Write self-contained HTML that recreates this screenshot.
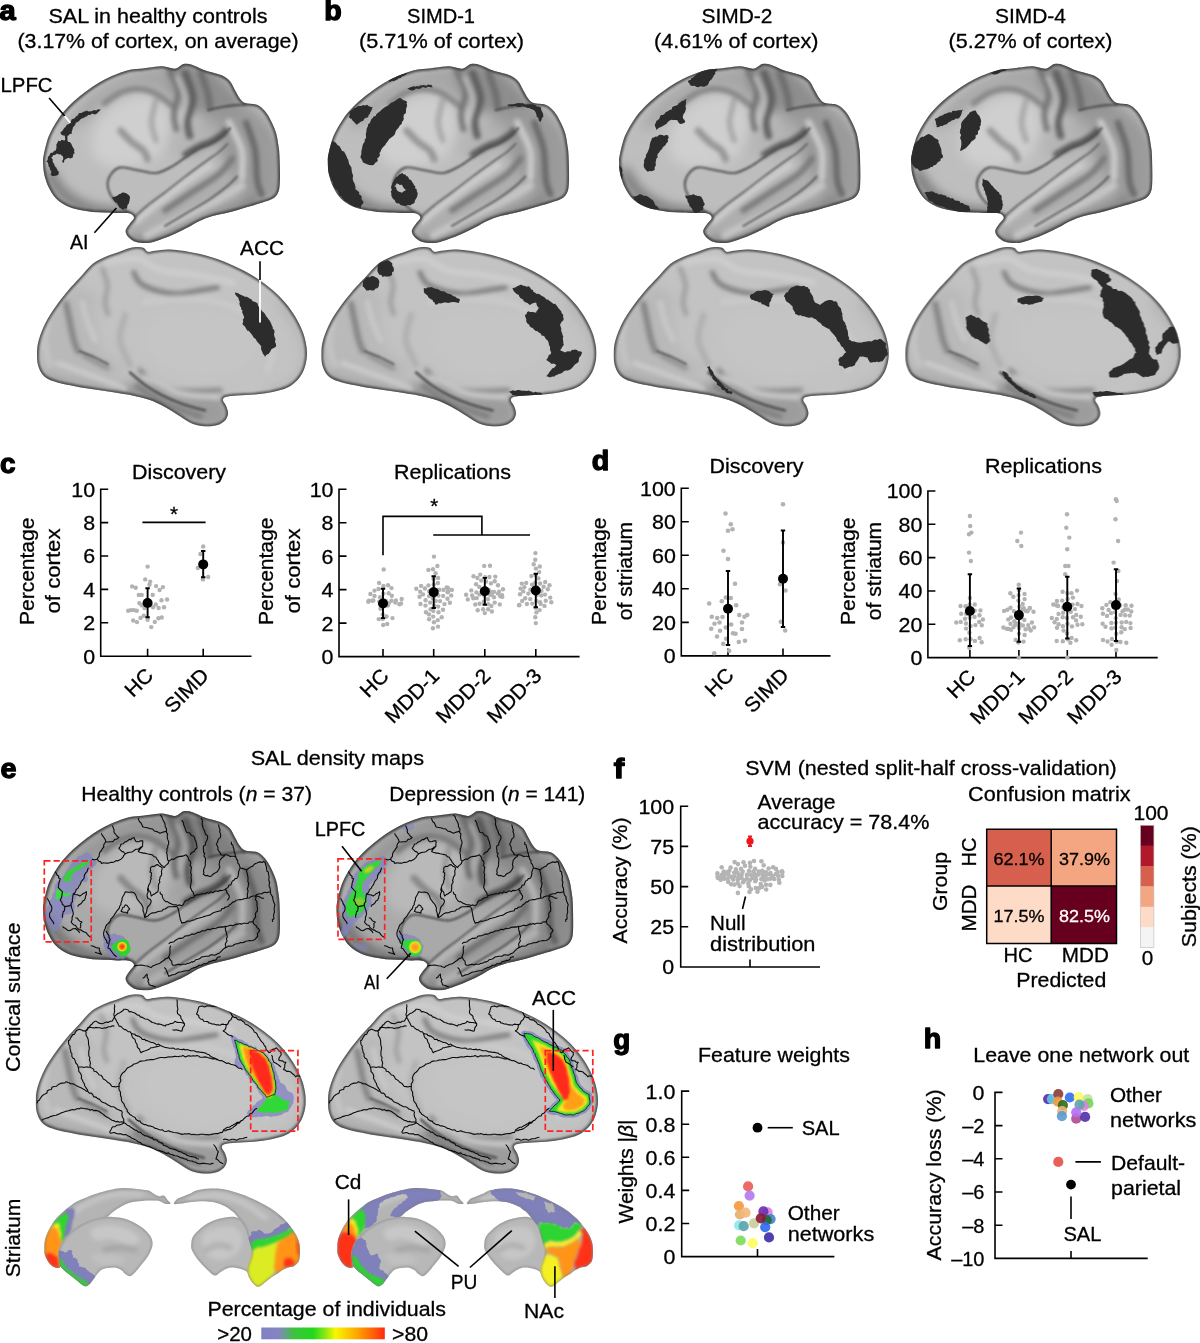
<!DOCTYPE html>
<html><head><meta charset="utf-8"><title>Figure</title>
<style>html,body{margin:0;padding:0;background:#fff}svg{display:block}text{font-family:"Liberation Sans",sans-serif;stroke:#000;stroke-width:0.3px}</style>
</head><body>
<svg width="1200" height="1343" viewBox="0 0 1200 1343">
<rect width="1200" height="1343" fill="#fff"/>
<text x="-0.50" y="20.00" font-size="27.5" textLength="16.20" lengthAdjust="spacingAndGlyphs" font-weight="bold" style="stroke-width:1.3px;stroke-linejoin:round" >a</text>
<text x="324.20" y="20.00" font-size="27.5" textLength="17.50" lengthAdjust="spacingAndGlyphs" font-weight="bold" style="stroke-width:1.3px;stroke-linejoin:round" >b</text>
<text x="48.50" y="23.00" font-size="20.6" textLength="219.00" lengthAdjust="spacingAndGlyphs" >SAL in healthy controls</text>
<text x="17.50" y="48.20" font-size="20.6" textLength="281.00" lengthAdjust="spacingAndGlyphs" >(3.17% of cortex, on average)</text>
<text x="407.00" y="23.00" font-size="20.6" textLength="68.00" lengthAdjust="spacingAndGlyphs" >SIMD-1</text>
<text x="359.00" y="48.20" font-size="20.6" textLength="165.00" lengthAdjust="spacingAndGlyphs" >(5.71% of cortex)</text>
<text x="701.50" y="23.00" font-size="20.6" textLength="71.00" lengthAdjust="spacingAndGlyphs" >SIMD-2</text>
<text x="653.95" y="48.20" font-size="20.6" textLength="164.50" lengthAdjust="spacingAndGlyphs" >(4.61% of cortex)</text>
<text x="995.00" y="23.00" font-size="20.6" textLength="71.00" lengthAdjust="spacingAndGlyphs" >SIMD-4</text>
<text x="948.50" y="48.20" font-size="20.6" textLength="164.00" lengthAdjust="spacingAndGlyphs" >(5.27% of cortex)</text>
<text x="0.50" y="91.50" font-size="20.6" textLength="52.00" lengthAdjust="spacingAndGlyphs" >LPFC</text>
<text x="70.00" y="249.00" font-size="20.6" textLength="18.50" lengthAdjust="spacingAndGlyphs" >AI</text>
<text x="240.00" y="255.00" font-size="20.6" textLength="44.00" lengthAdjust="spacingAndGlyphs" >ACC</text>
<text x="0.00" y="472.50" font-size="27.5" textLength="15.50" lengthAdjust="spacingAndGlyphs" font-weight="bold" style="stroke-width:1.3px;stroke-linejoin:round" >c</text>
<text x="132.00" y="479.00" font-size="20.6" textLength="94.00" lengthAdjust="spacingAndGlyphs" >Discovery</text>
<text x="83.29" y="663.60" font-size="20.6" textLength="11.91" lengthAdjust="spacingAndGlyphs" >0</text>
<text x="83.29" y="630.20" font-size="20.6" textLength="11.91" lengthAdjust="spacingAndGlyphs" >2</text>
<text x="83.29" y="596.80" font-size="20.6" textLength="11.91" lengthAdjust="spacingAndGlyphs" >4</text>
<text x="83.29" y="563.40" font-size="20.6" textLength="11.91" lengthAdjust="spacingAndGlyphs" >6</text>
<text x="83.29" y="530.00" font-size="20.6" textLength="11.91" lengthAdjust="spacingAndGlyphs" >8</text>
<text x="71.37" y="496.60" font-size="20.6" textLength="23.83" lengthAdjust="spacingAndGlyphs" >10</text>
<path d="M100.70 488.40V656.20H251.50M100.70 656.20h7.5M100.70 622.80h7.5M100.70 589.40h7.5M100.70 556.00h7.5M100.70 522.60h7.5M100.70 489.20h7.5M147.60 656.20v-7.5M203.20 656.20v-7.5" stroke="#000" stroke-width="1.6" fill="none" stroke-linecap="butt"/>
<text x="123.95" y="676.70" font-size="20.6" textLength="30.65" lengthAdjust="spacingAndGlyphs" transform="rotate(-45 154.60 676.70)" >HC</text>
<text x="157.15" y="676.70" font-size="20.6" textLength="53.05" lengthAdjust="spacingAndGlyphs" transform="rotate(-45 210.20 676.70)" >SIMD</text>
<text x="-19.75" y="571.30" font-size="20.6" textLength="107.50" lengthAdjust="spacingAndGlyphs" transform="rotate(-90 34.00 571.30)" >Percentage</text>
<text x="17.00" y="571.00" font-size="20.6" textLength="85.00" lengthAdjust="spacingAndGlyphs" transform="rotate(-90 59.50 571.00)" >of cortex</text>
<g fill="#b2b2b2"><circle cx="147.6" cy="566.6" r="2.2"/><circle cx="145.2" cy="579.4" r="2.2"/><circle cx="150.2" cy="581.6" r="2.2"/><circle cx="149.5" cy="584.7" r="2.2"/><circle cx="132.1" cy="586.4" r="2.2"/><circle cx="135.7" cy="587.8" r="2.2"/><circle cx="156.1" cy="586.1" r="2.2"/><circle cx="162.9" cy="587.1" r="2.2"/><circle cx="159.6" cy="590.0" r="2.2"/><circle cx="138.8" cy="594.9" r="2.2"/><circle cx="141.7" cy="594.9" r="2.2"/><circle cx="152.7" cy="594.9" r="2.2"/><circle cx="167.1" cy="599.5" r="2.2"/><circle cx="161.5" cy="600.2" r="2.2"/><circle cx="139.3" cy="603.1" r="2.2"/><circle cx="155.8" cy="604.5" r="2.2"/><circle cx="141.7" cy="605.2" r="2.2"/><circle cx="144.5" cy="608.0" r="2.2"/><circle cx="153.0" cy="607.3" r="2.2"/><circle cx="158.6" cy="608.0" r="2.2"/><circle cx="164.0" cy="607.3" r="2.2"/><circle cx="128.2" cy="610.8" r="2.2"/><circle cx="131.1" cy="610.1" r="2.2"/><circle cx="133.9" cy="610.1" r="2.2"/><circle cx="136.7" cy="610.8" r="2.2"/><circle cx="143.8" cy="615.8" r="2.2"/><circle cx="140.5" cy="617.9" r="2.2"/><circle cx="147.6" cy="619.7" r="2.2"/><circle cx="133.2" cy="620.5" r="2.2"/><circle cx="137.0" cy="622.1" r="2.2"/><circle cx="158.4" cy="618.3" r="2.2"/><circle cx="161.8" cy="617.5" r="2.2"/><circle cx="154.8" cy="621.9" r="2.2"/><circle cx="151.3" cy="627.1" r="2.2"/><circle cx="203.2" cy="546.5" r="2.2"/><circle cx="200.4" cy="554.0" r="2.2"/><circle cx="197.8" cy="568.0" r="2.2"/><circle cx="208.2" cy="577.0" r="2.2"/><circle cx="202.9" cy="579.4" r="2.2"/></g>
<path d="M147.60 588.20V617.20M145.40 588.20h4.4M145.40 617.20h4.4" stroke="#000" stroke-width="1.9" fill="none"/>
<circle cx="147.60" cy="603.00" r="5" fill="#000"/>
<path d="M203.20 551.00V577.30M201.00 551.00h4.4M201.00 577.30h4.4" stroke="#000" stroke-width="1.9" fill="none"/>
<circle cx="203.20" cy="564.40" r="5" fill="#000"/>
<path d="M142.4 522.4H205.6" stroke="#000" stroke-width="1.6" fill="none" stroke-linecap="butt"/>
<text x="169.99" y="521.00" font-size="20.6" textLength="8.02" lengthAdjust="spacingAndGlyphs" >*</text>
<text x="394.00" y="479.00" font-size="20.6" textLength="117.00" lengthAdjust="spacingAndGlyphs" >Replications</text>
<text x="321.59" y="664.00" font-size="20.6" textLength="11.91" lengthAdjust="spacingAndGlyphs" >0</text>
<text x="321.59" y="630.52" font-size="20.6" textLength="11.91" lengthAdjust="spacingAndGlyphs" >2</text>
<text x="321.59" y="597.04" font-size="20.6" textLength="11.91" lengthAdjust="spacingAndGlyphs" >4</text>
<text x="321.59" y="563.56" font-size="20.6" textLength="11.91" lengthAdjust="spacingAndGlyphs" >6</text>
<text x="321.59" y="530.08" font-size="20.6" textLength="11.91" lengthAdjust="spacingAndGlyphs" >8</text>
<text x="309.67" y="496.60" font-size="20.6" textLength="23.83" lengthAdjust="spacingAndGlyphs" >10</text>
<path d="M339.00 488.40V656.60H579.60M339.00 656.60h7.5M339.00 623.12h7.5M339.00 589.64h7.5M339.00 556.16h7.5M339.00 522.68h7.5M339.00 489.20h7.5M383.00 656.60v-7.5M433.70 656.60v-7.5M484.80 656.60v-7.5M535.80 656.60v-7.5" stroke="#000" stroke-width="1.6" fill="none" stroke-linecap="butt"/>
<text x="359.35" y="677.10" font-size="20.6" textLength="30.65" lengthAdjust="spacingAndGlyphs" transform="rotate(-45 390.00 677.10)" >HC</text>
<text x="373.52" y="677.10" font-size="20.6" textLength="67.18" lengthAdjust="spacingAndGlyphs" transform="rotate(-45 440.70 677.10)" >MDD-1</text>
<text x="424.62" y="677.10" font-size="20.6" textLength="67.18" lengthAdjust="spacingAndGlyphs" transform="rotate(-45 491.80 677.10)" >MDD-2</text>
<text x="475.62" y="677.10" font-size="20.6" textLength="67.18" lengthAdjust="spacingAndGlyphs" transform="rotate(-45 542.80 677.10)" >MDD-3</text>
<text x="219.25" y="571.30" font-size="20.6" textLength="107.50" lengthAdjust="spacingAndGlyphs" transform="rotate(-90 273.00 571.30)" >Percentage</text>
<text x="257.00" y="571.00" font-size="20.6" textLength="85.00" lengthAdjust="spacingAndGlyphs" transform="rotate(-90 299.50 571.00)" >of cortex</text>
<g fill="#b2b2b2"><circle cx="382.4" cy="604.5" r="2.2"/><circle cx="385.9" cy="600.7" r="2.2"/><circle cx="383.4" cy="586.0" r="2.2"/><circle cx="379.3" cy="601.6" r="2.2"/><circle cx="383.4" cy="593.6" r="2.2"/><circle cx="387.9" cy="605.6" r="2.2"/><circle cx="391.5" cy="600.7" r="2.2"/><circle cx="388.1" cy="585.2" r="2.2"/><circle cx="373.3" cy="600.4" r="2.2"/><circle cx="395.9" cy="600.5" r="2.2"/><circle cx="368.3" cy="601.7" r="2.2"/><circle cx="401.7" cy="599.0" r="2.2"/><circle cx="388.7" cy="593.3" r="2.2"/><circle cx="384.8" cy="602.4" r="2.2"/><circle cx="382.7" cy="614.4" r="2.2"/><circle cx="399.4" cy="604.3" r="2.2"/><circle cx="380.5" cy="608.7" r="2.2"/><circle cx="378.5" cy="589.0" r="2.2"/><circle cx="386.5" cy="616.5" r="2.2"/><circle cx="382.8" cy="618.9" r="2.2"/><circle cx="383.2" cy="625.0" r="2.2"/><circle cx="388.9" cy="603.1" r="2.2"/><circle cx="391.5" cy="588.1" r="2.2"/><circle cx="378.7" cy="619.1" r="2.2"/><circle cx="380.1" cy="597.2" r="2.2"/><circle cx="372.3" cy="600.7" r="2.2"/><circle cx="392.5" cy="618.1" r="2.2"/><circle cx="374.5" cy="595.9" r="2.2"/><circle cx="401.0" cy="603.5" r="2.2"/><circle cx="395.4" cy="602.6" r="2.2"/><circle cx="387.2" cy="624.0" r="2.2"/><circle cx="391.8" cy="595.8" r="2.2"/><circle cx="370.4" cy="594.0" r="2.2"/><circle cx="379.1" cy="582.9" r="2.2"/><circle cx="368.9" cy="600.6" r="2.2"/><circle cx="374.5" cy="590.6" r="2.2"/><circle cx="383.7" cy="569.5" r="2.2"/></g>
<path d="M383.00 588.80V618.10M380.80 588.80h4.4M380.80 618.10h4.4" stroke="#000" stroke-width="1.9" fill="none"/>
<circle cx="383.00" cy="603.53" r="5" fill="#000"/>
<g fill="#b2b2b2"><circle cx="433.8" cy="584.5" r="2.2"/><circle cx="433.2" cy="589.1" r="2.2"/><circle cx="434.4" cy="605.7" r="2.2"/><circle cx="439.4" cy="589.8" r="2.2"/><circle cx="433.6" cy="578.9" r="2.2"/><circle cx="434.0" cy="596.8" r="2.2"/><circle cx="438.2" cy="606.6" r="2.2"/><circle cx="433.3" cy="611.1" r="2.2"/><circle cx="438.4" cy="595.5" r="2.2"/><circle cx="429.0" cy="596.1" r="2.2"/><circle cx="429.2" cy="591.3" r="2.2"/><circle cx="430.5" cy="609.2" r="2.2"/><circle cx="433.0" cy="569.2" r="2.2"/><circle cx="443.2" cy="595.9" r="2.2"/><circle cx="423.0" cy="594.4" r="2.2"/><circle cx="430.1" cy="602.6" r="2.2"/><circle cx="438.5" cy="612.3" r="2.2"/><circle cx="435.7" cy="600.9" r="2.2"/><circle cx="428.4" cy="585.4" r="2.2"/><circle cx="424.9" cy="588.5" r="2.2"/><circle cx="443.5" cy="589.9" r="2.2"/><circle cx="433.2" cy="616.6" r="2.2"/><circle cx="447.6" cy="592.3" r="2.2"/><circle cx="437.4" cy="566.0" r="2.2"/><circle cx="440.1" cy="601.1" r="2.2"/><circle cx="420.2" cy="591.8" r="2.2"/><circle cx="434.0" cy="622.2" r="2.2"/><circle cx="448.0" cy="587.9" r="2.2"/><circle cx="416.3" cy="588.7" r="2.2"/><circle cx="419.5" cy="596.7" r="2.2"/><circle cx="425.5" cy="605.6" r="2.2"/><circle cx="425.6" cy="600.3" r="2.2"/><circle cx="444.5" cy="604.1" r="2.2"/><circle cx="443.0" cy="609.8" r="2.2"/><circle cx="432.9" cy="628.3" r="2.2"/><circle cx="435.6" cy="573.2" r="2.2"/><circle cx="437.8" cy="620.1" r="2.2"/><circle cx="447.5" cy="598.7" r="2.2"/><circle cx="446.7" cy="587.5" r="2.2"/><circle cx="434.0" cy="556.6" r="2.2"/><circle cx="437.9" cy="583.0" r="2.2"/><circle cx="451.8" cy="589.9" r="2.2"/><circle cx="438.1" cy="577.9" r="2.2"/><circle cx="429.0" cy="614.4" r="2.2"/><circle cx="451.2" cy="595.4" r="2.2"/><circle cx="438.0" cy="626.6" r="2.2"/><circle cx="429.1" cy="619.3" r="2.2"/><circle cx="426.0" cy="612.2" r="2.2"/><circle cx="421.1" cy="585.9" r="2.2"/><circle cx="420.5" cy="604.0" r="2.2"/><circle cx="449.9" cy="602.7" r="2.2"/><circle cx="441.7" cy="617.3" r="2.2"/><circle cx="448.1" cy="591.5" r="2.2"/><circle cx="432.9" cy="598.4" r="2.2"/><circle cx="428.4" cy="569.9" r="2.2"/></g>
<path d="M433.70 576.25V608.05M431.50 576.25h4.4M431.50 608.05h4.4" stroke="#000" stroke-width="1.9" fill="none"/>
<circle cx="433.70" cy="592.15" r="5" fill="#000"/>
<g fill="#b2b2b2"><circle cx="484.2" cy="565.9" r="2.2"/><circle cx="485.0" cy="588.1" r="2.2"/><circle cx="484.3" cy="595.6" r="2.2"/><circle cx="490.1" cy="594.8" r="2.2"/><circle cx="485.0" cy="577.3" r="2.2"/><circle cx="479.6" cy="594.4" r="2.2"/><circle cx="494.0" cy="597.2" r="2.2"/><circle cx="487.9" cy="599.2" r="2.2"/><circle cx="486.1" cy="581.5" r="2.2"/><circle cx="488.8" cy="590.0" r="2.2"/><circle cx="494.0" cy="591.9" r="2.2"/><circle cx="483.8" cy="601.8" r="2.2"/><circle cx="476.4" cy="592.4" r="2.2"/><circle cx="488.2" cy="604.1" r="2.2"/><circle cx="479.6" cy="603.8" r="2.2"/><circle cx="491.4" cy="606.0" r="2.2"/><circle cx="481.2" cy="580.6" r="2.2"/><circle cx="475.3" cy="604.5" r="2.2"/><circle cx="472.1" cy="595.5" r="2.2"/><circle cx="499.0" cy="591.7" r="2.2"/><circle cx="494.7" cy="602.6" r="2.2"/><circle cx="499.8" cy="604.4" r="2.2"/><circle cx="489.4" cy="577.0" r="2.2"/><circle cx="484.8" cy="613.1" r="2.2"/><circle cx="480.2" cy="574.6" r="2.2"/><circle cx="502.0" cy="595.1" r="2.2"/><circle cx="490.0" cy="565.8" r="2.2"/><circle cx="488.1" cy="609.2" r="2.2"/><circle cx="477.4" cy="578.0" r="2.2"/><circle cx="466.1" cy="594.8" r="2.2"/><circle cx="491.1" cy="591.9" r="2.2"/><circle cx="483.1" cy="609.2" r="2.2"/><circle cx="500.3" cy="596.2" r="2.2"/><circle cx="498.0" cy="593.6" r="2.2"/><circle cx="477.7" cy="610.3" r="2.2"/><circle cx="502.3" cy="596.7" r="2.2"/><circle cx="491.6" cy="594.5" r="2.2"/><circle cx="471.3" cy="590.4" r="2.2"/><circle cx="479.3" cy="586.9" r="2.2"/><circle cx="490.9" cy="583.4" r="2.2"/><circle cx="503.0" cy="589.2" r="2.2"/><circle cx="494.7" cy="581.3" r="2.2"/><circle cx="491.9" cy="611.5" r="2.2"/><circle cx="476.7" cy="598.1" r="2.2"/><circle cx="476.1" cy="584.3" r="2.2"/><circle cx="473.3" cy="598.3" r="2.2"/><circle cx="495.3" cy="576.6" r="2.2"/><circle cx="498.0" cy="585.2" r="2.2"/><circle cx="467.8" cy="599.4" r="2.2"/><circle cx="473.5" cy="576.2" r="2.2"/></g>
<path d="M484.80 577.92V604.71M482.60 577.92h4.4M482.60 604.71h4.4" stroke="#000" stroke-width="1.9" fill="none"/>
<circle cx="484.80" cy="591.31" r="5" fill="#000"/>
<g fill="#b2b2b2"><circle cx="536.6" cy="595.1" r="2.2"/><circle cx="535.7" cy="575.0" r="2.2"/><circle cx="541.2" cy="595.4" r="2.2"/><circle cx="536.2" cy="589.3" r="2.2"/><circle cx="535.3" cy="582.7" r="2.2"/><circle cx="540.1" cy="583.5" r="2.2"/><circle cx="532.0" cy="584.6" r="2.2"/><circle cx="526.2" cy="582.9" r="2.2"/><circle cx="543.6" cy="586.8" r="2.2"/><circle cx="541.4" cy="590.9" r="2.2"/><circle cx="536.4" cy="600.9" r="2.2"/><circle cx="545.2" cy="582.0" r="2.2"/><circle cx="540.1" cy="602.3" r="2.2"/><circle cx="530.4" cy="589.8" r="2.2"/><circle cx="528.3" cy="593.6" r="2.2"/><circle cx="545.0" cy="594.6" r="2.2"/><circle cx="538.4" cy="578.4" r="2.2"/><circle cx="530.2" cy="599.1" r="2.2"/><circle cx="525.2" cy="598.2" r="2.2"/><circle cx="521.8" cy="583.6" r="2.2"/><circle cx="523.3" cy="591.4" r="2.2"/><circle cx="545.7" cy="600.8" r="2.2"/><circle cx="550.2" cy="597.6" r="2.2"/><circle cx="522.2" cy="600.9" r="2.2"/><circle cx="535.7" cy="607.8" r="2.2"/><circle cx="532.3" cy="603.6" r="2.2"/><circle cx="526.9" cy="604.0" r="2.2"/><circle cx="551.3" cy="602.3" r="2.2"/><circle cx="519.4" cy="604.9" r="2.2"/><circle cx="539.6" cy="610.1" r="2.2"/><circle cx="535.9" cy="568.6" r="2.2"/><circle cx="544.5" cy="605.9" r="2.2"/><circle cx="520.0" cy="594.2" r="2.2"/><circle cx="547.8" cy="589.3" r="2.2"/><circle cx="524.4" cy="587.1" r="2.2"/><circle cx="519.1" cy="605.3" r="2.2"/><circle cx="535.3" cy="617.2" r="2.2"/><circle cx="520.6" cy="588.6" r="2.2"/><circle cx="531.4" cy="576.0" r="2.2"/><circle cx="536.4" cy="612.4" r="2.2"/><circle cx="535.8" cy="623.1" r="2.2"/><circle cx="540.7" cy="603.9" r="2.2"/><circle cx="549.5" cy="585.3" r="2.2"/><circle cx="539.8" cy="566.5" r="2.2"/><circle cx="539.2" cy="572.1" r="2.2"/><circle cx="533.7" cy="564.3" r="2.2"/><circle cx="535.4" cy="553.1" r="2.2"/><circle cx="535.2" cy="559.7" r="2.2"/></g>
<path d="M535.80 573.74V607.22M533.60 573.74h4.4M533.60 607.22h4.4" stroke="#000" stroke-width="1.9" fill="none"/>
<circle cx="535.80" cy="590.48" r="5" fill="#000"/>
<path d="M383 555.2V516.4H481.9V535M433.2 535H530" stroke="#000" stroke-width="1.6" fill="none" stroke-linecap="butt"/>
<text x="430.29" y="513.00" font-size="20.6" textLength="8.02" lengthAdjust="spacingAndGlyphs" >*</text>
<text x="591.70" y="470.00" font-size="27.5" textLength="17.50" lengthAdjust="spacingAndGlyphs" font-weight="bold" style="stroke-width:1.3px;stroke-linejoin:round" >d</text>
<text x="709.50" y="472.50" font-size="20.6" textLength="94.00" lengthAdjust="spacingAndGlyphs" >Discovery</text>
<text x="663.89" y="663.30" font-size="20.6" textLength="11.91" lengthAdjust="spacingAndGlyphs" >0</text>
<text x="651.97" y="629.76" font-size="20.6" textLength="23.83" lengthAdjust="spacingAndGlyphs" >20</text>
<text x="651.97" y="596.22" font-size="20.6" textLength="23.83" lengthAdjust="spacingAndGlyphs" >40</text>
<text x="651.97" y="562.68" font-size="20.6" textLength="23.83" lengthAdjust="spacingAndGlyphs" >60</text>
<text x="651.97" y="529.14" font-size="20.6" textLength="23.83" lengthAdjust="spacingAndGlyphs" >80</text>
<text x="640.06" y="495.60" font-size="20.6" textLength="35.74" lengthAdjust="spacingAndGlyphs" >100</text>
<path d="M681.30 487.40V655.90H830.50M681.30 655.90h7.5M681.30 622.36h7.5M681.30 588.82h7.5M681.30 555.28h7.5M681.30 521.74h7.5M681.30 488.20h7.5M728.00 655.90v-7.5M783.00 655.90v-7.5" stroke="#000" stroke-width="1.6" fill="none" stroke-linecap="butt"/>
<text x="704.35" y="676.40" font-size="20.6" textLength="30.65" lengthAdjust="spacingAndGlyphs" transform="rotate(-45 735.00 676.40)" >HC</text>
<text x="736.96" y="676.40" font-size="20.6" textLength="53.05" lengthAdjust="spacingAndGlyphs" transform="rotate(-45 790.00 676.40)" >SIMD</text>
<text x="552.25" y="571.30" font-size="20.6" textLength="107.50" lengthAdjust="spacingAndGlyphs" transform="rotate(-90 606.00 571.30)" >Percentage</text>
<text x="582.85" y="571.00" font-size="20.6" textLength="98.30" lengthAdjust="spacingAndGlyphs" transform="rotate(-90 632.00 571.00)" >of striatum</text>
<g fill="#b2b2b2"><circle cx="725.5" cy="513.5" r="2.3"/><circle cx="730.8" cy="524.2" r="2.3"/><circle cx="732.5" cy="529.2" r="2.3"/><circle cx="728.0" cy="530.8" r="2.3"/><circle cx="723.5" cy="550.8" r="2.3"/><circle cx="728.0" cy="559.0" r="2.3"/><circle cx="735.0" cy="583.8" r="2.3"/><circle cx="725.8" cy="597.5" r="2.3"/><circle cx="730.8" cy="598.0" r="2.3"/><circle cx="721.8" cy="601.2" r="2.3"/><circle cx="709.2" cy="603.5" r="2.3"/><circle cx="736.2" cy="605.2" r="2.3"/><circle cx="711.8" cy="616.8" r="2.3"/><circle cx="717.2" cy="618.0" r="2.3"/><circle cx="722.5" cy="617.0" r="2.3"/><circle cx="739.2" cy="615.0" r="2.3"/><circle cx="744.5" cy="616.8" r="2.3"/><circle cx="747.2" cy="615.0" r="2.3"/><circle cx="714.5" cy="623.8" r="2.3"/><circle cx="719.5" cy="622.5" r="2.3"/><circle cx="731.2" cy="624.5" r="2.3"/><circle cx="742.0" cy="622.5" r="2.3"/><circle cx="711.2" cy="628.8" r="2.3"/><circle cx="725.8" cy="627.5" r="2.3"/><circle cx="742.0" cy="629.0" r="2.3"/><circle cx="720.0" cy="630.8" r="2.3"/><circle cx="733.0" cy="633.2" r="2.3"/><circle cx="735.5" cy="633.8" r="2.3"/><circle cx="726.2" cy="638.8" r="2.3"/><circle cx="717.0" cy="636.5" r="2.3"/><circle cx="723.2" cy="643.8" r="2.3"/><circle cx="738.8" cy="642.0" r="2.3"/><circle cx="745.0" cy="640.8" r="2.3"/><circle cx="729.2" cy="650.8" r="2.3"/><circle cx="714.2" cy="653.2" r="2.3"/><circle cx="783.0" cy="504.2" r="2.3"/><circle cx="783.0" cy="542.5" r="2.3"/><circle cx="780.0" cy="584.2" r="2.3"/><circle cx="785.5" cy="590.5" r="2.3"/><circle cx="780.8" cy="621.8" r="2.3"/><circle cx="785.2" cy="630.5" r="2.3"/></g>
<path d="M728.00 571.00V645.00M725.80 571.00h4.4M725.80 645.00h4.4" stroke="#000" stroke-width="1.9" fill="none"/>
<circle cx="728.00" cy="608.75" r="5" fill="#000"/>
<path d="M783.00 530.50V627.00M780.80 530.50h4.4M780.80 627.00h4.4" stroke="#000" stroke-width="1.9" fill="none"/>
<circle cx="783.00" cy="578.75" r="5" fill="#000"/>
<text x="985.00" y="472.50" font-size="20.6" textLength="117.00" lengthAdjust="spacingAndGlyphs" >Replications</text>
<text x="910.49" y="665.00" font-size="20.6" textLength="11.91" lengthAdjust="spacingAndGlyphs" >0</text>
<text x="898.57" y="631.68" font-size="20.6" textLength="23.83" lengthAdjust="spacingAndGlyphs" >20</text>
<text x="898.57" y="598.36" font-size="20.6" textLength="23.83" lengthAdjust="spacingAndGlyphs" >40</text>
<text x="898.57" y="565.04" font-size="20.6" textLength="23.83" lengthAdjust="spacingAndGlyphs" >60</text>
<text x="898.57" y="531.72" font-size="20.6" textLength="23.83" lengthAdjust="spacingAndGlyphs" >80</text>
<text x="886.66" y="498.40" font-size="20.6" textLength="35.74" lengthAdjust="spacingAndGlyphs" >100</text>
<path d="M927.90 490.20V657.60H1157.70M927.90 657.60h7.5M927.90 624.28h7.5M927.90 590.96h7.5M927.90 557.64h7.5M927.90 524.32h7.5M927.90 491.00h7.5M969.90 657.60v-7.5M1018.90 657.60v-7.5M1067.30 657.60v-7.5M1116.00 657.60v-7.5" stroke="#000" stroke-width="1.6" fill="none" stroke-linecap="butt"/>
<text x="946.25" y="678.10" font-size="20.6" textLength="30.65" lengthAdjust="spacingAndGlyphs" transform="rotate(-45 976.90 678.10)" >HC</text>
<text x="958.72" y="678.10" font-size="20.6" textLength="67.18" lengthAdjust="spacingAndGlyphs" transform="rotate(-45 1025.90 678.10)" >MDD-1</text>
<text x="1007.12" y="678.10" font-size="20.6" textLength="67.18" lengthAdjust="spacingAndGlyphs" transform="rotate(-45 1074.30 678.10)" >MDD-2</text>
<text x="1055.82" y="678.10" font-size="20.6" textLength="67.18" lengthAdjust="spacingAndGlyphs" transform="rotate(-45 1123.00 678.10)" >MDD-3</text>
<text x="801.65" y="571.30" font-size="20.6" textLength="107.50" lengthAdjust="spacingAndGlyphs" transform="rotate(-90 855.40 571.30)" >Percentage</text>
<text x="831.85" y="571.00" font-size="20.6" textLength="98.30" lengthAdjust="spacingAndGlyphs" transform="rotate(-90 881.00 571.00)" >of striatum</text>
<g fill="#b2b2b2"><circle cx="970.6" cy="626.1" r="2.2"/><circle cx="969.7" cy="617.8" r="2.2"/><circle cx="975.4" cy="625.1" r="2.2"/><circle cx="974.5" cy="616.9" r="2.2"/><circle cx="969.9" cy="598.0" r="2.2"/><circle cx="969.5" cy="610.4" r="2.2"/><circle cx="965.0" cy="618.8" r="2.2"/><circle cx="966.2" cy="613.8" r="2.2"/><circle cx="974.8" cy="610.6" r="2.2"/><circle cx="969.6" cy="604.5" r="2.2"/><circle cx="961.2" cy="613.8" r="2.2"/><circle cx="980.4" cy="610.4" r="2.2"/><circle cx="970.6" cy="639.3" r="2.2"/><circle cx="969.3" cy="647.8" r="2.2"/><circle cx="966.1" cy="628.6" r="2.2"/><circle cx="974.9" cy="640.9" r="2.2"/><circle cx="974.8" cy="604.5" r="2.2"/><circle cx="966.0" cy="623.5" r="2.2"/><circle cx="979.2" cy="621.9" r="2.2"/><circle cx="979.5" cy="615.3" r="2.2"/><circle cx="960.7" cy="621.9" r="2.2"/><circle cx="982.9" cy="619.5" r="2.2"/><circle cx="965.7" cy="639.2" r="2.2"/><circle cx="979.6" cy="638.0" r="2.2"/><circle cx="956.3" cy="622.5" r="2.2"/><circle cx="959.8" cy="640.3" r="2.2"/><circle cx="965.6" cy="606.2" r="2.2"/><circle cx="981.7" cy="642.2" r="2.2"/><circle cx="960.5" cy="606.0" r="2.2"/><circle cx="969.4" cy="632.7" r="2.2"/><circle cx="981.8" cy="625.3" r="2.2"/><circle cx="969.9" cy="516.0" r="2.2"/><circle cx="970.2" cy="526.0" r="2.2"/><circle cx="971.4" cy="532.6" r="2.2"/><circle cx="969.0" cy="534.3" r="2.2"/><circle cx="969.0" cy="552.6" r="2.2"/><circle cx="970.9" cy="561.0" r="2.2"/></g>
<path d="M969.90 574.30V645.94M967.70 574.30h4.4M967.70 645.94h4.4" stroke="#000" stroke-width="1.9" fill="none"/>
<circle cx="969.90" cy="610.95" r="5" fill="#000"/>
<g fill="#b2b2b2"><circle cx="1019.4" cy="606.5" r="2.2"/><circle cx="1018.4" cy="623.4" r="2.2"/><circle cx="1019.6" cy="618.5" r="2.2"/><circle cx="1022.9" cy="625.5" r="2.2"/><circle cx="1018.7" cy="595.1" r="2.2"/><circle cx="1019.1" cy="590.1" r="2.2"/><circle cx="1018.4" cy="600.6" r="2.2"/><circle cx="1014.4" cy="621.3" r="2.2"/><circle cx="1022.8" cy="609.0" r="2.2"/><circle cx="1018.5" cy="612.4" r="2.2"/><circle cx="1019.2" cy="628.1" r="2.2"/><circle cx="1013.8" cy="611.1" r="2.2"/><circle cx="1022.7" cy="603.9" r="2.2"/><circle cx="1013.5" cy="627.1" r="2.2"/><circle cx="1010.5" cy="607.8" r="2.2"/><circle cx="1028.2" cy="625.1" r="2.2"/><circle cx="1027.5" cy="611.2" r="2.2"/><circle cx="1008.7" cy="628.9" r="2.2"/><circle cx="1007.4" cy="609.8" r="2.2"/><circle cx="1025.6" cy="629.2" r="2.2"/><circle cx="1024.3" cy="620.0" r="2.2"/><circle cx="1010.5" cy="623.7" r="2.2"/><circle cx="1019.0" cy="633.6" r="2.2"/><circle cx="1029.8" cy="607.9" r="2.2"/><circle cx="1033.5" cy="611.8" r="2.2"/><circle cx="1025.4" cy="610.7" r="2.2"/><circle cx="1023.8" cy="608.2" r="2.2"/><circle cx="1018.3" cy="642.6" r="2.2"/><circle cx="1030.8" cy="630.6" r="2.2"/><circle cx="1003.4" cy="627.5" r="2.2"/><circle cx="1023.5" cy="641.6" r="2.2"/><circle cx="1024.6" cy="635.0" r="2.2"/><circle cx="1015.6" cy="639.9" r="2.2"/><circle cx="1034.1" cy="627.4" r="2.2"/><circle cx="1011.1" cy="617.5" r="2.2"/><circle cx="1006.7" cy="628.8" r="2.2"/><circle cx="1011.1" cy="629.8" r="2.2"/><circle cx="1015.1" cy="625.1" r="2.2"/><circle cx="1019.6" cy="610.6" r="2.2"/><circle cx="1029.2" cy="628.4" r="2.2"/><circle cx="1031.9" cy="622.5" r="2.2"/><circle cx="1018.9" cy="626.8" r="2.2"/><circle cx="1024.5" cy="593.9" r="2.2"/><circle cx="1013.3" cy="596.7" r="2.2"/><circle cx="1004.1" cy="610.9" r="2.2"/><circle cx="1008.3" cy="619.4" r="2.2"/><circle cx="1010.3" cy="593.2" r="2.2"/><circle cx="1029.7" cy="608.5" r="2.2"/><circle cx="1016.1" cy="623.9" r="2.2"/><circle cx="1024.6" cy="599.1" r="2.2"/><circle cx="1019.9" cy="624.2" r="2.2"/><circle cx="1018.8" cy="584.8" r="2.2"/><circle cx="1021.0" cy="532.6" r="2.2"/><circle cx="1017.3" cy="541.0" r="2.2"/><circle cx="1021.3" cy="546.0" r="2.2"/><circle cx="1018.9" cy="657.6" r="2.2"/></g>
<path d="M1018.90 588.46V641.77M1016.70 588.46h4.4M1016.70 641.77h4.4" stroke="#000" stroke-width="1.9" fill="none"/>
<circle cx="1018.90" cy="615.12" r="5" fill="#000"/>
<g fill="#b2b2b2"><circle cx="1067.3" cy="604.0" r="2.2"/><circle cx="1072.6" cy="604.6" r="2.2"/><circle cx="1067.5" cy="623.8" r="2.2"/><circle cx="1067.6" cy="599.1" r="2.2"/><circle cx="1072.9" cy="597.6" r="2.2"/><circle cx="1067.7" cy="609.5" r="2.2"/><circle cx="1070.8" cy="611.7" r="2.2"/><circle cx="1066.9" cy="618.0" r="2.2"/><circle cx="1063.2" cy="607.4" r="2.2"/><circle cx="1058.1" cy="606.0" r="2.2"/><circle cx="1073.0" cy="617.2" r="2.2"/><circle cx="1062.7" cy="617.2" r="2.2"/><circle cx="1076.2" cy="614.9" r="2.2"/><circle cx="1076.1" cy="620.4" r="2.2"/><circle cx="1074.9" cy="609.1" r="2.2"/><circle cx="1077.5" cy="604.0" r="2.2"/><circle cx="1072.0" cy="626.4" r="2.2"/><circle cx="1056.8" cy="618.9" r="2.2"/><circle cx="1062.2" cy="600.6" r="2.2"/><circle cx="1063.1" cy="612.7" r="2.2"/><circle cx="1058.5" cy="613.9" r="2.2"/><circle cx="1062.9" cy="626.2" r="2.2"/><circle cx="1058.6" cy="624.3" r="2.2"/><circle cx="1054.6" cy="622.2" r="2.2"/><circle cx="1067.0" cy="633.4" r="2.2"/><circle cx="1077.5" cy="624.7" r="2.2"/><circle cx="1057.0" cy="627.7" r="2.2"/><circle cx="1067.4" cy="593.2" r="2.2"/><circle cx="1068.0" cy="639.4" r="2.2"/><circle cx="1080.8" cy="616.7" r="2.2"/><circle cx="1071.6" cy="637.9" r="2.2"/><circle cx="1056.9" cy="601.0" r="2.2"/><circle cx="1063.6" cy="630.6" r="2.2"/><circle cx="1082.3" cy="624.3" r="2.2"/><circle cx="1071.5" cy="593.1" r="2.2"/><circle cx="1062.8" cy="641.2" r="2.2"/><circle cx="1081.5" cy="606.0" r="2.2"/><circle cx="1076.2" cy="640.3" r="2.2"/><circle cx="1053.3" cy="604.5" r="2.2"/><circle cx="1056.4" cy="605.2" r="2.2"/><circle cx="1070.4" cy="642.7" r="2.2"/><circle cx="1056.7" cy="641.0" r="2.2"/><circle cx="1062.6" cy="591.8" r="2.2"/><circle cx="1077.0" cy="590.6" r="2.2"/><circle cx="1051.8" cy="618.0" r="2.2"/><circle cx="1067.0" cy="514.3" r="2.2"/><circle cx="1066.3" cy="527.7" r="2.2"/><circle cx="1069.3" cy="537.6" r="2.2"/><circle cx="1067.2" cy="549.3" r="2.2"/><circle cx="1065.2" cy="566.0" r="2.2"/><circle cx="1068.5" cy="566.0" r="2.2"/><circle cx="1065.2" cy="574.3" r="2.2"/><circle cx="1067.3" cy="657.6" r="2.2"/></g>
<path d="M1067.30 576.80V638.44M1065.10 576.80h4.4M1065.10 638.44h4.4" stroke="#000" stroke-width="1.9" fill="none"/>
<circle cx="1067.30" cy="606.79" r="5" fill="#000"/>
<g fill="#b2b2b2"><circle cx="1115.2" cy="612.2" r="2.2"/><circle cx="1120.6" cy="614.9" r="2.2"/><circle cx="1116.4" cy="602.7" r="2.2"/><circle cx="1115.2" cy="627.7" r="2.2"/><circle cx="1111.1" cy="613.1" r="2.2"/><circle cx="1122.6" cy="611.2" r="2.2"/><circle cx="1121.6" cy="627.2" r="2.2"/><circle cx="1108.6" cy="609.9" r="2.2"/><circle cx="1115.7" cy="618.1" r="2.2"/><circle cx="1125.2" cy="615.3" r="2.2"/><circle cx="1107.0" cy="615.9" r="2.2"/><circle cx="1129.7" cy="615.6" r="2.2"/><circle cx="1102.9" cy="613.7" r="2.2"/><circle cx="1127.8" cy="609.5" r="2.2"/><circle cx="1115.9" cy="622.7" r="2.2"/><circle cx="1121.7" cy="622.5" r="2.2"/><circle cx="1111.4" cy="628.4" r="2.2"/><circle cx="1131.3" cy="611.5" r="2.2"/><circle cx="1124.8" cy="629.1" r="2.2"/><circle cx="1116.7" cy="641.7" r="2.2"/><circle cx="1111.4" cy="623.0" r="2.2"/><circle cx="1126.2" cy="621.9" r="2.2"/><circle cx="1120.2" cy="605.5" r="2.2"/><circle cx="1116.3" cy="633.7" r="2.2"/><circle cx="1120.5" cy="642.0" r="2.2"/><circle cx="1111.9" cy="639.0" r="2.2"/><circle cx="1111.6" cy="644.7" r="2.2"/><circle cx="1105.5" cy="626.7" r="2.2"/><circle cx="1121.3" cy="632.2" r="2.2"/><circle cx="1110.3" cy="602.2" r="2.2"/><circle cx="1107.5" cy="641.5" r="2.2"/><circle cx="1126.3" cy="642.8" r="2.2"/><circle cx="1130.6" cy="628.0" r="2.2"/><circle cx="1118.7" cy="599.4" r="2.2"/><circle cx="1102.6" cy="623.8" r="2.2"/><circle cx="1113.5" cy="606.4" r="2.2"/><circle cx="1130.4" cy="623.1" r="2.2"/><circle cx="1125.7" cy="605.2" r="2.2"/><circle cx="1115.5" cy="593.9" r="2.2"/><circle cx="1103.0" cy="640.0" r="2.2"/><circle cx="1102.3" cy="608.2" r="2.2"/><circle cx="1124.9" cy="609.5" r="2.2"/><circle cx="1116.3" cy="650.0" r="2.2"/><circle cx="1131.5" cy="605.8" r="2.2"/><circle cx="1106.4" cy="604.9" r="2.2"/><circle cx="1115.9" cy="499.3" r="2.2"/><circle cx="1116.7" cy="501.0" r="2.2"/><circle cx="1115.5" cy="519.3" r="2.2"/><circle cx="1118.1" cy="541.0" r="2.2"/><circle cx="1113.6" cy="562.6" r="2.2"/><circle cx="1118.4" cy="571.0" r="2.2"/><circle cx="1117.0" cy="581.0" r="2.2"/></g>
<path d="M1116.00 569.30V640.94M1113.80 569.30h4.4M1113.80 640.94h4.4" stroke="#000" stroke-width="1.9" fill="none"/>
<circle cx="1116.00" cy="605.12" r="5" fill="#000"/>
<text x="613.70" y="777.50" font-size="27.5" textLength="10.50" lengthAdjust="spacingAndGlyphs" font-weight="bold" style="stroke-width:1.3px;stroke-linejoin:round" >f</text>
<text x="745.25" y="774.70" font-size="20.6" textLength="371.50" lengthAdjust="spacingAndGlyphs" >SVM (nested split-half cross-validation)</text>
<text x="662.29" y="974.40" font-size="20.6" textLength="11.91" lengthAdjust="spacingAndGlyphs" >0</text>
<text x="650.37" y="934.20" font-size="20.6" textLength="23.83" lengthAdjust="spacingAndGlyphs" >25</text>
<text x="650.37" y="894.00" font-size="20.6" textLength="23.83" lengthAdjust="spacingAndGlyphs" >50</text>
<text x="650.37" y="853.80" font-size="20.6" textLength="23.83" lengthAdjust="spacingAndGlyphs" >75</text>
<text x="638.46" y="813.60" font-size="20.6" textLength="35.74" lengthAdjust="spacingAndGlyphs" >100</text>
<path d="M680.70 805.40V967.00H820.00M680.70 967.00h7.5M680.70 926.80h7.5M680.70 886.60h7.5M680.70 846.40h7.5M680.70 806.20h7.5M750.00 967.00v-7.5" stroke="#000" stroke-width="1.6" fill="none" stroke-linecap="butt"/>
<text x="563.90" y="880.50" font-size="20.6" textLength="126.00" lengthAdjust="spacingAndGlyphs" transform="rotate(-90 626.90 880.50)" >Accuracy (%)</text>
<g fill="#b4b4b4"><circle cx="731.3" cy="884.3" r="2.3"/><circle cx="760.7" cy="884.1" r="2.3"/><circle cx="758.7" cy="871.5" r="2.3"/><circle cx="749.5" cy="892.0" r="2.3"/><circle cx="731.4" cy="877.1" r="2.3"/><circle cx="757.5" cy="891.7" r="2.3"/><circle cx="768.6" cy="868.5" r="2.3"/><circle cx="750.8" cy="874.7" r="2.3"/><circle cx="750.3" cy="866.8" r="2.3"/><circle cx="733.2" cy="879.6" r="2.3"/><circle cx="717.4" cy="873.4" r="2.3"/><circle cx="741.6" cy="878.1" r="2.3"/><circle cx="755.3" cy="881.3" r="2.3"/><circle cx="721.6" cy="875.1" r="2.3"/><circle cx="766.0" cy="884.8" r="2.3"/><circle cx="720.4" cy="878.6" r="2.3"/><circle cx="781.9" cy="871.3" r="2.3"/><circle cx="765.7" cy="875.8" r="2.3"/><circle cx="774.2" cy="879.0" r="2.3"/><circle cx="754.0" cy="861.0" r="2.3"/><circle cx="738.7" cy="875.7" r="2.3"/><circle cx="749.8" cy="880.2" r="2.3"/><circle cx="724.6" cy="875.0" r="2.3"/><circle cx="778.8" cy="879.8" r="2.3"/><circle cx="727.7" cy="878.8" r="2.3"/><circle cx="770.6" cy="878.6" r="2.3"/><circle cx="734.6" cy="862.1" r="2.3"/><circle cx="778.2" cy="876.0" r="2.3"/><circle cx="746.9" cy="874.9" r="2.3"/><circle cx="753.3" cy="871.5" r="2.3"/><circle cx="743.5" cy="862.2" r="2.3"/><circle cx="755.3" cy="877.7" r="2.3"/><circle cx="764.5" cy="880.5" r="2.3"/><circle cx="748.8" cy="886.2" r="2.3"/><circle cx="746.9" cy="878.7" r="2.3"/><circle cx="742.7" cy="871.5" r="2.3"/><circle cx="779.4" cy="882.7" r="2.3"/><circle cx="737.9" cy="892.9" r="2.3"/><circle cx="723.8" cy="871.6" r="2.3"/><circle cx="737.7" cy="879.8" r="2.3"/><circle cx="724.4" cy="878.8" r="2.3"/><circle cx="770.5" cy="873.0" r="2.3"/><circle cx="741.7" cy="874.6" r="2.3"/><circle cx="762.1" cy="874.1" r="2.3"/><circle cx="761.3" cy="879.1" r="2.3"/><circle cx="773.1" cy="867.2" r="2.3"/><circle cx="745.0" cy="865.7" r="2.3"/><circle cx="782.3" cy="875.9" r="2.3"/><circle cx="767.6" cy="879.3" r="2.3"/><circle cx="748.9" cy="871.1" r="2.3"/><circle cx="734.2" cy="872.8" r="2.3"/><circle cx="737.8" cy="883.3" r="2.3"/><circle cx="756.0" cy="879.3" r="2.3"/><circle cx="755.1" cy="868.9" r="2.3"/><circle cx="717.6" cy="876.8" r="2.3"/><circle cx="738.2" cy="878.4" r="2.3"/><circle cx="758.0" cy="874.7" r="2.3"/><circle cx="763.1" cy="876.4" r="2.3"/><circle cx="734.2" cy="876.2" r="2.3"/><circle cx="766.2" cy="889.5" r="2.3"/><circle cx="737.9" cy="864.1" r="2.3"/><circle cx="728.5" cy="874.8" r="2.3"/><circle cx="743.0" cy="882.2" r="2.3"/><circle cx="735.9" cy="869.4" r="2.3"/><circle cx="776.0" cy="874.0" r="2.3"/><circle cx="772.7" cy="876.0" r="2.3"/><circle cx="775.9" cy="868.9" r="2.3"/><circle cx="766.0" cy="872.3" r="2.3"/><circle cx="763.7" cy="865.2" r="2.3"/><circle cx="761.4" cy="861.2" r="2.3"/><circle cx="748.3" cy="883.2" r="2.3"/><circle cx="720.7" cy="879.8" r="2.3"/><circle cx="729.3" cy="870.8" r="2.3"/><circle cx="759.2" cy="888.0" r="2.3"/><circle cx="752.2" cy="878.0" r="2.3"/><circle cx="721.7" cy="867.2" r="2.3"/><circle cx="741.0" cy="868.9" r="2.3"/><circle cx="777.7" cy="872.1" r="2.3"/><circle cx="750.9" cy="889.3" r="2.3"/><circle cx="782.3" cy="872.3" r="2.3"/><circle cx="762.3" cy="870.8" r="2.3"/><circle cx="737.5" cy="872.7" r="2.3"/><circle cx="755.8" cy="888.0" r="2.3"/><circle cx="739.6" cy="886.1" r="2.3"/><circle cx="734.4" cy="884.6" r="2.3"/><circle cx="749.9" cy="862.9" r="2.3"/><circle cx="728.2" cy="881.9" r="2.3"/><circle cx="723.0" cy="877.8" r="2.3"/><circle cx="718.0" cy="877.9" r="2.3"/><circle cx="727.3" cy="872.2" r="2.3"/><circle cx="765.4" cy="872.7" r="2.3"/><circle cx="769.1" cy="874.3" r="2.3"/><circle cx="770.3" cy="884.9" r="2.3"/><circle cx="740.0" cy="875.0" r="2.3"/><circle cx="754.8" cy="874.3" r="2.3"/><circle cx="730.6" cy="867.6" r="2.3"/><circle cx="764.1" cy="876.9" r="2.3"/><circle cx="744.4" cy="880.4" r="2.3"/><circle cx="723.4" cy="873.3" r="2.3"/><circle cx="762.0" cy="886.9" r="2.3"/></g>
<path d="M750 836.5V846M748 836.5h4M748 846h4" stroke="#f2141c" stroke-width="2" fill="none"/><circle cx="750" cy="841.2" r="3.6" fill="#f2141c"/>
<text x="757.50" y="808.70" font-size="20.6" textLength="78.00" lengthAdjust="spacingAndGlyphs" >Average</text>
<text x="757.50" y="829.20" font-size="20.6" textLength="172.00" lengthAdjust="spacingAndGlyphs" >accuracy = 78.4%</text>
<path d="M745.5 896.5L742.5 909" stroke="#000" stroke-width="1.6"/>
<text x="710.00" y="930.00" font-size="20.6" textLength="35.50" lengthAdjust="spacingAndGlyphs" >Null</text>
<text x="710.00" y="951.00" font-size="20.6" textLength="105.50" lengthAdjust="spacingAndGlyphs" >distribution</text>
<text x="968.05" y="800.80" font-size="20.6" textLength="162.50" lengthAdjust="spacingAndGlyphs" >Confusion matrix</text>
<rect x="986.7" y="829.3" width="64.5" height="56.80000000000007" fill="#d6604d"/>
<rect x="1051.2" y="829.3" width="65.29999999999995" height="56.80000000000007" fill="#f4a582"/>
<rect x="986.7" y="886.1" width="64.5" height="57.39999999999998" fill="#fddbc7"/>
<rect x="1051.2" y="886.1" width="65.29999999999995" height="57.39999999999998" fill="#67001f"/>
<path d="M986.7 829.3H1116.5V943.5H986.7ZM1051.2 829.3V943.5M986.7 886.1H1116.5" stroke="#000" stroke-width="1.5" fill="none"/>
<text x="993.50" y="864.50" font-size="17.3" textLength="51.00" lengthAdjust="spacingAndGlyphs" >62.1%</text>
<text x="1059.00" y="864.50" font-size="17.3" textLength="51.00" lengthAdjust="spacingAndGlyphs" >37.9%</text>
<text x="993.50" y="921.50" font-size="17.3" textLength="51.00" lengthAdjust="spacingAndGlyphs" >17.5%</text>
<text x="1059.00" y="921.50" font-size="17.3" textLength="51.00" lengthAdjust="spacingAndGlyphs" style="fill:#fff;stroke:#fff" >82.5%</text>
<text x="1003.40" y="961.90" font-size="20.6" textLength="29.00" lengthAdjust="spacingAndGlyphs" >HC</text>
<text x="1061.80" y="961.90" font-size="20.6" textLength="47.00" lengthAdjust="spacingAndGlyphs" >MDD</text>
<text x="1016.30" y="986.50" font-size="20.6" textLength="90.00" lengthAdjust="spacingAndGlyphs" >Predicted</text>
<text x="917.50" y="881.50" font-size="20.6" textLength="59.00" lengthAdjust="spacingAndGlyphs" transform="rotate(-90 947.00 881.50)" >Group</text>
<text x="961.50" y="852.00" font-size="20.6" textLength="29.00" lengthAdjust="spacingAndGlyphs" transform="rotate(-90 976.00 852.00)" >HC</text>
<text x="952.50" y="908.00" font-size="20.6" textLength="47.00" lengthAdjust="spacingAndGlyphs" transform="rotate(-90 976.00 908.00)" >MDD</text>
<rect x="1140.5" y="825.30" width="13.4" height="20.67" fill="#67001f"/>
<rect x="1140.5" y="845.67" width="13.4" height="20.67" fill="#b2182b"/>
<rect x="1140.5" y="866.03" width="13.4" height="20.67" fill="#d6604d"/>
<rect x="1140.5" y="886.40" width="13.4" height="20.67" fill="#f4a582"/>
<rect x="1140.5" y="906.77" width="13.4" height="20.67" fill="#fddbc7"/>
<rect x="1140.5" y="927.13" width="13.4" height="20.67" fill="#f4f4f4"/>
<rect x="1140.5" y="825.3" width="13.4" height="122.2" fill="none" stroke="#bbb" stroke-width="0.6"/>
<text x="1133.50" y="819.50" font-size="20.6" textLength="35.00" lengthAdjust="spacingAndGlyphs" >100</text>
<text x="1141.75" y="965.00" font-size="20.6" textLength="11.50" lengthAdjust="spacingAndGlyphs" >0</text>
<text x="1135.50" y="886.70" font-size="20.6" textLength="121.00" lengthAdjust="spacingAndGlyphs" transform="rotate(-90 1196.00 886.70)" >Subjects (%)</text>
<text x="613.20" y="1048.50" font-size="27.5" textLength="17.00" lengthAdjust="spacingAndGlyphs" font-weight="bold" style="stroke-width:1.3px;stroke-linejoin:round" >g</text>
<text x="698.00" y="1062.00" font-size="20.6" textLength="152.00" lengthAdjust="spacingAndGlyphs" >Feature weights</text>
<text x="663.49" y="1264.00" font-size="20.6" textLength="11.91" lengthAdjust="spacingAndGlyphs" >0</text>
<text x="645.62" y="1230.90" font-size="20.6" textLength="29.78" lengthAdjust="spacingAndGlyphs" >0.2</text>
<text x="645.62" y="1197.80" font-size="20.6" textLength="29.78" lengthAdjust="spacingAndGlyphs" >0.4</text>
<text x="645.62" y="1164.70" font-size="20.6" textLength="29.78" lengthAdjust="spacingAndGlyphs" >0.6</text>
<text x="645.62" y="1131.60" font-size="20.6" textLength="29.78" lengthAdjust="spacingAndGlyphs" >0.8</text>
<text x="645.62" y="1098.50" font-size="20.6" textLength="29.78" lengthAdjust="spacingAndGlyphs" >1.0</text>
<path d="M681.70 1090.30V1256.60H834.40M681.70 1256.60h7.5M681.70 1223.50h7.5M681.70 1190.40h7.5M681.70 1157.30h7.5M681.70 1124.20h7.5M681.70 1091.10h7.5M757.50 1256.60v-7.5" stroke="#000" stroke-width="1.6" fill="none" stroke-linecap="butt"/>

<text transform="rotate(-90 632.7 1171.7)" x="580.9" y="1171.7" font-size="20.6" textLength="104" lengthAdjust="spacingAndGlyphs">Weights |<tspan font-style="italic">β</tspan>|</text>
<circle cx="748.1" cy="1186.4" r="5.1" fill="#e8605a" fill-opacity="0.92"/>
<circle cx="749.6" cy="1195.6" r="5.1" fill="#b57bf0" fill-opacity="0.92"/>
<circle cx="738.9" cy="1206.0" r="5.1" fill="#f5993d" fill-opacity="0.92"/>
<circle cx="739.9" cy="1214.5" r="5.1" fill="#e5b06e" fill-opacity="0.92"/>
<circle cx="745.5" cy="1212.7" r="5.1" fill="#f3b97c" fill-opacity="0.92"/>
<circle cx="739.1" cy="1225.4" r="5.1" fill="#8ee9ea" fill-opacity="0.92"/>
<circle cx="743.7" cy="1226.2" r="5.1" fill="#5da5b0" fill-opacity="0.92"/>
<circle cx="754.0" cy="1223.4" r="5.1" fill="#c9cfa0" fill-opacity="0.92"/>
<circle cx="767.7" cy="1212.4" r="5.1" fill="#e080e8" fill-opacity="0.92"/>
<circle cx="763.4" cy="1211.4" r="5.1" fill="#7030b0" fill-opacity="0.92"/>
<circle cx="770.6" cy="1219.1" r="5.1" fill="#4a86c4" fill-opacity="0.92"/>
<circle cx="766.7" cy="1220.1" r="5.1" fill="#1e6b3a" fill-opacity="0.92"/>
<circle cx="760.8" cy="1218.3" r="5.1" fill="#8b1a3a" fill-opacity="0.92"/>
<circle cx="765.2" cy="1227.2" r="5.1" fill="#2f6df0" fill-opacity="0.92"/>
<circle cx="769.0" cy="1237.4" r="5.1" fill="#4030a8" fill-opacity="0.92"/>
<circle cx="740.7" cy="1240.5" r="5.1" fill="#7edb5a" fill-opacity="0.92"/>
<circle cx="752.7" cy="1243.1" r="5.1" fill="#fcfc60" fill-opacity="0.92"/>
<circle cx="757.5" cy="1127.7" r="4.9" fill="#000"/>
<path d="M767.7 1127.7H792.8" stroke="#000" stroke-width="1.6" fill="none" stroke-linecap="butt"/>
<text x="801.70" y="1134.80" font-size="20.6" textLength="38.00" lengthAdjust="spacingAndGlyphs" >SAL</text>
<text x="787.70" y="1220.00" font-size="20.6" textLength="52.00" lengthAdjust="spacingAndGlyphs" >Other</text>
<text x="787.70" y="1240.50" font-size="20.6" textLength="86.50" lengthAdjust="spacingAndGlyphs" >networks</text>
<text x="923.70" y="1048.00" font-size="27.5" textLength="17.50" lengthAdjust="spacingAndGlyphs" font-weight="bold" style="stroke-width:1.3px;stroke-linejoin:round" >h</text>
<text x="973.30" y="1062.00" font-size="20.6" textLength="216.00" lengthAdjust="spacingAndGlyphs" >Leave one network out</text>
<text x="972.59" y="1099.80" font-size="20.6" textLength="11.91" lengthAdjust="spacingAndGlyphs" >0</text>
<text x="962.28" y="1133.00" font-size="20.6" textLength="22.22" lengthAdjust="spacingAndGlyphs" >–2</text>
<text x="962.28" y="1166.20" font-size="20.6" textLength="22.22" lengthAdjust="spacingAndGlyphs" >–4</text>
<text x="962.28" y="1199.40" font-size="20.6" textLength="22.22" lengthAdjust="spacingAndGlyphs" >–6</text>
<text x="962.28" y="1232.60" font-size="20.6" textLength="22.22" lengthAdjust="spacingAndGlyphs" >–8</text>
<text x="951.16" y="1265.80" font-size="20.6" textLength="33.34" lengthAdjust="spacingAndGlyphs" >–10</text>
<path d="M995 1091.6000000000001V1258.4H1147.7M1071 1258.4v-7.5M995 1092.40h7.5M995 1125.60h7.5M995 1158.80h7.5M995 1192.00h7.5M995 1225.20h7.5M995 1258.40h7.5" stroke="#000" stroke-width="1.6" fill="none" stroke-linecap="butt"/>
<text x="855.50" y="1175.00" font-size="20.6" textLength="171.00" lengthAdjust="spacingAndGlyphs" transform="rotate(-90 941.00 1175.00)" >Accuracy loss (%)</text>
<circle cx="1048.1" cy="1099.1" r="5.1" fill="#5030a8" fill-opacity="0.9"/>
<circle cx="1051.9" cy="1099.1" r="5.1" fill="#60c8e0" fill-opacity="0.9"/>
<circle cx="1058.3" cy="1094.0" r="5.1" fill="#8b3a3a" fill-opacity="0.9"/>
<circle cx="1057.8" cy="1101.6" r="5.1" fill="#f0983d" fill-opacity="0.9"/>
<circle cx="1069.8" cy="1097.5" r="5.1" fill="#2f6df0" fill-opacity="0.9"/>
<circle cx="1078.7" cy="1097.0" r="5.1" fill="#fcfc60" fill-opacity="0.9"/>
<circle cx="1087.7" cy="1099.1" r="5.1" fill="#c9dfa0" fill-opacity="0.9"/>
<circle cx="1088.4" cy="1103.4" r="5.1" fill="#70d850" fill-opacity="0.9"/>
<circle cx="1083.8" cy="1106.0" r="5.1" fill="#e080e0" fill-opacity="0.9"/>
<circle cx="1079.5" cy="1104.7" r="5.1" fill="#5aa5a8" fill-opacity="0.9"/>
<circle cx="1062.9" cy="1105.2" r="5.1" fill="#2e6b1a" fill-opacity="0.9"/>
<circle cx="1062.1" cy="1111.1" r="5.1" fill="#edb27a" fill-opacity="0.9"/>
<circle cx="1061.9" cy="1116.2" r="5.1" fill="#5a9ad0" fill-opacity="0.9"/>
<circle cx="1076.2" cy="1118.7" r="5.1" fill="#b04890" fill-opacity="0.9"/>
<circle cx="1076.2" cy="1112.3" r="5.1" fill="#b070f0" fill-opacity="0.9"/>
<circle cx="1085.1" cy="1116.9" r="5.1" fill="#5030a8" fill-opacity="0.9"/>
<circle cx="1058.3" cy="1161.9" r="5.1" fill="#e8605a"/>
<path d="M1075.4 1161.9H1100.9M1071 1196.6V1219" stroke="#000" stroke-width="1.6" fill="none" stroke-linecap="butt"/>
<circle cx="1071" cy="1184.6" r="4.9" fill="#000"/>
<text x="1111.10" y="1169.80" font-size="20.6" textLength="74.00" lengthAdjust="spacingAndGlyphs" >Default-</text>
<text x="1111.10" y="1195.30" font-size="20.6" textLength="70.00" lengthAdjust="spacingAndGlyphs" >parietal</text>
<text x="1063.40" y="1241.30" font-size="20.6" textLength="38.00" lengthAdjust="spacingAndGlyphs" >SAL</text>
<text x="1109.90" y="1102.00" font-size="20.6" textLength="52.00" lengthAdjust="spacingAndGlyphs" >Other</text>
<text x="1109.90" y="1126.90" font-size="20.6" textLength="86.50" lengthAdjust="spacingAndGlyphs" >networks</text>
<defs><filter id="b1" x="-20%" y="-20%" width="140%" height="140%"><feGaussianBlur stdDeviation="1"/></filter><filter id="b15" x="-20%" y="-20%" width="140%" height="140%"><feGaussianBlur stdDeviation="1.6"/></filter><filter id="b3" x="-20%" y="-20%" width="140%" height="140%"><feGaussianBlur stdDeviation="2.2"/></filter><filter id="b6" x="-20%" y="-20%" width="140%" height="140%"><feGaussianBlur stdDeviation="6"/></filter><filter id="b10" x="-20%" y="-20%" width="140%" height="140%"><feGaussianBlur stdDeviation="10"/></filter><clipPath id="latC"><path d="M183.7 64.0C180.8 64.6 178.5 68.3 174.9 68.7C171.4 69.0 166.6 66.5 162.4 66.3C158.2 66.1 153.2 67.1 149.9 67.5C146.5 67.8 145.7 68.0 142.4 68.4C139.1 68.8 134.3 68.8 130.1 69.7C126.0 70.6 121.8 72.1 117.6 73.7C113.4 75.3 109.2 77.2 105.1 79.3C100.9 81.5 96.7 84.0 92.5 86.8C88.4 89.6 84.2 92.7 80.0 96.1C75.8 99.6 71.2 103.6 67.5 107.6C63.7 111.6 60.7 115.1 57.6 119.9C54.5 124.6 51.1 130.3 48.8 136.1C46.5 142.0 44.7 150.7 43.7 155.1C42.8 159.5 43.0 159.2 43.1 162.5C43.2 165.9 43.4 170.9 44.4 175.1C45.4 179.2 46.8 183.6 48.8 187.6C50.8 191.6 53.2 195.7 56.3 198.8C59.4 201.9 63.5 204.4 67.5 206.3C71.4 208.1 75.8 209.1 80.0 210.0C84.2 210.9 88.4 211.4 92.5 211.9C96.7 212.3 100.9 212.3 105.1 212.5C109.2 212.7 113.9 213.0 117.6 213.1C121.3 213.2 125.0 212.8 127.5 213.1C130.0 213.4 131.5 214.1 132.5 215.1C133.6 216.0 134.4 217.2 133.8 218.8C133.1 220.4 130.2 222.8 128.8 224.9C127.4 227.0 125.6 229.2 125.6 231.3C125.6 233.4 127.0 235.7 128.8 237.5C130.6 239.2 132.8 241.1 136.3 242.0C139.8 242.9 145.5 243.2 149.9 242.7C154.2 242.1 158.2 240.3 162.4 238.8C166.6 237.3 170.8 235.6 174.9 233.7C179.1 231.9 183.3 229.8 187.5 227.6C191.6 225.4 195.8 222.6 200.0 220.7C204.2 218.8 208.4 217.4 212.5 216.1C216.7 214.9 220.9 214.2 225.1 213.2C229.2 212.2 233.4 211.2 237.6 210.0C241.8 208.8 245.9 207.5 250.0 206.3C254.1 205.0 258.6 203.8 262.4 202.5C266.2 201.3 270.0 200.3 272.5 198.8C275.0 197.3 276.3 195.6 277.5 193.7C278.6 191.8 279.0 190.6 279.4 187.5C279.8 184.4 280.0 180.5 280.0 175.1C280.0 169.7 279.6 159.6 279.4 155.1C279.2 150.5 279.2 151.2 278.7 147.6C278.1 144.0 277.5 138.1 276.3 133.7C275.0 129.3 273.1 124.9 271.2 121.2C269.3 117.5 267.4 114.0 265.1 111.3C262.8 108.6 260.8 106.3 257.5 104.9C254.2 103.6 248.0 104.1 245.1 103.1C242.2 102.0 241.7 101.0 240.0 98.8C238.3 96.6 236.6 92.9 234.9 90.0C233.3 87.1 232.1 83.6 230.0 81.2C227.9 78.8 225.3 77.0 222.4 75.6C219.5 74.2 215.9 73.5 212.5 72.5C209.2 71.5 205.7 70.7 202.4 69.4C199.1 68.1 195.6 65.8 192.5 64.9C189.4 64.0 186.7 63.4 183.7 64.0Z"/></clipPath><clipPath id="medC"><path d="M130.0 248.0C133.3 247.1 135.2 247.0 137.5 247.0C139.8 247.0 142.0 247.2 143.8 248.0C145.5 248.8 145.9 251.3 147.8 251.8C149.6 252.2 151.7 251.1 155.0 250.8C158.3 250.4 163.3 249.5 167.5 249.5C171.7 249.5 174.6 249.8 180.0 250.5C185.4 251.2 193.3 252.4 200.0 254.0C206.7 255.6 213.3 257.5 220.0 260.0C226.7 262.5 233.8 265.6 240.0 268.8C246.2 271.9 252.1 275.2 257.5 278.8C262.9 282.3 267.9 286.0 272.5 290.0C277.1 294.0 281.2 298.1 285.0 302.5C288.8 306.9 292.1 311.5 295.0 316.2C297.9 321.0 300.6 326.5 302.5 331.2C304.4 336.0 305.5 340.6 306.2 345.0C307.0 349.4 307.2 353.3 306.8 357.5C306.3 361.7 305.3 366.2 303.8 370.0C302.2 373.8 300.2 377.1 297.5 380.0C294.8 382.9 291.7 385.5 287.5 387.5C283.3 389.5 277.9 390.8 272.5 392.0C267.1 393.2 260.8 393.9 255.0 394.5C249.2 395.1 242.4 395.1 237.5 395.5C232.6 395.9 227.9 396.2 225.5 397.0C223.1 397.8 222.9 399.0 223.0 400.5C223.1 402.0 225.4 404.0 226.2 406.2C227.1 408.5 228.2 411.4 228.0 413.8C227.8 416.1 226.8 418.6 225.0 420.5C223.2 422.4 220.8 424.0 217.5 425.0C214.2 426.0 209.2 426.5 205.0 426.2C200.8 426.0 196.7 425.4 192.5 423.8C188.3 422.1 184.6 419.0 180.0 416.2C175.4 413.5 170.0 409.7 165.0 407.0C160.0 404.3 155.4 401.9 150.0 400.0C144.6 398.1 138.3 396.8 132.5 395.5C126.7 394.2 121.2 393.5 115.0 392.5C108.8 391.5 101.7 390.5 95.0 389.5C88.3 388.5 81.2 387.4 75.0 386.2C68.8 385.1 62.5 384.0 57.5 382.5C52.5 381.0 48.1 379.5 45.0 377.0C41.9 374.5 40.1 371.2 38.8 367.5C37.4 363.8 37.0 359.6 37.0 355.0C37.0 350.4 37.2 345.5 38.8 340.0C40.2 334.5 43.3 327.4 46.0 322.0C48.7 316.6 51.4 312.6 55.0 307.5C58.6 302.4 63.3 296.2 67.5 291.2C71.7 286.2 75.8 282.0 80.0 277.5C84.2 273.0 88.3 267.4 92.5 264.0C96.7 260.6 100.8 258.9 105.0 257.0C109.2 255.1 113.3 254.0 117.5 252.5C121.7 251.0 126.7 248.9 130.0 248.0Z"/></clipPath><g id="lat"><path d="M183.7 64.0C180.8 64.6 178.5 68.3 174.9 68.7C171.4 69.0 166.6 66.5 162.4 66.3C158.2 66.1 153.2 67.1 149.9 67.5C146.5 67.8 145.7 68.0 142.4 68.4C139.1 68.8 134.3 68.8 130.1 69.7C126.0 70.6 121.8 72.1 117.6 73.7C113.4 75.3 109.2 77.2 105.1 79.3C100.9 81.5 96.7 84.0 92.5 86.8C88.4 89.6 84.2 92.7 80.0 96.1C75.8 99.6 71.2 103.6 67.5 107.6C63.7 111.6 60.7 115.1 57.6 119.9C54.5 124.6 51.1 130.3 48.8 136.1C46.5 142.0 44.7 150.7 43.7 155.1C42.8 159.5 43.0 159.2 43.1 162.5C43.2 165.9 43.4 170.9 44.4 175.1C45.4 179.2 46.8 183.6 48.8 187.6C50.8 191.6 53.2 195.7 56.3 198.8C59.4 201.9 63.5 204.4 67.5 206.3C71.4 208.1 75.8 209.1 80.0 210.0C84.2 210.9 88.4 211.4 92.5 211.9C96.7 212.3 100.9 212.3 105.1 212.5C109.2 212.7 113.9 213.0 117.6 213.1C121.3 213.2 125.0 212.8 127.5 213.1C130.0 213.4 131.5 214.1 132.5 215.1C133.6 216.0 134.4 217.2 133.8 218.8C133.1 220.4 130.2 222.8 128.8 224.9C127.4 227.0 125.6 229.2 125.6 231.3C125.6 233.4 127.0 235.7 128.8 237.5C130.6 239.2 132.8 241.1 136.3 242.0C139.8 242.9 145.5 243.2 149.9 242.7C154.2 242.1 158.2 240.3 162.4 238.8C166.6 237.3 170.8 235.6 174.9 233.7C179.1 231.9 183.3 229.8 187.5 227.6C191.6 225.4 195.8 222.6 200.0 220.7C204.2 218.8 208.4 217.4 212.5 216.1C216.7 214.9 220.9 214.2 225.1 213.2C229.2 212.2 233.4 211.2 237.6 210.0C241.8 208.8 245.9 207.5 250.0 206.3C254.1 205.0 258.6 203.8 262.4 202.5C266.2 201.3 270.0 200.3 272.5 198.8C275.0 197.3 276.3 195.6 277.5 193.7C278.6 191.8 279.0 190.6 279.4 187.5C279.8 184.4 280.0 180.5 280.0 175.1C280.0 169.7 279.6 159.6 279.4 155.1C279.2 150.5 279.2 151.2 278.7 147.6C278.1 144.0 277.5 138.1 276.3 133.7C275.0 129.3 273.1 124.9 271.2 121.2C269.3 117.5 267.4 114.0 265.1 111.3C262.8 108.6 260.8 106.3 257.5 104.9C254.2 103.6 248.0 104.1 245.1 103.1C242.2 102.0 241.7 101.0 240.0 98.8C238.3 96.6 236.6 92.9 234.9 90.0C233.3 87.1 232.1 83.6 230.0 81.2C227.9 78.8 225.3 77.0 222.4 75.6C219.5 74.2 215.9 73.5 212.5 72.5C209.2 71.5 205.7 70.7 202.4 69.4C199.1 68.1 195.6 65.8 192.5 64.9C189.4 64.0 186.7 63.4 183.7 64.0Z" fill="#bebebe"/><g clip-path="url(#latC)"><g filter="url(#b6)"><path d="M63.8 129.3C63.8 125.9 77.6 108.3 86.3 100.0C94.9 91.8 105.4 85.0 115.5 79.8C125.6 74.5 136.9 70.9 147.0 68.5C157.1 66.1 169.5 63.6 176.3 65.1C183.0 66.6 187.9 71.7 187.5 77.5C187.1 83.3 179.3 97.8 174.0 100.0C168.8 102.3 162.0 93.3 156.0 91.0C150.0 88.8 144.0 86.5 138.0 86.5C132.0 86.5 125.6 88.4 120.0 91.0C114.4 93.6 109.9 97.4 104.3 102.3C98.6 107.1 93.0 115.8 86.3 120.3C79.5 124.8 63.8 132.6 63.8 129.3Z" fill="#a4a4a4" opacity="0.9"/><path d="M97.5 122.5C102.8 113.5 114.8 104.1 124.5 100.0C134.3 95.9 148.5 94.8 156.0 97.8C163.5 100.8 168.0 110.1 169.5 118.0C171.0 125.9 168.8 137.5 165.0 145.0C161.3 152.5 155.3 159.3 147.0 163.0C138.8 166.8 124.5 169.0 115.5 167.5C106.5 166.0 96.0 161.5 93.0 154.0C90.0 146.5 92.3 131.5 97.5 122.5Z" fill="#d0d0d0" opacity="0.9"/><path d="M48.0 172.0C50.6 175.8 56.3 188.1 63.8 194.5C71.3 200.9 82.5 207.1 93.0 210.3C103.5 213.4 121.1 213.1 126.8 213.6" stroke="#686868" stroke-width="9" fill="none" stroke-linecap="round" stroke-linejoin="round" opacity="1"/><path d="M210.0 109.0C217.1 104.7 233.3 100.0 243.8 103.4C254.3 106.8 266.6 119.3 273.0 129.3C279.4 139.2 280.9 152.5 282.0 163.0C283.1 173.5 283.5 185.5 279.8 192.3C276.0 199.0 266.3 202.4 259.5 203.5C252.8 204.6 244.5 204.3 239.3 199.0C234.0 193.8 232.1 181.0 228.0 172.0C223.9 163.0 219.0 152.1 214.5 145.0C210.0 137.9 201.8 135.3 201.0 129.3C200.3 123.3 202.9 113.3 210.0 109.0Z" fill="#9a9a9a" opacity="1"/><path d="M176.3 61.8C182.3 59.9 196.5 62.1 205.5 66.3C214.5 70.4 224.3 79.9 230.3 86.5C236.3 93.1 244.9 101.7 241.5 105.6C238.1 109.6 218.3 108.8 210.0 110.1C201.8 111.4 197.3 115.2 192.0 113.5C186.8 111.8 182.3 106.0 178.5 100.0C174.8 94.0 169.9 83.9 169.5 77.5C169.1 71.1 170.3 63.6 176.3 61.8Z" fill="#8a8a8a" opacity="0.95"/><path d="M138.0 217.0C145.5 211.0 157.5 202.0 169.5 194.5C181.5 187.0 199.5 175.8 210.0 172.0C220.5 168.3 226.5 167.5 232.5 172.0C238.5 176.5 249.8 191.5 246.0 199.0C242.3 206.5 223.5 211.0 210.0 217.0C196.5 223.0 177.8 230.5 165.0 235.0C152.3 239.5 140.3 244.8 133.5 244.0C126.8 243.3 123.8 235.0 124.5 230.5C125.3 226.0 130.5 223.0 138.0 217.0Z" fill="#acacac" opacity="0.85"/><path d="M129.0 242.9C135.0 242.2 151.5 242.9 165.0 239.1C178.5 235.2 195.0 226.2 210.0 219.9C225.0 213.7 247.5 204.7 255.0 201.7" stroke="#686868" stroke-width="8" fill="none" stroke-linecap="round" stroke-linejoin="round" opacity="1"/><path d="M174.0 129.3C179.3 124.0 193.1 120.3 201.0 120.3C208.9 120.3 218.6 123.6 221.3 129.3C223.9 134.9 221.6 148.8 216.8 154.0C211.9 159.3 199.9 161.1 192.0 160.8C184.1 160.4 172.5 157.0 169.5 151.8C166.5 146.5 168.8 134.5 174.0 129.3Z" fill="#b4b4b4" opacity="0.8"/></g><g filter="url(#b3)"><path d="M115.5 172.0C119.3 168.6 124.5 167.5 131.3 167.5C138.0 167.5 148.9 172.4 156.0 172.0C163.1 171.6 168.0 168.3 174.0 165.3C180.0 162.3 190.1 153.3 192.0 154.0C193.9 154.8 189.8 164.5 185.3 169.8C180.8 175.0 172.1 180.3 165.0 185.5C157.9 190.8 148.1 197.1 142.5 201.3C136.9 205.4 135.4 209.9 131.3 210.3C127.1 210.6 121.5 207.3 117.8 203.5C114.0 199.8 109.1 193.0 108.8 187.8C108.4 182.5 111.8 175.4 115.5 172.0Z" fill="#bdbdbd" opacity="1"/><path d="M104.3 103.4C106.9 101.6 114.4 95.2 120.0 92.8C125.6 90.4 132.0 88.6 138.0 88.8C144.0 88.9 150.0 90.6 156.0 93.7C162.0 96.8 171.0 105.0 174.0 107.2" stroke="#828282" stroke-width="6" fill="none" stroke-linecap="round" stroke-linejoin="round" opacity="0.9"/><path d="M120.7 130.8C122.6 132.7 128.1 138.8 131.9 142.1C135.7 145.4 140.8 147.8 143.4 150.6C146.0 153.5 146.8 157.8 147.5 159.2" stroke="#8a8a8a" stroke-width="7" fill="none" stroke-linecap="round" stroke-linejoin="round" opacity="0.8"/><path d="M156.0 100.0C155.3 103.8 151.5 115.8 151.5 122.5C151.5 129.3 155.3 137.5 156.0 140.5" stroke="#a2a2a2" stroke-width="6" fill="none" stroke-linecap="round" stroke-linejoin="round" opacity="0.8"/><path d="M185.3 73.0C186.6 77.1 192.8 89.9 193.1 97.8C193.5 105.6 188.1 113.9 187.5 120.3C186.9 126.6 189.4 133.4 189.8 136.0" stroke="#5e5e5e" stroke-width="7" fill="none" stroke-linecap="round" stroke-linejoin="round" opacity="0.95"/><path d="M169.5 70.8C171.0 74.1 177.8 83.9 178.5 91.0C179.3 98.1 174.4 107.1 174.0 113.5C173.6 119.9 175.9 126.6 176.3 129.3" stroke="#747474" stroke-width="6" fill="none" stroke-linecap="round" stroke-linejoin="round" opacity="0.9"/><path d="M177.4 77.5C178.7 81.3 184.7 92.5 185.3 100.0C185.8 107.5 181.5 118.8 180.8 122.5" stroke="#c2c2c2" stroke-width="4" fill="none" stroke-linecap="round" stroke-linejoin="round" opacity="0.9"/><path d="M201.0 73.0C202.1 76.4 206.3 87.6 207.8 93.3C209.3 98.9 209.6 104.5 210.0 106.8" stroke="#6c6c6c" stroke-width="7" fill="none" stroke-linecap="round" stroke-linejoin="round" opacity="0.9"/><path d="M185.3 154.7C187.6 153.3 195.0 148.5 199.2 146.4C203.4 144.2 206.9 143.8 210.7 141.9C214.5 139.9 218.7 137.2 221.9 134.7C225.1 132.1 228.5 127.9 229.8 126.6" stroke="#545454" stroke-width="6" fill="none" stroke-linecap="round" stroke-linejoin="round" opacity="1"/><path d="M229.1 122.5C230.6 125.5 235.9 135.3 238.1 140.5C240.3 145.8 241.8 147.8 242.4 154.0C243.0 160.2 242.0 173.7 242.0 177.6" stroke="#c8c8c8" stroke-width="7" fill="none" stroke-linecap="round" stroke-linejoin="round" opacity="1"/><path d="M246.0 122.5C247.5 127.0 253.1 139.8 255.0 149.5C256.9 159.3 256.1 173.5 257.3 181.0C258.4 188.5 261.0 192.3 261.8 194.5" stroke="#666" stroke-width="6" fill="none" stroke-linecap="round" stroke-linejoin="round" opacity="0.95"/><path d="M135.8 221.5C139.9 218.1 151.9 208.0 160.5 201.3C169.1 194.5 179.3 187.0 187.5 181.0C195.8 175.0 206.3 167.9 210.0 165.3" stroke="#cccccc" stroke-width="6" fill="none" stroke-linecap="round" stroke-linejoin="round" opacity="1"/><path d="M147.0 235.0C153.0 232.0 171.0 223.0 183.0 217.0C195.0 211.0 209.3 204.3 219.0 199.0C228.8 193.8 237.8 187.8 241.5 185.5" stroke="#c4c4c4" stroke-width="8" fill="none" stroke-linecap="round" stroke-linejoin="round" opacity="1"/><path d="M165.0 210.3C169.5 207.3 183.0 198.3 192.0 192.3C201.0 186.3 212.3 179.9 219.0 174.3C225.8 168.6 230.3 161.1 232.5 158.5" stroke="#767676" stroke-width="6" fill="none" stroke-linecap="round" stroke-linejoin="round" opacity="0.9"/><path d="M268.5 145.0C269.4 148.8 273.8 160.0 274.1 167.5C274.5 175.0 271.3 186.3 270.8 190.0" stroke="#9c9c9c" stroke-width="7" fill="none" stroke-linecap="round" stroke-linejoin="round" opacity="0.9"/></g><g filter="url(#b1)"><path d="M127.9 212.5C125.4 210.3 116.6 203.5 113.3 199.0C109.9 194.5 108.0 189.6 107.6 185.5C107.3 181.4 108.9 177.3 111.0 174.3C113.1 171.3 115.9 168.3 120.0 167.5C124.1 166.8 129.8 168.8 135.8 169.8C141.8 170.7 149.6 173.9 156.0 173.1C162.4 172.4 168.7 168.2 174.0 165.3C179.3 162.3 183.8 158.2 188.0 155.4C192.2 152.5 195.4 150.1 199.2 148.2C203.0 146.2 206.9 145.6 210.7 143.7C214.5 141.7 218.7 139.0 221.9 136.5C225.2 133.9 228.9 129.5 230.3 128.1" stroke="#484848" stroke-width="1.8" fill="none" stroke-linecap="round" stroke-linejoin="round" opacity="1"/><path d="M134.6 217.0C136.7 215.1 141.9 209.9 147.0 205.8C152.1 201.6 158.6 197.1 165.0 192.3C171.4 187.4 178.6 181.6 185.3 176.5C191.9 171.4 199.4 166.0 205.1 161.9C210.7 157.8 215.3 155.0 219.0 152.0C222.8 148.9 226.1 145.0 227.6 143.7" stroke="#505050" stroke-width="1.5" fill="none" stroke-linecap="round" stroke-linejoin="round" opacity="1"/><path d="M165.0 226.0C168.8 223.8 180.0 217.0 187.5 212.5C195.0 208.0 203.3 203.5 210.0 199.0C216.8 194.5 223.5 189.3 228.0 185.5C232.5 181.8 235.5 178.0 237.0 176.5" stroke="#5a5a5a" stroke-width="2" fill="none" stroke-linecap="round" stroke-linejoin="round" opacity="1"/><path d="M207.8 110.1C210.0 109.6 216.4 108.1 221.3 107.2C226.1 106.3 233.1 105.3 237.0 105.0C240.9 104.6 243.6 105.0 244.9 105.0" stroke="#444" stroke-width="1.8" fill="none" stroke-linecap="round" stroke-linejoin="round" opacity="1"/></g><path d="M183.7 64.0C180.8 64.6 178.5 68.3 174.9 68.7C171.4 69.0 166.6 66.5 162.4 66.3C158.2 66.1 153.2 67.1 149.9 67.5C146.5 67.8 145.7 68.0 142.4 68.4C139.1 68.8 134.3 68.8 130.1 69.7C126.0 70.6 121.8 72.1 117.6 73.7C113.4 75.3 109.2 77.2 105.1 79.3C100.9 81.5 96.7 84.0 92.5 86.8C88.4 89.6 84.2 92.7 80.0 96.1C75.8 99.6 71.2 103.6 67.5 107.6C63.7 111.6 60.7 115.1 57.6 119.9C54.5 124.6 51.1 130.3 48.8 136.1C46.5 142.0 44.7 150.7 43.7 155.1C42.8 159.5 43.0 159.2 43.1 162.5C43.2 165.9 43.4 170.9 44.4 175.1C45.4 179.2 46.8 183.6 48.8 187.6C50.8 191.6 53.2 195.7 56.3 198.8C59.4 201.9 63.5 204.4 67.5 206.3C71.4 208.1 75.8 209.1 80.0 210.0C84.2 210.9 88.4 211.4 92.5 211.9C96.7 212.3 100.9 212.3 105.1 212.5C109.2 212.7 113.9 213.0 117.6 213.1C121.3 213.2 125.0 212.8 127.5 213.1C130.0 213.4 131.5 214.1 132.5 215.1C133.6 216.0 134.4 217.2 133.8 218.8C133.1 220.4 130.2 222.8 128.8 224.9C127.4 227.0 125.6 229.2 125.6 231.3C125.6 233.4 127.0 235.7 128.8 237.5C130.6 239.2 132.8 241.1 136.3 242.0C139.8 242.9 145.5 243.2 149.9 242.7C154.2 242.1 158.2 240.3 162.4 238.8C166.6 237.3 170.8 235.6 174.9 233.7C179.1 231.9 183.3 229.8 187.5 227.6C191.6 225.4 195.8 222.6 200.0 220.7C204.2 218.8 208.4 217.4 212.5 216.1C216.7 214.9 220.9 214.2 225.1 213.2C229.2 212.2 233.4 211.2 237.6 210.0C241.8 208.8 245.9 207.5 250.0 206.3C254.1 205.0 258.6 203.8 262.4 202.5C266.2 201.3 270.0 200.3 272.5 198.8C275.0 197.3 276.3 195.6 277.5 193.7C278.6 191.8 279.0 190.6 279.4 187.5C279.8 184.4 280.0 180.5 280.0 175.1C280.0 169.7 279.6 159.6 279.4 155.1C279.2 150.5 279.2 151.2 278.7 147.6C278.1 144.0 277.5 138.1 276.3 133.7C275.0 129.3 273.1 124.9 271.2 121.2C269.3 117.5 267.4 114.0 265.1 111.3C262.8 108.6 260.8 106.3 257.5 104.9C254.2 103.6 248.0 104.1 245.1 103.1C242.2 102.0 241.7 101.0 240.0 98.8C238.3 96.6 236.6 92.9 234.9 90.0C233.3 87.1 232.1 83.6 230.0 81.2C227.9 78.8 225.3 77.0 222.4 75.6C219.5 74.2 215.9 73.5 212.5 72.5C209.2 71.5 205.7 70.7 202.4 69.4C199.1 68.1 195.6 65.8 192.5 64.9C189.4 64.0 186.7 63.4 183.7 64.0Z" fill="none" stroke="#3c3c3c" stroke-width="4" filter="url(#b1)" opacity="0.9"/></g></g><g id="med"><path d="M130.0 248.0C133.3 247.1 135.2 247.0 137.5 247.0C139.8 247.0 142.0 247.2 143.8 248.0C145.5 248.8 145.9 251.3 147.8 251.8C149.6 252.2 151.7 251.1 155.0 250.8C158.3 250.4 163.3 249.5 167.5 249.5C171.7 249.5 174.6 249.8 180.0 250.5C185.4 251.2 193.3 252.4 200.0 254.0C206.7 255.6 213.3 257.5 220.0 260.0C226.7 262.5 233.8 265.6 240.0 268.8C246.2 271.9 252.1 275.2 257.5 278.8C262.9 282.3 267.9 286.0 272.5 290.0C277.1 294.0 281.2 298.1 285.0 302.5C288.8 306.9 292.1 311.5 295.0 316.2C297.9 321.0 300.6 326.5 302.5 331.2C304.4 336.0 305.5 340.6 306.2 345.0C307.0 349.4 307.2 353.3 306.8 357.5C306.3 361.7 305.3 366.2 303.8 370.0C302.2 373.8 300.2 377.1 297.5 380.0C294.8 382.9 291.7 385.5 287.5 387.5C283.3 389.5 277.9 390.8 272.5 392.0C267.1 393.2 260.8 393.9 255.0 394.5C249.2 395.1 242.4 395.1 237.5 395.5C232.6 395.9 227.9 396.2 225.5 397.0C223.1 397.8 222.9 399.0 223.0 400.5C223.1 402.0 225.4 404.0 226.2 406.2C227.1 408.5 228.2 411.4 228.0 413.8C227.8 416.1 226.8 418.6 225.0 420.5C223.2 422.4 220.8 424.0 217.5 425.0C214.2 426.0 209.2 426.5 205.0 426.2C200.8 426.0 196.7 425.4 192.5 423.8C188.3 422.1 184.6 419.0 180.0 416.2C175.4 413.5 170.0 409.7 165.0 407.0C160.0 404.3 155.4 401.9 150.0 400.0C144.6 398.1 138.3 396.8 132.5 395.5C126.7 394.2 121.2 393.5 115.0 392.5C108.8 391.5 101.7 390.5 95.0 389.5C88.3 388.5 81.2 387.4 75.0 386.2C68.8 385.1 62.5 384.0 57.5 382.5C52.5 381.0 48.1 379.5 45.0 377.0C41.9 374.5 40.1 371.2 38.8 367.5C37.4 363.8 37.0 359.6 37.0 355.0C37.0 350.4 37.2 345.5 38.8 340.0C40.2 334.5 43.3 327.4 46.0 322.0C48.7 316.6 51.4 312.6 55.0 307.5C58.6 302.4 63.3 296.2 67.5 291.2C71.7 286.2 75.8 282.0 80.0 277.5C84.2 273.0 88.3 267.4 92.5 264.0C96.7 260.6 100.8 258.9 105.0 257.0C109.2 255.1 113.3 254.0 117.5 252.5C121.7 251.0 126.7 248.9 130.0 248.0Z" fill="#c3c3c3"/><g clip-path="url(#medC)"><g filter="url(#b6)"><path d="M35.0 345.0C38.3 335.0 46.2 319.6 52.5 310.0C58.8 300.4 65.4 290.0 72.5 287.5C79.6 285.0 91.2 289.2 95.0 295.0C98.8 300.8 93.8 313.3 95.0 322.5C96.2 331.7 97.5 342.1 102.5 350.0C107.5 357.9 126.2 363.3 125.0 370.0C123.8 376.7 108.3 387.9 95.0 390.0C81.7 392.1 55.4 385.8 45.0 382.5C34.6 379.2 34.2 376.2 32.5 370.0C30.8 363.8 31.7 355.0 35.0 345.0Z" fill="#b6b6b6" opacity="0.8"/><path d="M115.0 392.5C114.2 388.8 130.8 380.0 140.0 380.0C149.2 380.0 156.7 389.8 170.0 392.5C183.3 395.2 210.0 392.5 220.0 396.2C230.0 400.0 230.8 409.4 230.0 415.0C229.2 420.6 223.3 429.2 215.0 430.0C206.7 430.8 191.7 424.6 180.0 420.0C168.3 415.4 155.8 407.1 145.0 402.5C134.2 397.9 115.8 396.2 115.0 392.5Z" fill="#989898" opacity="0.9"/><path d="M42.5 378.8C47.9 380.3 62.1 385.5 75.0 388.2C87.9 391.0 105.8 392.3 120.0 395.5C134.2 398.7 153.3 405.5 160.0 407.5" stroke="#808080" stroke-width="7" fill="none" stroke-linecap="round" stroke-linejoin="round" opacity="0.9"/><path d="M150.0 320.0C157.5 313.8 175.8 310.8 190.0 310.0C204.2 309.2 223.3 310.0 235.0 315.0C246.7 320.0 257.5 331.7 260.0 340.0C262.5 348.3 258.3 358.8 250.0 365.0C241.7 371.2 223.3 376.7 210.0 377.5C196.7 378.3 180.8 375.0 170.0 370.0C159.2 365.0 148.3 355.8 145.0 347.5C141.7 339.2 142.5 326.2 150.0 320.0Z" fill="#c6c6c6" opacity="0.7"/><path d="M280.0 302.5C283.3 306.7 295.4 318.8 300.0 327.5C304.6 336.2 307.9 345.8 307.5 355.0C307.1 364.2 303.8 376.0 297.5 382.5C291.2 389.0 274.6 391.9 270.0 393.8" stroke="#9a9a9a" stroke-width="5" fill="none" stroke-linecap="round" stroke-linejoin="round" opacity="0.7"/></g><g filter="url(#b3)"><path d="M107.5 262.5C112.5 261.9 128.8 257.5 137.5 258.8C146.2 260.0 150.4 267.3 160.0 270.0C169.6 272.7 182.9 272.9 195.0 275.0C207.1 277.1 226.2 281.2 232.5 282.5" stroke="#cdcdcd" stroke-width="7" fill="none" stroke-linecap="round" stroke-linejoin="round" opacity="0.9"/><path d="M133.8 272.5C134.8 274.2 136.5 280.1 140.0 283.0C143.5 285.9 149.2 288.2 155.0 290.0C160.8 291.8 168.3 293.5 175.0 293.8C181.7 294.0 187.9 292.3 195.0 291.2C202.1 290.2 213.8 288.1 217.5 287.5" stroke="#7c7c7c" stroke-width="5" fill="none" stroke-linecap="round" stroke-linejoin="round" opacity="0.95"/><path d="M102.5 268.8C103.3 271.5 107.1 279.4 107.5 285.0C107.9 290.6 104.9 297.7 105.0 302.5C105.1 307.3 107.5 311.9 108.0 313.8" stroke="#9a9a9a" stroke-width="5" fill="none" stroke-linecap="round" stroke-linejoin="round" opacity="0.8"/><path d="M66.2 303.8C66.9 306.9 68.8 316.5 70.0 322.5C71.2 328.5 72.4 335.2 73.8 340.0C75.1 344.8 77.3 349.4 78.0 351.2" stroke="#808080" stroke-width="6" fill="none" stroke-linecap="round" stroke-linejoin="round" opacity="0.9"/><path d="M82.5 302.5C83.3 305.8 85.4 316.2 87.5 322.5C89.6 328.8 93.8 337.1 95.0 340.0" stroke="#cacaca" stroke-width="6" fill="none" stroke-linecap="round" stroke-linejoin="round" opacity="0.8"/><path d="M140.0 370.0C143.3 372.9 151.7 383.9 160.0 387.5C168.3 391.1 180.0 391.1 190.0 391.5C200.0 391.9 215.0 390.2 220.0 390.0" stroke="#8a8a8a" stroke-width="5" fill="none" stroke-linecap="round" stroke-linejoin="round" opacity="0.9"/><path d="M125.0 315.0C124.2 319.2 119.2 331.7 120.0 340.0C120.8 348.3 128.3 360.8 130.0 365.0" stroke="#a8a8a8" stroke-width="6" fill="none" stroke-linecap="round" stroke-linejoin="round" opacity="0.7"/><path d="M145.0 302.5C150.8 301.9 167.5 298.8 180.0 298.8C192.5 298.8 207.5 299.0 220.0 302.5C232.5 306.0 246.2 312.9 255.0 320.0C263.8 327.1 270.4 336.7 272.5 345.0C274.6 353.3 268.3 365.8 267.5 370.0" stroke="#cacaca" stroke-width="7" fill="none" stroke-linecap="round" stroke-linejoin="round" opacity="0.8"/><path d="M57.5 363.0C63.8 365.3 83.8 372.5 95.0 376.8C106.2 381.0 120.0 386.5 125.0 388.5" stroke="#cdcdcd" stroke-width="5" fill="none" stroke-linecap="round" stroke-linejoin="round" opacity="0.9"/><path d="M83.8 355.5C87.7 357.6 103.5 365.9 107.5 368.0" stroke="#8a8a8a" stroke-width="5" fill="none" stroke-linecap="round" stroke-linejoin="round" opacity="0.8"/><path d="M145.0 377.0C150.8 379.7 167.9 389.7 180.0 393.0C192.1 396.3 211.2 396.3 217.5 397.0" stroke="#cbcbcb" stroke-width="5" fill="none" stroke-linecap="round" stroke-linejoin="round" opacity="0.9"/><path d="M137.5 386.2C142.1 389.2 154.6 398.8 165.0 403.8C175.4 408.8 194.2 414.2 200.0 416.2" stroke="#7c7c7c" stroke-width="6" fill="none" stroke-linecap="round" stroke-linejoin="round" opacity="0.85"/><path d="M47.5 322.5C47.1 326.2 44.6 337.9 45.0 345.0C45.4 352.1 49.2 361.7 50.0 365.0" stroke="#c8c8c8" stroke-width="6" fill="none" stroke-linecap="round" stroke-linejoin="round" opacity="0.7"/></g><g filter="url(#b1)"><path d="M79.5 351.2C82.1 352.3 90.2 355.3 95.0 357.5C99.8 359.7 105.8 363.1 108.0 364.2" stroke="#4e4e4e" stroke-width="1.8" fill="none" stroke-linecap="round" stroke-linejoin="round" opacity="0.95"/><path d="M130.0 372.5C132.5 374.6 139.6 381.2 145.0 385.0C150.4 388.8 156.2 392.3 162.5 395.5C168.8 398.7 175.4 401.5 182.5 404.0C189.6 406.5 201.2 409.4 205.0 410.5" stroke="#4e4e4e" stroke-width="2.6" fill="none" stroke-linecap="round" stroke-linejoin="round" opacity="0.95"/></g><path d="M130.0 248.0C133.3 247.1 135.2 247.0 137.5 247.0C139.8 247.0 142.0 247.2 143.8 248.0C145.5 248.8 145.9 251.3 147.8 251.8C149.6 252.2 151.7 251.1 155.0 250.8C158.3 250.4 163.3 249.5 167.5 249.5C171.7 249.5 174.6 249.8 180.0 250.5C185.4 251.2 193.3 252.4 200.0 254.0C206.7 255.6 213.3 257.5 220.0 260.0C226.7 262.5 233.8 265.6 240.0 268.8C246.2 271.9 252.1 275.2 257.5 278.8C262.9 282.3 267.9 286.0 272.5 290.0C277.1 294.0 281.2 298.1 285.0 302.5C288.8 306.9 292.1 311.5 295.0 316.2C297.9 321.0 300.6 326.5 302.5 331.2C304.4 336.0 305.5 340.6 306.2 345.0C307.0 349.4 307.2 353.3 306.8 357.5C306.3 361.7 305.3 366.2 303.8 370.0C302.2 373.8 300.2 377.1 297.5 380.0C294.8 382.9 291.7 385.5 287.5 387.5C283.3 389.5 277.9 390.8 272.5 392.0C267.1 393.2 260.8 393.9 255.0 394.5C249.2 395.1 242.4 395.1 237.5 395.5C232.6 395.9 227.9 396.2 225.5 397.0C223.1 397.8 222.9 399.0 223.0 400.5C223.1 402.0 225.4 404.0 226.2 406.2C227.1 408.5 228.2 411.4 228.0 413.8C227.8 416.1 226.8 418.6 225.0 420.5C223.2 422.4 220.8 424.0 217.5 425.0C214.2 426.0 209.2 426.5 205.0 426.2C200.8 426.0 196.7 425.4 192.5 423.8C188.3 422.1 184.6 419.0 180.0 416.2C175.4 413.5 170.0 409.7 165.0 407.0C160.0 404.3 155.4 401.9 150.0 400.0C144.6 398.1 138.3 396.8 132.5 395.5C126.7 394.2 121.2 393.5 115.0 392.5C108.8 391.5 101.7 390.5 95.0 389.5C88.3 388.5 81.2 387.4 75.0 386.2C68.8 385.1 62.5 384.0 57.5 382.5C52.5 381.0 48.1 379.5 45.0 377.0C41.9 374.5 40.1 371.2 38.8 367.5C37.4 363.8 37.0 359.6 37.0 355.0C37.0 350.4 37.2 345.5 38.8 340.0C40.2 334.5 43.3 327.4 46.0 322.0C48.7 316.6 51.4 312.6 55.0 307.5C58.6 302.4 63.3 296.2 67.5 291.2C71.7 286.2 75.8 282.0 80.0 277.5C84.2 273.0 88.3 267.4 92.5 264.0C96.7 260.6 100.8 258.9 105.0 257.0C109.2 255.1 113.3 254.0 117.5 252.5C121.7 251.0 126.7 248.9 130.0 248.0Z" fill="none" stroke="#404040" stroke-width="3.6" filter="url(#b1)" opacity="0.9"/></g></g></defs>
<g transform="translate(0.00 0) scale(1.0 1)"><use href="#lat"/><g clip-path="url(#latC)"><g transform="scale(1.00000 1) translate(-0.00 0)"><path d="M100.8 109.6L99.2 111.2L99.1 111.3L97.6 112.7L96.6 113.8L94.9 114.5L92.1 113.5L90.9 114.5L90.0 115.0L88.5 114.8L86.6 116.5L85.2 116.7L83.4 118.3L83.1 117.7L80.2 119.4L79.6 120.2L79.2 121.1L77.0 122.2L75.6 122.9L75.3 124.4L74.3 126.1L73.0 127.3L72.5 129.4L71.7 131.5L71.8 133.7L69.7 134.0L68.2 135.8L67.2 135.7L65.3 134.9L64.3 135.8L61.9 135.1L60.6 133.4L60.5 132.2L62.0 131.2L63.5 129.3L64.0 128.0L65.7 127.1L66.0 125.8L67.5 124.4L69.3 123.8L69.9 122.2L71.1 120.9L71.7 119.3L74.4 118.4L75.3 117.4L75.9 116.4L77.8 115.5L78.3 114.1L79.6 113.1L81.5 112.9L83.4 111.7L85.2 111.3L87.0 110.5L88.1 111.5L91.3 111.2L92.3 111.0L94.0 109.9L96.1 110.6L98.0 109.3Z" fill="#2c2c2c" fill-rule="evenodd"/><path d="M64.7 135.1L67.4 135.1L67.5 138.2L67.4 141.0L65.1 141.0L65.1 138.3Z" fill="#2c2c2c" fill-rule="evenodd"/><path d="M58.3 140.7L60.8 141.3L61.2 139.7L64.2 140.6L65.4 140.0L67.1 140.6L68.4 142.0L69.8 142.1L71.1 143.6L71.7 144.8L72.8 147.2L73.2 147.8L74.4 149.8L74.1 151.2L74.6 153.5L73.2 154.1L73.1 156.0L72.5 157.7L70.2 158.4L68.2 157.7L66.9 158.5L65.4 159.2L64.3 160.2L64.0 162.7L62.3 162.3L62.3 160.2L63.0 160.0L63.3 157.7L62.6 156.0L62.0 155.8L60.5 154.2L59.1 154.5L56.9 153.5L55.6 154.7L53.4 154.9L52.1 157.1L51.2 157.7L52.7 159.3L52.7 162.0L54.0 163.7L54.4 164.9L55.3 166.9L56.2 167.6L57.1 169.6L57.9 171.1L59.0 171.9L58.3 174.7L56.8 175.4L54.1 176.1L52.4 176.1L50.5 174.7L51.3 172.9L51.2 171.2L49.9 169.3L49.7 167.4L48.4 166.2L48.4 164.2L47.7 162.6L46.3 161.3L47.7 160.0L47.7 158.0L48.4 156.3L49.6 155.3L50.0 153.5L51.2 152.8L52.7 152.8L54.3 150.7L55.5 150.7L56.2 149.1L56.6 146.4L56.2 145.0L57.3 142.9L57.9 141.8Z" fill="#2c2c2c" fill-rule="evenodd"/><path d="M111.9 197.5L113.3 196.9L115.4 196.4L117.5 195.6L119.4 193.9L120.1 194.1L122.5 192.5L123.6 192.5L126.2 193.3L126.9 193.8L129.0 195.3L130.0 196.9L129.9 198.5L129.4 201.2L128.7 203.7L127.5 205.0L127.2 207.3L126.9 208.8L125.0 208.6L122.5 209.8L121.4 208.8L119.4 207.5L118.1 204.9L117.5 203.8L116.8 202.8L115.0 201.9L114.3 201.0L113.3 199.6Z" fill="#2c2c2c" fill-rule="evenodd"/></g></g></g>
<g transform="translate(0.00 0) scale(1.0 1)"><use href="#med"/><g clip-path="url(#medC)"><g transform="scale(1.00000 1) translate(-0.00 0)"><path d="M235.0 292.5L236.5 292.7L238.6 293.5L240.0 294.6L242.5 295.5L245.0 296.8L246.6 296.7L248.2 297.6L250.0 298.8L251.1 299.1L252.7 301.3L255.2 302.0L256.2 302.5L257.7 303.5L258.0 305.7L259.6 307.5L260.8 307.9L261.2 310.0L262.7 311.8L263.8 312.6L265.0 314.1L266.2 316.2L267.9 318.3L268.3 319.0L269.9 320.9L270.8 322.8L271.2 323.8L271.9 325.4L272.7 327.1L272.7 328.7L274.3 330.1L274.5 332.5L273.9 334.4L274.4 336.1L274.8 337.5L275.6 339.0L275.0 341.2L275.3 342.5L276.0 344.2L276.2 346.2L274.4 347.7L272.6 348.5L271.2 349.5L270.6 351.0L268.8 353.8L266.2 355.0L265.0 357.0L264.6 355.7L262.9 353.7L262.5 352.5L261.6 350.4L261.0 348.6L261.2 346.2L260.6 345.4L259.1 343.8L256.8 341.2L256.2 340.0L255.7 338.9L253.6 337.5L252.7 335.8L251.2 333.8L249.7 332.0L248.7 330.7L247.3 330.7L246.2 328.8L244.7 326.3L243.1 324.9L242.5 323.8L243.2 321.7L242.8 319.4L244.2 318.0L243.8 316.2L242.8 313.8L242.1 312.3L242.5 310.5L241.1 309.2L241.2 307.5L240.2 306.4L239.4 303.8L239.8 301.7L238.8 300.0L238.5 298.1L236.5 296.1L235.2 294.3Z" fill="#2c2c2c" fill-rule="evenodd"/></g></g></g>
<g transform="translate(283.79 0) scale(1.019 1)"><use href="#lat"/><g clip-path="url(#latC)"><g transform="scale(0.98135 1) translate(-283.79 0)"><path d="M332.7 140.7L333.9 141.8L336.0 142.7L336.7 144.0L337.5 145.0L339.3 146.0L340.6 148.0L340.9 148.8L342.1 151.1L344.1 151.5L345.6 154.5L346.0 155.3L347.0 157.2L347.0 158.0L348.3 159.8L348.6 161.8L349.1 163.9L350.5 166.1L351.3 167.3L351.6 169.3L351.8 171.1L351.9 172.3L353.0 175.2L353.0 176.5L352.7 178.0L352.8 179.4L353.2 180.9L354.4 183.2L355.0 184.9L355.6 187.4L355.3 188.7L355.7 189.6L358.1 191.3L359.3 192.5L359.0 194.2L360.7 195.3L361.8 197.0L361.4 199.1L363.4 201.7L363.3 203.3L361.9 204.7L361.0 206.2L360.7 208.7L359.1 207.5L356.8 207.3L354.2 207.0L352.7 206.0L350.6 205.1L349.0 203.7L347.6 202.3L347.2 202.0L344.6 201.0L343.3 199.3L341.8 197.7L341.6 196.5L339.3 195.5L338.3 192.9L338.0 191.5L336.2 189.6L335.3 188.7L334.0 187.1L333.4 185.5L332.8 183.6L333.0 182.0L331.6 180.9L330.3 178.1L330.6 177.5L329.2 175.3L328.4 173.0L328.8 172.2L327.6 170.3L328.2 167.9L327.2 165.2L326.2 164.6L326.5 162.0L326.4 160.6L326.6 159.1L327.4 156.5L327.0 155.5L327.0 153.0L328.0 152.2L328.1 150.0L329.1 148.1L330.3 146.4L329.7 145.0L331.1 143.1L331.4 142.0Z" fill="#2c2c2c" fill-rule="evenodd"/><path d="M350.0 111.3L351.6 110.5L353.4 108.7L354.1 107.9L356.1 107.5L358.0 106.0L360.2 105.9L361.8 105.7L363.1 105.1L365.0 105.5L367.3 104.7L368.4 106.0L370.3 106.7L372.7 107.3L371.8 108.9L371.8 109.9L370.0 113.0L370.0 114.0L368.7 114.7L368.1 117.3L365.4 117.9L364.1 119.1L363.3 120.7L361.8 121.2L360.3 122.0L357.8 124.1L356.7 124.7L355.2 123.2L354.1 122.0L352.7 120.7L351.2 118.6L350.3 118.7L348.7 116.7L349.8 115.1L349.3 112.9Z" fill="#2c2c2c" fill-rule="evenodd"/><path d="M400.7 98.0L402.0 99.3L404.3 100.5L405.2 100.6L407.3 102.0L406.5 103.5L407.2 105.2L406.6 107.2L406.0 109.4L406.0 111.3L405.8 113.3L403.9 114.6L403.5 117.2L403.8 118.9L403.2 120.6L402.0 122.0L401.7 124.0L399.7 125.6L399.1 127.0L398.3 128.0L397.0 129.5L396.0 130.6L395.3 132.7L394.7 134.4L393.8 135.6L392.0 137.0L390.2 138.3L389.5 138.8L388.0 140.7L387.3 142.0L385.9 143.5L385.3 145.0L383.4 146.7L382.5 147.8L381.3 149.6L380.7 151.3L379.4 153.3L380.0 154.7L379.0 157.3L377.3 157.9L377.8 160.7L376.7 162.0L375.5 162.6L373.9 164.7L372.7 165.2L371.2 165.2L368.2 164.8L366.5 164.1L364.7 163.3L362.8 162.3L362.2 160.1L360.7 158.0L360.5 156.3L361.3 154.4L361.3 152.7L361.5 150.2L362.0 148.7L362.2 147.2L362.8 144.7L363.4 143.5L364.8 141.6L364.6 139.7L366.0 138.0L366.0 135.6L365.7 135.2L366.1 132.4L366.5 131.0L366.5 129.1L367.3 127.3L367.9 126.2L368.2 123.9L369.7 123.2L370.6 120.9L371.3 119.3L372.9 117.7L373.3 116.7L375.9 115.7L376.3 114.3L378.0 112.7L380.1 111.2L381.2 110.2L382.3 109.0L383.8 108.0L385.1 107.0L387.3 106.0L388.3 105.3L390.7 103.1L392.5 102.3L393.7 101.8L395.3 100.7L396.9 99.5L398.8 98.3Z" fill="#2c2c2c" fill-rule="evenodd"/><path d="M387.3 79.3L388.3 78.9L390.6 78.5L391.6 76.7L393.8 76.5L394.7 75.8L396.3 75.2L398.0 74.0L399.3 73.5L402.3 73.6L403.2 74.1L405.7 73.0L407.3 73.5L405.7 74.8L403.5 76.0L401.8 76.6L400.7 78.0L398.3 78.2L397.8 79.2L396.1 79.9L393.7 81.2L392.1 80.8L390.0 82.0L388.8 80.9Z" fill="#2c2c2c" fill-rule="evenodd"/><path d="M407.3 88.7L409.9 87.4L411.4 87.1L413.7 86.3L415.4 86.8L416.7 86.0L419.0 86.6L419.9 85.4L422.5 85.2L423.6 84.9L426.4 85.7L428.1 84.6L430.1 84.9L431.3 84.7L432.7 87.3L430.5 87.3L429.0 86.7L427.4 87.1L425.7 88.0L424.0 87.2L422.0 87.3L420.8 88.6L418.4 89.1L415.9 88.4L414.4 90.1L413.4 90.3L411.3 90.5L409.0 89.6Z" fill="#2c2c2c" fill-rule="evenodd"/><path d="M507.3 104.7L509.0 104.4L511.0 104.2L512.9 104.3L514.6 104.1L516.1 103.4L518.5 103.0L520.7 103.3L522.9 103.2L524.9 104.4L526.0 104.5L528.7 104.3L529.5 104.2L532.3 104.2L534.0 104.7L535.3 105.0L537.0 106.4L538.8 106.6L540.7 107.3L541.4 109.9L541.4 110.4L543.0 113.4L543.2 114.8L543.3 116.7L542.0 117.9L541.3 120.2L540.7 122.0L538.7 120.5L538.3 117.7L536.7 116.7L536.5 115.0L536.0 113.3L535.1 111.6L534.0 110.0L532.4 109.4L529.7 108.3L528.3 108.1L526.7 107.7L525.4 107.0L523.3 106.5L521.2 106.6L520.3 107.0L518.1 107.0L515.6 105.9L513.6 106.0L511.6 106.7L511.1 106.0L508.7 106.5Z" fill="#2c2c2c" fill-rule="evenodd"/><path d="M402.0 172.7L403.4 174.2L405.4 174.5L406.4 176.2L407.6 176.3L408.7 178.0L409.1 179.2L411.3 180.3L412.0 181.7L413.6 184.0L414.1 185.4L415.3 186.0L415.1 188.3L416.7 189.2L416.9 191.7L417.7 193.0L417.5 195.3L416.8 197.5L416.3 198.2L414.8 200.8L414.7 202.5L414.0 203.3L411.5 204.5L410.5 205.3L407.3 205.1L406.0 206.0L403.5 205.8L402.0 205.6L400.2 204.8L399.1 203.5L396.7 203.3L395.7 202.4L394.6 199.9L393.1 199.0L391.9 197.1L391.3 195.3L391.4 193.5L390.8 191.8L392.0 189.5L391.1 188.5L391.3 186.0L392.3 184.1L392.2 183.2L393.5 181.2L394.2 179.8L395.3 178.0L397.0 176.6L397.4 176.6L399.9 174.1L400.8 174.0ZM396.7 183.3L398.8 184.3L399.7 185.0L402.0 184.7L402.9 186.7L404.1 188.6L406.0 190.0L403.5 191.6L402.0 192.7L400.6 192.2L398.4 191.4L396.7 190.0L396.1 187.4L394.0 186.0L395.4 185.4Z" fill="#2c2c2c" fill-rule="evenodd"/></g></g></g>
<g transform="translate(283.60 0) scale(1.019 1)"><use href="#med"/><g clip-path="url(#medC)"><g transform="scale(0.98135 1) translate(-283.60 0)"><path d="M380.0 262.5L381.4 262.2L384.0 261.2L385.2 261.1L387.5 260.0L389.6 261.3L390.8 262.1L392.5 263.8L392.1 265.4L393.3 266.9L393.9 269.0L393.8 271.2L392.1 272.2L392.0 274.9L390.0 276.2L388.7 276.6L385.6 276.4L384.4 276.2L382.5 277.0L381.7 275.3L379.0 274.5L378.0 272.5L377.3 271.1L377.6 268.4L377.5 266.2L378.5 264.4Z" fill="#2c2c2c" fill-rule="evenodd"/><path d="M366.2 277.5L368.8 276.6L369.3 277.6L371.4 276.0L373.8 276.2L375.6 277.3L377.7 278.3L378.8 280.0L379.4 281.8L378.9 284.8L378.8 286.2L377.4 288.3L375.7 288.4L373.8 290.5L372.4 290.6L369.7 290.0L368.6 290.6L366.2 290.5L365.7 289.5L364.4 287.8L362.5 286.2L363.0 283.9L363.0 281.2L364.3 280.1Z" fill="#2c2c2c" fill-rule="evenodd"/><path d="M423.8 288.0L426.1 288.6L427.8 287.2L429.1 287.6L430.8 287.0L432.5 287.5L433.7 288.0L435.4 288.7L436.8 288.8L439.5 289.9L440.9 291.0L442.5 291.2L444.0 291.3L446.3 292.8L447.7 293.6L449.9 293.9L451.2 294.6L452.5 295.5L454.1 296.5L455.2 296.5L457.0 298.2L458.6 298.6L460.0 299.5L459.6 300.8L458.8 303.0L456.5 302.6L455.7 302.3L452.9 302.1L451.1 302.3L450.0 302.5L448.2 303.1L446.0 302.6L444.1 302.6L442.5 303.0L441.0 303.4L438.4 303.2L437.3 304.4L435.0 304.5L434.7 302.6L433.4 302.1L432.5 300.0L431.0 299.2L428.7 297.7L427.5 295.5L425.6 294.0L424.3 293.1L423.8 291.2Z" fill="#2c2c2c" fill-rule="evenodd"/><path d="M512.5 288.0L514.6 287.8L515.5 287.3L517.3 286.2L518.9 285.6L521.2 284.5L522.5 285.4L525.1 286.1L526.4 286.8L529.0 286.3L530.0 287.5L531.3 289.4L532.9 289.9L533.5 291.9L535.0 292.5L536.3 293.8L539.3 293.9L540.4 295.0L542.5 296.2L544.1 297.1L546.1 298.9L546.7 299.8L547.9 299.6L550.0 301.2L551.8 302.6L553.6 303.9L555.2 303.7L556.2 305.0L557.9 307.2L558.1 308.1L559.5 309.2L561.2 311.2L561.8 313.4L563.2 314.4L563.1 317.6L563.8 318.8L563.2 320.4L561.5 322.1L560.6 323.7L560.0 325.0L560.6 326.5L561.3 328.2L561.2 330.5L561.3 331.2L562.2 333.2L562.5 335.0L563.3 336.6L562.8 338.3L563.2 340.7L563.4 343.4L563.8 345.0L561.8 347.4L561.6 348.8L560.0 350.0L561.7 350.9L563.2 351.5L565.0 352.5L566.2 351.7L568.0 351.3L570.6 351.4L571.9 349.8L573.0 350.1L575.0 349.5L577.0 350.0L578.7 351.4L579.9 351.2L582.0 352.0L581.7 353.6L581.0 355.5L579.3 357.5L578.8 359.8L578.8 361.2L578.0 362.5L576.8 363.3L574.9 364.5L573.1 366.7L571.8 368.2L571.2 368.8L569.7 369.8L567.4 370.8L566.9 370.3L564.3 371.1L563.2 371.7L562.1 373.0L560.0 373.8L558.6 374.0L556.9 374.9L555.2 375.5L554.1 376.8L552.2 376.6L550.0 377.5L547.7 376.4L546.2 376.2L546.9 375.4L548.4 373.7L549.6 371.7L551.2 370.0L552.1 368.5L554.1 367.7L555.7 365.9L556.2 365.0L553.8 363.5L551.7 364.1L550.0 362.5L548.2 361.2L546.2 360.0L547.0 358.9L548.5 356.5L548.6 355.0L550.7 354.3L551.2 352.5L550.3 350.4L550.0 349.3L550.1 346.9L549.0 345.1L548.8 343.8L548.5 342.3L547.5 340.2L546.1 339.2L545.0 337.5L544.1 336.0L541.5 335.5L541.0 333.8L538.8 332.5L537.0 330.9L535.7 331.1L534.0 329.4L532.8 328.1L531.2 327.5L529.4 326.0L529.5 324.9L527.2 323.2L526.2 321.2L526.3 319.3L525.2 316.6L525.0 315.0L526.6 314.0L527.1 312.0L528.8 311.2L530.0 312.1L533.1 311.9L534.5 312.5L536.2 312.5L536.6 310.9L537.8 309.7L538.8 307.5L537.4 306.4L536.5 304.3L536.2 302.5L534.8 302.7L532.1 303.4L530.0 305.0L528.5 304.0L527.6 303.1L525.9 302.5L523.8 301.2L523.0 299.5L520.6 298.3L519.4 296.8L518.8 295.0L516.6 293.9L515.8 293.2L513.8 291.2L512.7 289.1Z" fill="#2c2c2c" fill-rule="evenodd"/><path d="M508.8 391.2L510.3 391.6L512.8 390.3L514.6 390.7L515.1 390.9L517.5 390.0L518.9 389.9L521.0 390.5L522.3 390.8L525.1 390.7L526.9 391.1L528.7 390.6L530.0 391.2L531.6 391.6L533.0 392.7L535.6 391.7L537.3 392.6L538.5 392.5L540.7 392.7L542.5 393.8L541.2 396.2L539.5 396.6L536.9 397.4L534.9 396.6L534.2 397.0L531.8 397.8L530.0 398.0L527.9 397.8L526.0 397.6L523.3 397.9L521.7 396.5L520.0 397.0L518.0 397.0L516.4 395.9L514.3 395.1L512.5 395.0L511.4 393.5L509.3 391.9Z" fill="#2c2c2c" fill-rule="evenodd"/></g></g></g>
<g transform="translate(575.19 0) scale(1.019 1)"><use href="#lat"/><g clip-path="url(#latC)"><g transform="scale(0.98135 1) translate(-575.19 0)"><path d="M688.0 82.0L688.6 80.3L690.5 79.9L691.5 77.9L692.9 77.7L694.1 76.5L696.2 74.5L697.4 73.8L698.7 72.7L700.1 72.6L701.1 70.4L703.9 70.2L704.3 69.4L706.1 69.5L707.4 67.7L709.3 67.3L711.5 67.6L714.0 68.2L715.1 67.5L717.3 68.1L717.0 70.6L715.0 71.9L715.5 73.5L713.7 75.4L713.3 76.7L712.6 77.8L711.4 79.4L709.4 81.2L708.8 82.9L708.0 84.7L706.4 85.7L705.0 86.4L703.1 86.7L700.2 86.3L698.7 87.3L696.6 87.0L694.5 85.8L692.0 86.0L690.2 85.3L689.5 83.6Z" fill="#2c2c2c" fill-rule="evenodd"/><path d="M660.0 116.7L660.9 115.1L662.8 115.0L664.7 113.7L665.6 112.2L668.3 111.1L669.3 110.0L671.6 109.5L672.3 107.0L674.4 106.1L674.8 105.9L677.6 104.9L678.7 103.3L680.9 102.1L681.2 101.2L684.2 100.4L684.6 99.4L686.7 99.3L685.8 100.4L686.1 102.3L685.8 105.1L685.4 106.7L686.1 108.0L685.6 110.0L685.3 111.3L684.6 112.7L683.3 114.5L682.7 116.7L683.4 119.2L684.3 119.6L685.3 122.0L683.5 123.2L681.7 123.7L680.0 124.1L678.1 122.1L677.6 120.6L676.0 119.9L673.5 120.0L671.1 119.7L669.3 120.7L667.3 122.4L666.9 123.5L665.3 124.5L664.5 125.1L662.7 126.0L661.0 127.0L658.9 127.8L658.0 128.5L656.0 130.0L656.1 128.2L655.3 126.9L654.7 124.7L656.0 122.5L656.4 120.7L657.2 120.5L659.1 119.0Z" fill="#2c2c2c" fill-rule="evenodd"/><path d="M652.0 138.0L653.7 137.6L655.7 136.4L657.0 136.7L659.0 135.0L660.0 134.8L662.2 135.1L664.0 135.8L666.0 135.1L668.0 135.3L668.7 137.8L667.7 139.5L668.0 142.0L666.7 142.7L665.5 145.0L663.9 146.5L662.7 147.3L662.2 149.0L660.8 150.0L658.8 152.9L658.1 153.3L657.3 155.3L657.7 157.6L656.2 158.8L656.1 160.6L655.5 162.8L656.0 164.7L655.3 166.3L654.6 167.6L654.7 170.0L652.3 171.1L651.7 171.2L649.1 171.1L648.0 172.1L646.1 170.3L644.7 168.6L644.0 167.3L643.6 164.7L644.2 162.8L644.0 160.7L644.8 158.6L645.7 157.4L646.1 154.4L647.2 153.0L648.0 151.3L649.0 148.7L649.6 146.6L649.7 145.2L650.1 143.3L650.5 142.1L651.7 139.3Z" fill="#2c2c2c" fill-rule="evenodd"/><path d="M617.6 163.3L618.9 164.8L620.6 166.6L621.3 167.3L622.2 169.0L622.5 171.0L621.8 172.3L622.4 174.3L622.7 176.7L621.4 178.8L620.8 180.7L620.3 179.3L618.4 176.5L618.1 175.3L617.7 173.7L618.5 172.4L618.6 170.3L618.0 168.2L617.5 166.3L617.7 165.2Z" fill="#2c2c2c" fill-rule="evenodd"/><path d="M632.0 196.7L634.1 196.4L636.4 195.9L637.7 195.4L640.0 194.0L642.1 195.0L644.4 196.0L645.7 195.8L648.0 196.7L649.7 198.1L651.0 199.1L652.7 199.9L653.7 201.8L654.7 203.3L655.0 204.9L656.1 205.6L657.6 206.8L658.4 208.0L660.0 210.0L658.3 209.2L655.0 209.0L653.3 209.5L651.9 208.9L649.8 208.8L647.3 207.3L645.3 206.8L643.6 205.6L642.3 205.8L640.5 204.6L639.5 203.9L637.3 202.5L636.3 201.1L634.1 199.4L633.9 198.0Z" fill="#2c2c2c" fill-rule="evenodd"/><path d="M685.3 195.3L687.1 195.7L690.0 195.3L691.8 194.9L693.3 194.0L694.6 194.9L697.0 195.7L699.2 196.1L701.3 196.7L702.2 198.4L703.4 200.7L703.5 202.1L704.5 203.3L704.7 204.8L703.0 206.7L703.5 208.4L702.7 210.0L700.5 211.1L699.1 212.2L697.2 212.5L696.0 213.2L694.5 212.5L692.8 210.8L691.9 208.6L690.7 207.3L689.2 205.4L689.2 204.2L687.5 201.5L687.4 199.6L685.6 197.4Z" fill="#2c2c2c" fill-rule="evenodd"/></g></g></g>
<g transform="translate(576.00 0) scale(1.019 1)"><use href="#med"/><g clip-path="url(#medC)"><g transform="scale(0.98135 1) translate(-576.00 0)"><path d="M750.0 295.5L751.4 294.0L752.6 294.0L754.8 292.6L756.2 291.2L758.1 290.8L760.1 290.9L761.9 290.7L763.8 290.2L765.0 290.0L766.2 290.2L768.8 291.0L770.5 292.4L771.3 293.4L773.8 293.8L772.2 296.0L772.6 296.7L771.2 298.8L771.1 300.7L769.7 302.3L769.2 304.3L769.5 306.1L768.8 307.0L766.4 305.9L765.6 305.5L763.8 304.5L761.7 304.3L761.1 302.6L758.5 302.3L757.5 301.2L755.3 300.9L753.3 299.9L751.2 299.5L749.9 297.0Z" fill="#2c2c2c" fill-rule="evenodd"/><path d="M783.8 296.2L785.2 294.0L785.9 292.8L787.9 292.0L789.3 289.6L790.0 288.8L791.8 287.2L793.3 287.1L794.9 285.9L797.5 285.5L799.7 285.9L801.1 286.2L804.0 285.7L806.0 287.0L807.5 287.0L808.2 288.2L810.1 290.1L809.7 291.5L811.2 293.8L812.5 295.7L813.2 297.6L813.6 299.7L814.1 300.8L815.0 302.5L817.2 303.5L818.9 304.3L820.0 305.0L822.1 303.3L823.1 302.7L824.6 301.6L826.4 300.7L828.8 300.0L830.8 300.1L832.3 300.2L834.0 301.6L836.2 301.2L837.5 303.2L837.8 305.1L838.7 306.3L841.0 308.5L841.2 310.0L841.8 312.2L842.6 314.2L842.1 314.9L842.6 317.2L842.9 320.0L843.8 321.2L845.1 322.7L845.5 324.6L846.6 326.4L846.4 327.9L847.5 330.0L847.8 331.6L848.1 334.6L848.1 335.6L849.2 338.0L848.8 340.0L849.9 339.8L851.7 341.2L854.4 341.4L855.1 341.8L857.5 342.5L860.0 342.4L861.8 342.7L862.1 342.3L864.9 341.8L866.1 341.8L867.6 341.3L870.0 341.2L871.6 341.5L873.9 340.1L875.0 339.5L877.3 340.1L878.0 339.4L880.0 338.8L881.7 339.5L883.5 341.3L885.1 342.5L886.2 343.8L885.7 345.4L885.9 348.1L887.4 349.9L886.8 350.6L887.9 353.8L887.5 355.0L885.6 356.5L884.4 358.5L884.1 359.1L882.5 361.2L880.7 361.5L878.6 362.2L877.0 361.4L875.4 362.3L873.1 361.9L872.5 362.5L870.0 362.5L869.1 360.9L867.8 358.8L867.5 357.5L865.4 357.3L863.3 356.5L861.2 356.8L860.0 356.2L858.6 358.6L858.5 359.1L856.6 361.8L855.6 362.7L855.0 365.0L854.0 365.7L851.6 366.7L850.5 366.4L847.7 367.4L846.6 368.1L845.0 368.8L843.8 368.1L842.6 366.3L840.2 365.7L838.8 365.0L839.3 362.5L838.3 360.8L838.8 358.8L840.1 357.2L841.4 356.9L843.2 355.5L844.8 353.1L846.2 352.5L845.7 351.4L844.5 350.0L843.0 347.3L841.2 346.2L840.2 344.1L839.1 342.1L838.1 341.7L836.9 339.7L836.2 337.5L834.9 335.9L834.4 335.2L832.6 333.3L830.7 331.2L830.0 330.0L829.2 329.1L827.1 328.3L825.0 327.0L824.2 326.4L822.2 325.5L821.2 323.8L819.2 322.2L818.5 321.9L816.5 320.1L816.0 319.2L814.1 318.7L812.5 317.5L810.4 317.4L808.5 317.7L806.1 317.1L804.1 316.3L802.5 316.2L800.9 315.3L798.5 315.4L796.2 314.3L795.0 313.8L795.1 312.6L793.1 309.6L792.8 308.8L792.5 306.2L791.5 305.6L789.2 303.2L788.3 302.8L786.2 301.2L785.6 300.3L784.8 297.2Z" fill="#2c2c2c" fill-rule="evenodd"/><path d="M707.0 367.0L710.0 366.2L710.2 368.2L711.3 369.4L712.9 371.5L713.5 372.7L713.7 374.2L715.2 376.4L716.2 377.5L717.6 379.3L718.7 379.9L720.5 382.3L721.1 382.6L722.5 384.6L724.2 386.2L725.0 387.5L726.5 388.6L727.8 388.8L728.8 391.2L731.5 391.2L732.5 392.5L731.2 394.5L730.1 393.6L727.2 393.2L726.1 392.4L724.5 390.3L722.5 390.0L721.4 389.0L720.6 386.9L718.8 386.0L717.0 384.8L716.7 382.2L715.1 381.2L713.8 380.0L712.3 378.4L712.5 376.6L710.2 374.7L710.2 373.7L708.8 371.2L708.2 368.4Z" fill="#2c2c2c" fill-rule="evenodd"/></g></g></g>
<g transform="translate(867.19 0) scale(1.019 1)"><use href="#lat"/><g clip-path="url(#latC)"><g transform="scale(0.98135 1) translate(-867.19 0)"><path d="M934.7 119.3L935.8 118.4L937.3 118.0L938.9 116.7L941.5 115.6L943.1 115.2L944.0 114.0L945.8 113.7L947.7 112.7L950.1 112.3L951.8 112.4L952.2 111.0L954.7 110.8L956.3 111.0L957.6 110.3L959.6 110.3L962.1 109.9L963.2 109.2L961.9 111.5L961.5 113.4L960.8 115.4L960.0 116.7L959.2 118.0L957.4 118.7L955.5 118.6L954.5 119.8L951.5 120.6L950.7 121.5L948.9 121.9L948.2 122.7L946.5 124.3L943.8 124.9L942.7 126.0L940.5 125.9L939.0 127.1L936.5 127.3L936.8 125.8L936.0 124.1L935.8 121.5Z" fill="#2c2c2c" fill-rule="evenodd"/><path d="M962.7 120.7L964.5 118.7L965.2 118.0L966.7 116.5L967.7 114.8L969.0 113.9L969.3 112.7L970.5 112.0L972.9 111.0L974.2 110.5L976.0 110.8L976.3 112.0L977.5 113.9L979.3 115.8L980.4 118.2L980.8 119.3L981.2 121.9L980.6 123.3L980.9 125.0L979.6 126.8L980.0 128.7L979.3 129.7L977.9 131.2L978.0 133.7L977.2 134.7L975.5 135.5L975.7 137.9L974.7 139.3L973.3 140.2L971.4 141.5L970.1 143.5L969.0 144.7L967.9 146.1L966.7 147.3L965.4 148.6L962.8 149.8L962.2 150.4L960.0 150.8L960.2 149.7L961.0 146.9L961.1 146.0L961.4 144.4L961.3 142.0L961.2 140.5L960.3 138.8L960.2 137.2L961.2 135.0L959.7 132.7L960.2 131.2L960.0 130.0L960.9 128.3L961.1 126.5L961.1 124.3L961.5 122.6Z" fill="#2c2c2c" fill-rule="evenodd"/><path d="M913.3 144.7L914.8 143.9L915.9 142.3L918.0 140.7L919.0 139.7L920.0 138.0L922.4 136.5L923.2 137.1L926.0 135.2L927.8 134.3L929.3 134.0L930.7 135.0L932.1 135.6L934.1 137.4L935.5 138.5L937.3 139.3L938.7 140.4L938.3 142.3L939.6 144.5L939.9 146.1L941.1 148.6L941.3 150.0L941.6 152.5L941.6 153.8L943.0 155.6L942.7 158.0L940.8 158.6L940.3 161.1L938.0 162.0L937.2 163.1L936.0 164.7L934.0 165.3L932.3 166.9L930.7 167.1L929.8 168.1L928.0 168.7L926.0 169.4L924.7 169.5L921.6 170.4L920.0 171.3L919.0 170.2L917.2 168.6L915.4 168.4L914.3 167.0L913.3 166.0L912.2 164.1L911.5 163.4L911.4 161.2L910.2 160.1L909.9 158.0L910.4 155.8L910.3 155.3L910.9 152.9L911.0 151.9L911.7 149.8L912.8 148.1L912.7 146.0Z" fill="#2c2c2c" fill-rule="evenodd"/><path d="M924.0 192.7L926.6 191.8L928.1 192.0L930.7 191.5L932.0 191.3L933.6 192.0L935.3 193.1L937.7 193.4L938.2 194.4L940.6 194.3L942.3 194.8L944.0 195.3L946.3 195.7L946.8 197.4L948.6 197.0L950.6 198.6L952.1 197.9L953.6 198.9L954.9 200.6L957.3 200.7L959.4 200.9L960.4 202.9L962.8 202.9L964.3 204.4L965.5 204.7L966.9 205.2L969.3 206.0L969.4 207.5L970.1 209.4L970.7 211.3L969.5 211.4L966.4 212.3L966.0 212.5L963.2 212.0L962.2 211.8L960.0 212.7L957.6 212.1L956.2 211.5L954.3 211.6L953.1 210.2L951.1 209.5L950.1 209.7L948.0 208.7L946.7 208.7L944.7 207.4L942.7 206.4L940.9 206.4L940.0 205.9L937.1 205.3L936.0 204.7L934.2 204.1L933.3 202.7L931.4 201.3L929.3 200.9L928.0 199.3L927.4 197.8L926.6 196.5L925.3 193.7Z" fill="#2c2c2c" fill-rule="evenodd"/><path d="M982.7 178.0L983.8 179.6L985.7 180.1L988.0 180.7L989.6 182.4L989.9 183.1L991.7 185.4L992.7 186.1L993.4 187.2L994.7 188.7L996.3 189.9L997.4 191.5L998.9 192.0L999.6 194.3L1001.3 195.3L1001.8 197.7L1001.4 198.7L1002.5 201.3L1002.4 203.2L1003.2 204.7L1002.4 206.0L1002.4 207.3L1001.9 209.2L1000.4 210.6L1000.0 212.7L998.0 213.5L995.6 213.4L993.9 213.4L992.0 214.0L989.7 213.9L988.3 213.1L986.7 212.7L987.0 210.3L987.6 209.7L987.0 207.8L987.9 205.3L987.4 203.2L988.0 202.0L987.3 200.1L986.9 198.2L986.5 195.8L985.5 194.6L985.3 192.7L984.7 190.6L983.7 190.2L983.9 188.2L982.6 186.1L982.1 184.7L982.6 182.5L982.7 179.5Z" fill="#2c2c2c" fill-rule="evenodd"/><path d="M990.7 72.7L993.2 72.0L994.4 71.1L996.7 71.0L998.0 69.1L1000.0 68.7L1001.8 67.9L1004.2 69.1L1005.6 68.7L1008.0 68.1L1006.2 70.1L1005.3 70.8L1003.6 71.2L1001.1 71.5L1000.6 72.2L998.4 73.4L996.4 74.2L994.7 74.5L992.1 73.9Z" fill="#2c2c2c" fill-rule="evenodd"/></g></g></g>
<g transform="translate(867.80 0) scale(1.019 1)"><use href="#med"/><g clip-path="url(#medC)"><g transform="scale(0.98135 1) translate(-867.80 0)"><path d="M1017.5 298.8L1019.4 298.2L1021.7 297.2L1022.9 297.2L1025.0 296.2L1027.0 295.9L1028.9 295.7L1030.5 296.0L1033.6 295.9L1035.0 295.5L1037.0 295.7L1038.4 295.8L1040.6 296.4L1041.7 297.8L1043.8 297.5L1042.7 299.7L1042.3 300.9L1041.2 302.0L1039.7 302.0L1038.1 302.6L1035.9 302.9L1033.6 303.8L1032.5 304.5L1030.0 304.3L1029.5 305.2L1027.1 303.9L1025.3 303.8L1023.8 304.5L1021.2 304.0L1019.8 302.5L1017.5 302.5L1017.5 300.5Z" fill="#2c2c2c" fill-rule="evenodd"/><path d="M965.5 317.5L968.1 316.0L970.0 315.1L971.2 314.5L972.9 315.9L974.5 316.2L976.0 317.7L979.0 317.4L980.0 318.8L980.9 319.7L983.0 321.2L984.3 321.9L985.5 322.3L987.5 323.8L987.1 325.8L988.1 327.9L988.9 329.5L988.3 331.7L988.8 333.8L989.7 335.3L989.1 337.4L990.0 339.0L990.0 341.2L987.6 343.2L986.2 344.5L984.9 343.7L982.5 342.3L981.2 341.6L980.9 341.6L978.8 340.0L977.4 338.9L975.1 338.7L972.9 337.0L971.2 336.2L970.5 334.5L969.1 332.9L968.5 331.6L967.0 330.0L966.1 327.2L966.7 325.3L966.2 323.8L966.3 321.3L965.8 319.3Z" fill="#2c2c2c" fill-rule="evenodd"/><path d="M1091.2 270.0L1093.3 269.3L1096.0 269.1L1097.5 268.8L1098.5 270.0L1100.2 270.0L1101.9 271.4L1104.7 272.3L1105.4 273.4L1107.5 273.8L1109.0 275.1L1109.0 277.1L1111.0 279.1L1111.2 280.0L1110.1 281.6L1107.5 282.7L1106.2 283.8L1107.7 285.2L1109.4 285.8L1111.5 286.8L1112.5 288.8L1113.9 288.9L1116.5 289.0L1117.6 290.7L1119.3 291.1L1120.7 290.7L1122.5 291.2L1123.8 292.1L1125.2 292.7L1127.6 294.7L1128.6 295.5L1129.3 296.0L1131.2 297.5L1133.0 299.7L1133.3 301.2L1135.1 301.8L1135.2 304.0L1136.2 305.9L1137.5 307.5L1137.8 308.6L1139.3 310.7L1139.8 311.9L1139.7 314.2L1139.9 315.7L1141.2 317.5L1141.4 319.0L1142.2 321.3L1143.1 322.1L1143.9 324.1L1144.0 326.3L1145.0 327.5L1145.5 328.4L1145.9 330.7L1145.6 333.2L1146.8 334.9L1147.0 335.7L1147.5 337.5L1147.4 339.4L1148.3 340.4L1149.3 342.6L1148.5 344.9L1149.5 346.5L1150.0 347.5L1149.4 348.9L1149.2 351.5L1148.8 353.8L1150.4 355.4L1151.1 357.0L1152.5 358.8L1154.1 359.5L1156.3 359.4L1157.5 360.0L1157.2 361.0L1158.2 363.1L1158.8 365.1L1159.2 366.4L1158.8 368.8L1158.3 369.7L1156.5 371.7L1155.6 373.4L1155.0 375.0L1153.1 375.6L1150.5 376.0L1149.2 376.4L1147.2 377.1L1145.2 376.5L1143.8 377.5L1142.3 376.7L1139.8 375.3L1138.4 374.1L1136.8 373.4L1135.0 372.5L1133.4 373.2L1131.0 372.7L1130.0 373.4L1128.3 373.2L1126.2 373.8L1124.1 373.8L1122.5 374.9L1121.4 375.8L1119.7 376.2L1117.5 377.5L1115.3 377.4L1113.3 377.5L1112.6 377.4L1110.0 377.5L1109.1 376.0L1109.2 374.7L1108.8 372.5L1109.7 371.6L1112.0 369.7L1113.2 368.1L1115.0 367.5L1117.4 366.4L1118.4 366.2L1120.6 365.4L1121.9 364.7L1123.8 363.8L1125.3 362.5L1127.2 361.2L1127.8 360.7L1129.7 359.2L1131.2 358.8L1132.9 357.9L1133.9 355.7L1134.7 353.5L1136.2 352.5L1135.1 351.0L1134.9 348.6L1133.2 346.6L1132.5 345.0L1131.6 343.2L1130.5 342.5L1129.0 340.8L1128.2 338.5L1127.5 337.5L1126.1 336.2L1124.9 334.3L1123.9 333.0L1123.0 332.2L1121.2 330.0L1120.4 329.2L1117.8 327.8L1116.6 326.9L1114.8 326.5L1113.6 324.4L1112.5 323.8L1111.6 322.6L1108.8 321.2L1108.2 320.0L1106.8 319.2L1105.0 318.8L1103.5 316.7L1102.8 313.9L1102.5 312.5L1102.8 310.0L1102.9 309.2L1103.8 307.1L1103.5 304.7L1103.8 302.5L1102.7 301.0L1102.6 298.1L1100.2 296.8L1100.0 295.0L1100.8 293.3L1100.8 290.7L1101.7 289.8L1102.5 287.5L1101.1 286.3L1099.9 284.8L1098.2 283.0L1097.5 281.2L1095.6 279.8L1093.7 279.0L1092.8 277.7L1091.2 276.2L1091.1 273.5L1091.5 271.4Z" fill="#2c2c2c" fill-rule="evenodd"/><path d="M1162.5 333.8L1163.7 332.7L1164.9 331.9L1165.5 330.7L1167.8 329.2L1168.8 327.5L1171.3 326.6L1173.4 326.9L1175.0 326.2L1175.3 328.9L1176.6 330.7L1177.5 332.5L1177.1 334.8L1177.3 335.8L1177.7 337.8L1178.6 340.1L1178.8 342.5L1176.6 343.4L1175.8 343.2L1173.8 343.8L1171.7 343.3L1170.5 341.9L1168.8 341.2L1167.2 342.6L1166.2 343.9L1164.3 345.9L1163.8 347.5L1162.5 348.9L1161.8 351.9L1161.2 353.8L1160.1 353.5L1158.4 354.3L1156.2 355.0L1156.5 353.7L1155.3 351.5L1155.4 349.0L1155.0 347.5L1156.9 346.1L1158.2 343.6L1158.8 342.5L1160.3 341.9L1162.5 340.0L1162.2 337.7L1162.2 336.3Z" fill="#2c2c2c" fill-rule="evenodd"/><path d="M1002.5 371.2L1004.2 371.6L1006.2 372.5L1007.8 373.9L1008.4 375.5L1009.1 377.1L1011.0 377.7L1011.5 379.4L1012.5 381.2L1014.2 382.5L1014.7 382.8L1016.8 385.0L1018.7 386.0L1019.1 386.4L1021.2 387.5L1022.5 388.8L1023.7 390.2L1025.8 390.2L1027.2 391.4L1029.1 392.3L1030.1 393.4L1032.3 393.1L1032.9 394.1L1035.0 395.0L1035.6 397.1L1037.0 398.0L1034.5 398.2L1033.0 398.0L1031.6 396.7L1030.0 397.0L1029.2 396.0L1027.6 395.0L1024.9 394.5L1023.3 393.6L1022.5 392.8L1019.9 392.0L1018.7 390.8L1017.5 390.0L1016.6 389.3L1014.1 386.9L1013.6 386.1L1012.1 385.2L1011.1 384.3L1009.7 383.1L1007.5 381.2L1006.5 379.5L1004.7 378.6L1004.1 376.5L1003.0 375.0L1002.4 372.9Z" fill="#2c2c2c" fill-rule="evenodd"/><path d="M1092.5 392.5L1093.7 392.1L1095.9 391.8L1097.8 392.1L1100.0 391.2L1101.9 391.7L1104.2 391.5L1105.3 391.0L1107.6 391.0L1108.7 391.3L1111.1 391.8L1112.5 392.0L1114.5 392.2L1117.0 393.1L1118.3 393.2L1120.8 393.1L1122.5 393.0L1123.8 394.2L1123.8 396.2L1121.6 396.4L1119.7 396.4L1117.7 397.5L1117.0 397.6L1114.8 397.2L1112.5 397.5L1110.4 397.3L1108.2 396.8L1107.1 397.2L1105.6 397.3L1103.0 397.7L1101.7 397.0L1100.0 397.0L1097.7 396.3L1096.5 396.7L1093.8 395.5Z" fill="#2c2c2c" fill-rule="evenodd"/></g></g></g>
<defs><g id="latP"><path d="M101.5 85.9L101.9 87.5L103.6 89.6L104.4 91.0L105.4 92.8L105.8 94.5L104.4 96.2L103.5 98.6L103.9 99.5L102.1 101.8L101.5 103.2L100.2 104.5L99.3 106.5L99.1 109.1L97.6 110.8L97.2 111.9L98.7 113.9L100.5 114.3L101.5 116.2L103.5 115.5L104.4 115.7L107.3 115.8L108.3 116.0L111.1 114.9L112.3 115.1L114.0 114.7L116.4 113.3L117.6 113.8L119.4 112.8L121.0 111.9L122.8 110.1L123.6 108.4L125.3 106.5L127.1 105.6L129.3 105.0L130.5 104.9L132.7 104.4L134.0 103.2L136.0 102.0L138.0 102.0L139.5 101.0L141.0 99.7L142.7 98.9M112.3 78.3L113.0 79.8L114.1 82.7L113.9 84.2L114.5 85.9L115.6 86.9L117.1 89.0L118.8 90.2L116.8 91.9L115.0 91.9L113.4 93.8L112.3 94.5L110.0 94.5L107.8 94.7L105.8 94.5M138.3 70.7L138.7 72.6L139.6 74.5L141.1 75.7L142.0 77.7L142.7 79.4L144.2 80.0L147.2 80.5L149.7 81.3L151.3 81.5L152.9 82.0L154.3 83.7L156.8 84.3L158.2 85.0L160.0 85.9L161.8 85.2L163.8 84.6L166.5 83.7M160.0 67.5L161.8 69.3L162.5 71.6L162.9 72.5L164.3 75.0L165.0 76.7L165.3 79.9L166.5 81.0L166.5 83.7L166.3 85.1L167.7 86.6L167.2 88.6L167.4 91.0L167.9 92.6L168.7 94.5L168.6 96.7L167.8 98.5L167.7 100.4L166.9 101.6L167.0 104.2L166.5 105.4L167.2 107.5L167.2 109.4L167.7 112.6L168.7 114.0L168.1 116.2L166.6 117.6L165.1 118.9L164.3 120.5M121.0 96.7L123.3 96.4L124.6 94.7L125.6 94.6L127.5 93.5L129.6 92.0L130.3 92.4L131.8 91.2L134.0 90.2L134.9 92.6L136.2 94.5L138.8 94.3L140.4 93.6L142.7 93.5L142.8 95.4L142.5 97.0L142.7 98.9L141.3 100.3L139.3 102.6L138.3 104.3L139.9 105.0L143.1 105.8L144.5 105.8L147.0 106.5L149.3 106.9L151.2 107.3L152.7 107.8L154.2 109.5L155.7 109.7L156.8 111.5L158.4 113.6L158.5 114.6L160.0 116.2L160.8 117.5L162.4 118.6L164.3 120.5M121.0 96.7L120.5 98.7L118.8 101.0L120.9 103.0L121.8 104.1L123.5 104.6L125.3 106.5M150.3 120.5L150.7 122.9L149.9 124.8L151.3 125.3L151.4 128.2L150.7 130.2L151.3 131.4L150.5 133.0L150.3 135.1L149.7 136.3L148.7 137.8L148.1 140.0L148.4 141.8L148.8 143.3L150.5 144.8L150.6 146.3L151.3 148.7L153.3 147.1L154.1 146.9L156.1 145.5L157.8 144.4L158.3 142.5L158.4 140.2L158.3 138.4L158.7 136.7L159.9 134.7L159.2 132.9L160.0 131.4L159.9 130.0L161.4 128.1L161.7 126.0L161.4 124.0L162.0 122.0L162.2 120.5L160.8 119.3L159.5 118.9L157.8 117.3L156.2 117.6L154.2 119.2L152.2 119.1L150.3 120.5M148.1 140.0L147.5 142.3L148.2 144.6L147.3 146.3L147.0 148.7L147.9 151.2L150.3 152.0L151.3 154.1L150.4 156.3L149.7 157.6L147.8 159.4L147.0 161.7L146.6 164.5L146.3 165.5L145.2 167.6L144.8 170.4M160.0 144.4L160.4 146.5L162.3 147.7L162.3 149.1L162.9 150.9L164.3 153.0L165.7 154.4L167.4 154.3L170.1 156.2L170.7 156.3L173.0 157.4L175.9 157.5L177.5 158.2L179.7 157.6L181.7 158.5L183.4 157.1L184.5 154.6L186.0 153.0L188.1 152.9L190.1 150.9L191.6 150.4L193.6 150.2L194.7 148.7M168.7 114.0L170.1 113.1L172.2 111.7L173.9 112.1L175.7 110.6L177.3 109.7L179.9 109.1L181.4 109.1L183.4 108.6L186.0 107.5L187.6 109.2L188.2 110.2L188.8 112.8L190.3 114.0L190.8 116.1L190.1 118.1L191.5 120.1L191.2 121.4L191.0 122.8L190.6 125.8L191.4 127.0L191.1 128.7L191.1 131.4L191.5 132.9L191.2 134.5L190.9 136.7L190.7 137.6L190.3 140.0L191.2 141.9L192.3 144.1L193.3 145.1L193.8 147.4L194.7 148.7M181.7 72.9L183.0 74.5L183.6 76.1L183.8 78.0L184.6 79.5L185.2 81.6L186.0 83.7L186.8 85.2L189.5 85.4L190.5 87.0L191.7 88.2L193.5 88.8L194.7 90.2L194.8 92.0L196.1 94.4L196.2 95.6L196.7 98.1L197.0 98.8L196.8 101.0L195.4 102.0L194.2 104.1L192.9 104.7L191.2 105.7L190.3 107.5M201.2 70.7L202.0 72.1L202.5 74.3L202.1 76.3L202.2 77.5L202.9 79.4L203.3 81.5L204.5 83.2L204.9 84.7L205.6 87.0L207.4 88.3L207.7 90.2L207.4 91.7L206.6 93.4L205.6 95.5L205.3 97.8L203.5 98.7L203.3 101.0L203.6 102.5L203.6 105.4L204.9 105.9L203.9 108.6L205.5 110.9L205.5 112.5L205.5 114.0L205.2 115.9L205.4 117.2L204.8 119.9L203.8 121.8L203.5 124.0L204.0 125.1L203.3 127.0L205.6 128.4L207.5 128.1L209.8 129.2L211.6 128.7L212.3 127.4L214.0 126.2L215.6 125.5L217.2 124.4L218.5 122.7L219.5 120.4L219.9 119.5L219.1 117.4L219.6 114.8L219.7 113.5L220.7 111.9L222.7 109.8L223.7 109.5L225.0 107.5M218.5 77.2L218.9 79.2L219.4 81.1L220.2 83.0L219.5 84.0L220.3 86.1L220.7 88.0L220.5 90.1L218.9 91.3L217.7 93.4L217.8 94.5L216.3 96.7L217.0 98.3L217.9 100.0L217.9 102.4L219.0 104.1L220.5 105.8L220.7 107.5L223.4 108.0L225.0 107.5L226.2 107.5L228.9 108.2L229.7 109.1L232.4 108.9L234.1 108.9L235.9 109.7M231.5 94.5L231.4 96.9L232.9 97.7L233.2 99.9L234.2 102.6L233.9 104.2L234.8 105.6L235.2 107.7L235.9 109.7L236.5 112.1L237.6 112.7L237.8 115.8L239.1 117.1L239.7 119.0L240.2 120.5L241.9 121.1L244.2 121.6L246.7 122.7L248.4 121.0L249.1 120.8L251.6 119.2L253.0 118.8L253.4 117.9L255.4 116.2L257.1 115.6L259.1 114.6L262.1 115.1L264.0 114.0M194.7 148.7L196.5 147.6L199.2 147.3L201.4 146.6L203.3 146.5L205.8 146.4L206.7 145.2L209.2 146.0L210.3 144.5L213.0 145.3L214.2 144.4L215.9 143.5L218.1 144.3L219.3 143.1L221.9 143.3L223.8 142.7L225.0 142.2L225.9 141.5L228.1 140.1L228.7 138.0L230.9 137.6L231.5 135.7L232.3 133.8L233.6 133.3L235.1 131.3L236.7 131.2L238.0 129.2L238.5 126.5L238.6 124.6L239.4 122.3L240.2 120.5M225.0 142.2L226.7 143.4L226.6 144.9L228.6 147.6L229.3 148.7L229.0 151.1L227.2 153.0M177.3 159.5L178.3 161.8L178.7 163.2L179.2 166.4L179.5 168.2L180.0 170.1L180.2 171.9L181.3 174.4L181.7 175.8L183.6 175.3L185.1 175.2L187.0 173.8L189.2 174.0L191.4 173.4L193.1 172.8L194.7 172.5L196.5 171.3L198.3 170.9L200.1 170.4L202.4 169.9L203.8 169.3L206.0 168.7L207.7 168.2L209.9 167.8L211.1 166.9L213.3 165.4L214.8 165.0L216.5 164.5L218.5 163.9L220.9 163.4L221.7 161.5L224.1 161.1L224.8 160.1L227.2 159.5L228.2 159.2L229.7 157.4L230.9 156.8L233.0 154.5L234.5 154.6L235.9 153.0L237.6 152.7L240.1 152.2L241.4 152.5L243.3 151.6L244.7 151.4L246.7 150.9L249.2 150.7L250.6 149.5L253.2 148.7L255.4 148.7L257.9 148.9L259.4 149.5L261.5 150.8L264.0 150.9M246.7 122.7L246.6 124.1L247.2 125.9L247.5 127.7L248.0 130.2L248.0 132.4L247.9 134.5L248.9 135.7L248.5 137.1L248.2 139.4L247.3 141.7L248.0 143.4L247.7 145.8L247.2 147.2L247.6 149.5L246.7 150.9M255.4 148.7L256.0 150.1L255.4 152.2L256.7 154.0L257.1 156.3L256.9 158.1L257.3 159.9L257.5 161.7L257.3 163.8L256.3 164.7L255.3 166.8L255.6 169.8L254.3 171.4L253.2 173.3L253.2 174.7L253.7 176.6L255.6 178.1L256.8 179.0L256.9 180.1L259.1 182.2L259.7 183.4L258.1 185.5L257.4 186.2L257.6 189.2L256.0 190.7L255.4 192.0M264.0 114.0L265.2 115.4L265.7 117.8L266.5 119.7L266.4 120.9L267.0 124.0L268.4 124.8L268.4 127.0L269.0 128.6L269.0 130.8L268.7 132.7L269.6 135.0L269.3 136.2L269.1 139.2L270.1 140.5L270.2 141.9L270.5 144.4L270.8 146.9L271.6 148.1L273.0 150.1L272.6 151.2L273.2 153.1L273.8 155.0L274.9 157.4L274.4 159.3L274.2 161.0L274.2 162.8L274.5 164.7L273.8 166.9L273.5 168.2L273.9 171.4L272.3 172.5L272.7 174.7M168.7 196.4L170.4 195.1L172.8 194.8L174.0 194.4L175.0 193.3L177.3 192.0L178.8 191.1L180.8 191.1L183.5 190.5L184.5 189.0L186.3 188.6L188.5 188.3L190.3 187.7L191.7 186.7L194.6 186.8L195.4 186.4L197.7 185.1L200.1 184.9L201.4 183.8L203.3 183.4L205.2 183.5L207.3 182.1L208.1 182.1L210.3 182.3L212.5 181.1L214.2 181.2L215.9 181.0L217.8 180.1L219.9 179.8L222.1 179.6L223.2 179.8L225.0 179.0L226.7 179.3L228.8 178.5L230.2 177.9L232.5 178.3L233.8 178.0L236.8 176.6L238.0 176.9L240.1 176.2L241.2 177.0L243.4 175.9L245.9 175.9L248.1 176.2L249.3 174.7L251.8 174.5L253.2 174.7M170.8 198.5L169.9 200.5L170.0 202.7L169.9 204.0L170.0 205.5L169.5 207.5L168.7 209.4L169.8 211.8L170.8 213.0L171.7 213.9L172.0 216.8L173.0 218.0L175.2 217.8L176.3 217.5L178.5 217.0L181.1 217.6L182.3 216.8L183.9 217.0L186.0 217.0L187.3 216.1L189.3 216.0L191.8 214.3L192.4 214.9L194.7 213.7L195.7 212.5L198.2 212.0L199.5 211.5L201.9 209.6L203.3 209.4L205.5 208.9L207.1 208.9L209.1 208.9L210.3 207.7L212.2 207.4L214.9 208.0L216.3 207.2L217.6 206.4L219.6 205.6L221.1 204.1L222.5 202.6L223.7 201.5L225.0 200.7L226.7 199.9L228.7 198.8L230.5 198.9L233.0 198.5L233.8 197.5L236.5 196.4L238.0 196.4L240.5 195.3L242.1 195.5L244.4 194.8L245.5 194.0L247.3 193.7L249.7 193.2L251.1 193.5L252.8 193.2L255.4 192.0M225.0 179.0L225.4 181.0L225.5 183.3L226.4 184.8L226.4 186.7L227.1 188.2L227.2 189.9L226.3 191.6L227.1 193.6L225.9 195.5L225.2 196.9L225.8 198.9L225.0 200.7M134.0 219.1L135.5 218.3L138.2 218.0L141.1 217.7L142.7 218.0L144.9 218.4L147.5 218.7L148.9 219.4L151.3 220.2L152.7 218.6L154.7 217.9L156.7 217.0L158.0 216.7L160.0 215.9L162.0 214.2L162.4 214.1L163.7 213.2L165.9 211.2L167.7 210.8L168.7 209.4M142.7 231.0L144.8 229.7L145.1 228.8L147.0 226.7L147.3 228.9L147.1 229.9L148.7 232.6L147.8 233.9L148.7 235.4L149.2 237.5L150.8 238.0L153.0 238.6L155.7 239.7M164.3 220.2L165.8 221.6L166.5 223.4L167.3 225.2L168.0 227.3L168.7 228.9L169.8 228.6L171.9 227.6L174.7 227.2L176.5 226.1L178.0 225.3L179.8 224.7L181.7 224.5L184.4 223.7L186.2 223.5L188.1 223.5L190.3 222.4M123.2 148.7L124.4 146.7L125.3 144.4L127.4 144.8L129.6 144.9L131.4 144.7L134.0 145.5L135.3 146.8L136.4 149.3L137.1 151.5L138.3 153.0L139.3 154.6L140.9 156.3L141.6 157.2L142.7 159.5L143.2 161.1L142.9 163.3L143.6 164.6L144.0 166.4L144.4 168.9L144.8 170.4L145.8 169.8L148.3 168.4L149.2 167.3L151.3 166.0L152.8 165.6L155.5 165.5L157.3 164.4L160.0 163.9L161.8 163.7L163.4 162.0L165.2 161.7L167.2 160.2L168.7 159.5L171.1 159.5L173.3 159.5L174.7 159.1L177.3 159.5M123.2 148.7L122.0 151.0L122.2 152.5L120.9 155.8L121.0 157.4L119.8 158.7L119.1 161.2L117.5 162.9L116.7 163.9L115.3 166.1L114.8 166.6L114.0 168.2L112.3 170.4L110.7 171.9L110.8 172.6L109.7 175.0L108.3 176.0L106.8 177.3L105.8 179.0L105.3 180.9L104.2 183.2L103.6 185.8L103.7 187.7L104.1 189.1L105.3 191.5L106.7 193.4L106.8 195.1L108.0 196.4M125.3 157.4L127.4 158.5L128.2 159.8L129.7 161.7L127.9 163.4L127.5 166.0L125.5 165.0L123.4 164.9L121.0 163.9L122.2 161.6L122.6 160.3L124.1 159.6L125.3 157.4M91.8 111.9L93.7 112.3L95.0 112.4L97.2 111.9M88.5 120.5L87.7 122.0L87.1 124.4L86.1 125.1L84.7 127.2L84.2 129.2L84.0 131.2L82.5 132.9L81.0 134.7L80.9 135.7L79.8 137.9L78.6 139.2L78.3 140.6L75.9 142.6L76.0 143.4L74.7 145.8L73.3 146.5L72.8 148.6L72.7 150.2L72.3 152.4L72.5 154.4L71.0 156.1L71.2 157.4L71.2 159.1L71.8 161.1L72.7 163.3L73.3 166.0L72.7 168.8L72.1 169.8L72.1 172.6L71.2 174.7L72.0 175.8L73.4 177.4L75.7 178.2L76.3 179.6L77.7 181.2L79.6 182.6L80.7 182.4L82.7 183.9L84.5 184.8L86.3 185.5L87.4 187.0L88.7 188.6L90.7 189.9M62.5 179.0L63.9 180.5L65.2 180.9L67.2 182.8L69.0 183.4L71.0 182.8L72.8 181.5L75.5 181.2L77.2 182.7L78.7 184.0L79.8 185.5M53.8 122.7L54.8 124.0L56.6 126.2L56.8 127.5L58.8 129.0L58.6 130.6L60.3 131.4L59.5 134.0L58.8 135.8L58.6 138.1L58.2 140.0L60.0 142.0L61.5 143.5L62.5 144.4L62.1 146.6L61.8 148.9L61.3 150.7L60.3 153.0L62.1 155.2L62.1 156.7L63.7 158.1L64.7 159.5L64.7 161.6L64.2 163.7L63.1 164.4L62.9 166.6L62.3 167.9L62.5 170.4M47.3 150.9L48.2 152.6L49.4 154.8L49.7 156.1L51.0 158.1L51.7 159.5L51.8 162.1L51.1 164.1L49.7 165.7L49.5 168.2L49.7 169.9L50.8 171.4L51.6 172.7L53.3 174.9L53.8 176.9M90.7 198.5L92.8 198.7L95.7 200.2L97.5 200.6L99.3 200.7L99.4 203.2L100.2 204.9L101.5 207.2L99.3 206.1L97.2 205.7L95.0 205.0M105.8 183.4L106.9 185.3L107.7 186.8L108.9 188.0L109.0 190.4L110.2 192.0L109.1 194.4L108.9 196.9L108.2 199.0L108.0 200.7L110.1 201.8L110.6 202.9L112.0 204.7L113.8 207.2L114.9 208.2L116.7 209.4M270.5 144.4L268.8 144.8L266.8 145.5L265.0 145.0L263.5 145.2L262.2 146.5L259.7 146.5L256.9 147.2L255.4 148.7M190.3 222.4L191.5 221.4L194.5 220.3L195.3 220.2L197.8 218.9L199.0 218.0L201.8 218.0L203.4 216.5L205.4 216.4L207.7 215.9L208.6 214.4L211.6 213.8L213.1 213.0L214.6 213.1L216.5 212.2L217.2 210.3L218.9 209.6L220.7 209.4M73.3 146.5L75.1 147.2L77.9 147.6L79.8 148.7L82.0 147.3L82.6 146.5L84.5 145.8L86.3 144.4L86.4 147.2L85.5 148.7L85.3 150.9L84.2 153.0L82.4 154.0L82.1 155.0L80.5 156.8L78.6 157.8L77.7 159.5M64.7 159.5L66.1 159.1L69.1 158.6L71.2 157.4M75.5 170.4L77.5 170.9L78.4 172.6L79.8 173.9L82.0 174.7L80.6 176.4L80.8 179.5L79.8 181.2" fill="none" stroke="#0a0a0a" stroke-width="1.1" stroke-linejoin="round"/></g><g id="medP"><path d="M120.4 339.3L120.2 336.9L121.5 334.8L122.1 332.9L121.3 331.2L122.0 328.6L122.8 327.2L124.0 325.7L125.3 324.8L126.9 323.1L128.4 320.9L130.1 320.0L131.7 319.4L133.5 318.4L134.7 316.9L136.5 316.5L139.2 315.5L140.9 314.2L142.2 313.9L143.7 313.8L146.4 313.6L147.5 312.9L149.5 312.8L151.9 312.4L154.2 312.4L155.7 312.1L157.3 311.6L159.0 311.0L161.5 310.3L164.0 310.3L165.2 310.5L167.7 310.2L169.0 309.8L170.5 309.7L172.8 309.8L174.4 309.4L176.4 309.1L179.6 309.6L180.8 309.1L183.0 308.9L184.1 308.4L186.7 309.8L188.9 308.7L191.2 308.7L191.8 309.1L194.3 308.5L196.9 308.8L198.1 308.4L200.2 309.1L201.4 310.1L204.7 310.0L205.3 309.7L207.4 309.9L210.2 310.8L211.1 310.9L213.6 311.7L215.7 311.5L218.0 311.8L219.5 312.7L221.2 313.6L222.6 313.3L225.6 314.8L226.3 315.4L228.0 316.2L229.7 315.8L231.8 317.1L234.0 317.5L236.1 318.0L237.6 319.0L238.8 320.2L240.1 321.1L241.8 321.1L243.7 322.4M120.4 339.3L120.1 340.9L120.3 342.6L121.7 345.0L121.6 346.9L121.9 348.9L122.4 349.7L122.6 352.0L122.8 353.8L123.9 355.1L125.2 356.8L125.7 358.6L126.6 360.3L128.4 362.7L128.4 364.3L130.1 365.9L131.0 367.3L133.0 368.4L135.0 369.9L136.4 370.4L137.1 372.0L139.2 373.7L141.2 373.9L142.2 375.5L143.8 376.5L145.6 377.5L146.8 377.4L149.7 378.8L151.0 378.5L152.8 379.2L154.7 379.9L155.8 380.9L158.4 381.5L159.9 382.2L161.5 382.8L163.5 382.5L165.2 384.0L167.3 384.3L169.9 383.6L171.5 384.6L172.4 384.6L175.0 385.3L177.5 385.5L179.3 385.9L180.8 386.4L183.4 387.2L184.2 387.1L186.1 386.6L189.1 386.8L189.8 386.3L193.1 387.6L195.0 387.0L196.0 387.6L197.6 387.6L200.2 387.6L201.6 387.1L204.4 387.0L206.6 387.5L208.0 387.3L209.5 387.7L211.1 387.5L213.7 386.9L215.7 386.5L217.1 386.3L219.5 386.4L221.5 385.4L223.5 385.2L224.3 383.6L227.2 383.5L228.0 382.7L230.4 382.2L232.2 381.7L234.0 380.4L234.9 379.7L237.5 377.8L238.3 376.3L240.7 375.8L242.1 373.8L243.7 373.1L244.7 371.9L246.3 370.4L247.8 369.1L250.2 368.7L251.0 366.8L253.3 365.9L254.7 363.9L256.4 362.0L258.2 361.0M115.6 257.1L116.0 259.3L115.5 260.7L115.8 263.8L115.5 265.7L114.9 267.2L115.6 269.2L116.0 270.8L117.3 272.9L118.0 274.6L118.6 275.1L119.6 277.6L120.4 278.9L122.4 279.3L123.5 280.6L125.6 282.5L127.0 282.4L129.6 284.6L131.2 284.5L132.5 286.1L133.8 286.5L136.3 287.2L136.8 288.2L139.4 288.9L141.2 289.9L142.4 290.5L143.5 292.3L146.1 292.2L147.0 293.4L148.6 293.4L150.2 294.4L152.5 295.3L154.0 295.3L156.1 296.2L157.7 297.7L159.8 296.9L161.5 298.2L164.0 299.3L165.0 299.8L166.4 300.2L168.3 300.5L170.8 301.1L172.1 301.1L174.8 300.9L176.0 301.8L177.4 302.1L179.1 301.5L180.8 302.1L183.5 302.4L185.2 301.9L186.3 302.8L188.2 302.2L190.5 303.0L191.7 303.6L194.8 303.6L195.2 303.5L198.0 304.7L199.1 304.5L200.7 304.9L203.5 305.2L205.0 305.5L207.0 305.9L208.5 307.0L210.0 307.3L211.4 308.9L212.7 309.6L214.0 310.2L216.9 311.3L217.9 312.4L219.5 312.7M115.6 269.2L116.6 268.5L118.9 266.4L120.8 265.7L122.5 264.5L123.9 263.6L125.2 262.0L126.8 262.1L129.3 262.8L130.5 264.7L131.9 264.4L133.7 265.0L136.0 265.8L137.3 266.8L138.3 267.7L140.2 268.0L141.5 269.7L143.6 270.2L145.4 271.3L146.4 271.8L149.1 272.1L150.1 273.0L151.8 274.0L153.4 275.3L155.1 275.6L156.6 276.3L158.5 276.9L160.3 276.7L162.4 277.4L164.9 278.3L166.3 278.9L167.3 277.6L169.4 277.6L171.4 276.4L173.2 276.3L175.0 275.5L176.0 274.0L178.5 275.2L180.2 275.3L181.9 275.3L184.2 275.8L185.7 276.5L185.6 278.2L183.8 280.6L183.8 281.2L183.2 283.7L181.8 283.9L179.9 283.2L177.0 282.6L175.6 283.0L173.6 282.5M178.4 252.3L178.3 253.7L178.5 255.8L178.4 258.1L178.7 259.9L179.1 261.8L178.4 264.4L178.8 266.4L181.2 268.3L182.0 269.1L182.1 271.0L183.2 272.6L184.4 274.6L185.7 276.5M200.2 259.5L199.5 261.7L199.0 263.2L198.8 264.6L197.7 266.8L199.9 268.3L200.1 270.0L201.7 271.8L203.8 272.2L205.0 274.0L207.4 274.3L209.1 274.4L209.9 275.8L211.6 275.9L213.1 276.8L215.8 276.9L217.1 277.7L219.3 277.5L221.4 278.0L223.2 276.9L225.1 277.2L227.8 277.3L229.2 276.5L230.1 274.1L232.2 272.4L233.0 270.5L234.0 269.2L232.8 267.7L232.2 265.4L230.3 264.2L229.2 262.0L227.3 260.7L225.1 260.2L223.7 260.0L220.9 259.1L219.5 258.3L217.9 258.9L215.9 258.7L213.7 259.3L211.7 258.5L209.6 258.8L207.8 258.7L205.8 259.7L203.5 258.8L201.7 259.0L200.2 259.5M229.2 276.5L227.3 278.0L227.1 280.6L226.1 282.6L224.3 283.7L225.5 284.4L227.6 285.9L228.7 287.1L230.5 288.0L232.6 288.5L234.0 289.8M234.0 269.2L235.6 270.3L237.7 270.4L238.4 271.9L240.2 272.7L242.5 272.6L243.7 274.0L245.1 274.8L246.6 277.1L248.1 277.5L249.7 278.4L251.2 279.5L253.3 281.3L254.9 283.2L255.5 284.9L257.5 285.8L258.4 287.2L259.1 289.2L260.6 291.0L261.7 293.0L262.8 294.4L264.6 296.2L265.4 298.2M132.5 286.1L133.0 288.1L133.5 289.8L134.6 291.1L136.2 292.2L136.8 294.8L137.3 295.8L138.3 297.2L138.5 299.7L139.5 301.1L140.6 301.8L141.2 303.7L142.2 305.5L143.9 304.3L145.4 303.9L146.6 303.5L148.6 302.7L150.8 301.7L151.8 300.6L154.0 300.4L155.2 300.0L158.2 299.4L159.8 299.1L161.5 298.2M115.6 278.9L113.6 278.6L112.2 279.4L109.7 279.6L107.3 280.8L106.1 280.6L103.5 281.3L101.1 280.5L99.5 280.6L96.8 280.2L95.5 280.7L93.6 280.6L91.4 280.1L89.5 280.8L88.5 282.7L86.6 283.7L87.3 284.9L87.2 287.7L87.9 289.0L89.0 291.0L89.5 293.1L89.7 294.3L89.7 296.7L90.1 298.7L90.6 300.8L90.2 303.0L89.9 305.0L90.0 307.2L90.0 308.8L91.1 310.3L90.6 312.8L91.1 313.9L91.7 316.1L91.1 317.9L91.4 320.0L93.4 321.2L94.8 322.0L95.3 324.1L97.1 324.3L98.7 325.7L100.4 327.8L102.1 328.0L103.5 329.6L104.4 331.7L105.7 332.4L107.2 333.3L108.8 335.1L111.0 336.2L111.8 337.5L113.2 339.3L115.5 339.4L117.0 339.8L118.3 339.3L120.4 339.3M86.6 283.7L84.6 283.7L83.3 283.0L80.7 282.1L79.3 282.5L77.8 283.2L76.4 285.3L75.7 287.1L74.0 287.4L72.8 289.2L71.6 291.0L71.0 292.7L69.7 293.4L69.8 296.0L70.2 297.8L71.4 299.1L71.0 300.7L71.9 303.5L72.1 305.5L73.1 306.4L73.0 309.0L74.2 311.0L75.5 311.5L76.5 313.9L77.0 315.8L78.3 317.1L79.0 318.6L79.3 320.0L81.4 319.8L83.4 319.8L85.1 320.3L87.9 319.5L88.8 320.1L91.4 320.0M79.3 320.0L80.0 322.1L79.9 324.1L81.3 325.6L82.2 327.0L82.8 329.3L82.4 331.1L83.7 333.1L84.2 334.5L85.4 336.3L85.9 338.3L86.1 338.8L87.6 341.2L88.8 342.8L89.0 344.1L87.4 343.9L85.3 342.2L84.8 342.0L82.7 340.9L80.3 339.9L79.3 339.3L77.2 338.3L75.8 337.4L74.6 336.7L71.7 336.5L70.4 335.5L69.3 335.3L67.2 334.5L66.0 335.8L63.5 335.9L61.8 336.2L60.0 337.0L58.6 338.2L57.6 339.1L55.2 339.3L53.1 340.1L52.7 342.3L50.7 342.5L48.5 343.5L48.2 345.7L46.2 346.7L44.4 347.8L43.1 349.0L41.5 351.1L40.8 352.7L38.9 353.8L38.2 356.2M89.0 344.1L90.5 346.0L92.5 345.9L93.9 347.3L94.8 349.4L97.7 350.2L98.7 351.4L100.6 351.9L101.5 353.2L103.2 354.9L105.1 355.5L106.7 356.1L108.8 357.6L110.7 358.6L112.2 359.4L114.3 359.5L116.0 360.1L117.9 361.8L120.0 362.6L121.2 363.4L122.8 363.5L123.5 365.7L123.0 366.9L123.7 370.1L125.0 372.0L124.8 373.1L125.2 375.5L123.3 376.9L121.4 377.5L120.2 377.7L118.0 378.0L116.3 379.4L114.2 379.5L113.2 380.4L112.6 381.7L111.1 384.3L110.7 385.2M43.1 373.1L44.3 372.0L45.9 371.6L48.3 370.8L49.8 370.4L51.3 369.4L53.5 368.9L55.2 368.3L57.4 368.1L59.0 367.2L60.3 366.9L62.7 365.6L63.8 365.2L65.8 364.5L67.7 363.9L69.7 363.5L70.8 363.2L73.9 362.3L75.4 362.8L77.6 361.9L78.9 361.4L80.0 361.8L81.9 360.8L84.2 361.0L86.4 361.5L88.0 361.7L90.1 362.1L91.3 363.0L93.3 362.2L94.8 363.4L97.2 363.2L98.7 363.5L100.5 364.3L101.5 365.0L103.8 366.7L105.6 368.0L106.6 369.1L108.0 369.8L110.3 371.0L110.9 371.5L113.2 373.1L115.6 373.7L116.6 374.5L119.0 374.2L120.6 375.1L123.0 374.6L125.2 375.5M125.2 375.5L127.1 376.6L128.6 378.0L130.6 378.8L132.5 380.4L133.6 381.0L136.5 383.0L137.9 383.2L139.5 385.0L141.5 384.9L143.5 387.0L144.6 387.6L146.5 388.8L147.4 388.5L150.0 389.5L151.7 390.7L153.7 390.7L154.8 392.4L156.7 392.5L158.3 392.8L159.5 394.5L161.4 395.4L163.5 395.9L164.8 398.3L167.2 398.8L168.7 399.7L170.4 400.9L172.3 401.6L173.3 401.6L176.3 402.4L177.9 403.1L179.6 404.1L180.8 404.5L182.1 404.6L183.8 405.7L186.6 406.7L187.8 407.8L188.8 408.4L190.7 409.0L192.9 409.4L195.0 409.8L197.1 410.4L198.3 411.6L200.2 411.8M110.7 385.2L112.0 386.1L113.9 385.5L115.8 385.4L118.1 386.5L120.6 386.7L122.5 386.5L123.4 387.5L126.2 387.3L127.7 387.6L128.9 388.6L131.3 389.6L132.7 390.9L135.0 391.7L136.1 392.2L138.1 393.4L139.7 394.9L141.2 395.0L142.8 396.7L144.5 397.6L146.1 397.9L147.5 398.8L150.6 399.3L151.7 400.0L153.3 400.7L155.0 401.8L156.7 402.1L157.8 403.1L160.7 403.3L162.8 404.6L163.4 404.1L165.2 405.0L167.6 406.2L169.8 405.7L171.2 407.0L173.4 407.3L175.0 408.2L176.2 408.5L178.4 408.8L179.7 409.4L182.4 410.9L183.6 410.5L185.7 411.8L187.9 411.9L188.8 413.3L191.1 413.6L193.4 413.8L194.7 414.5L197.2 415.1L197.7 415.8L200.2 416.6L201.4 416.5L203.4 416.2L205.8 416.0L207.1 416.5L208.6 416.5L211.5 417.0L213.5 416.0L214.7 416.6M214.7 397.3L216.4 399.3L217.4 400.9L218.1 402.8L219.5 404.5L218.6 406.9L218.3 408.6L217.6 410.5L217.1 411.8L218.8 412.4L221.0 414.8L222.7 415.7L224.3 416.6M224.3 382.8L226.6 381.6L227.2 380.8L228.9 380.1L230.5 380.0L232.3 378.9L234.0 378.0L235.9 376.8L236.6 376.8L238.5 375.0L240.5 375.2L242.6 373.3L243.7 373.1M224.3 392.5L225.9 391.9L228.6 392.3L229.4 393.0L230.9 392.8L233.2 392.0L235.0 392.1L237.2 392.9L238.8 392.5L240.7 391.5L242.3 391.5L244.1 391.3L246.0 390.5L248.5 390.0M265.4 298.2L266.9 299.8L267.2 302.1L268.5 303.4L270.2 305.5L271.8 304.9L273.2 302.4L276.1 301.7L277.5 300.6L278.6 301.8L280.1 303.6L282.3 305.5L282.3 307.7L281.8 308.5L280.5 310.3L279.9 312.7L281.5 313.6L283.9 313.7L285.1 315.0L287.2 315.1L285.9 317.3L286.0 319.0L285.9 320.0L284.7 322.4L286.4 322.8L287.8 324.2L289.6 324.1L292.0 324.8L293.8 326.6L295.5 327.8L296.8 329.6L298.2 328.5L300.7 329.1L302.7 328.2L304.1 327.2M272.7 307.9L273.6 309.3L273.5 311.2L274.3 313.3L275.1 315.1L277.2 316.0L279.3 317.4L280.4 318.3L282.3 320.0M96.2 274.0L97.7 274.1L99.6 275.7L101.3 276.2L103.5 276.5L105.2 275.9L107.6 274.9L109.8 275.2L110.9 274.1L113.2 274.0L114.0 272.9L115.4 270.3L115.6 269.2M86.6 283.7L88.4 282.0L89.1 280.3L90.3 279.9L92.0 277.6L92.8 277.4L94.3 275.4L96.2 274.0" fill="none" stroke="#0a0a0a" stroke-width="1.1" stroke-linejoin="round"/></g><radialGradient id="aiG"><stop offset="0" stop-color="#ff2010"/><stop offset="0.3" stop-color="#ff7a10"/><stop offset="0.55" stop-color="#f0e020"/><stop offset="0.8" stop-color="#30d030"/><stop offset="1" stop-color="#30d030" stop-opacity="0"/></radialGradient><radialGradient id="aiG2"><stop offset="0" stop-color="#ff8a20"/><stop offset="0.35" stop-color="#f4c020"/><stop offset="0.6" stop-color="#d8e020"/><stop offset="0.85" stop-color="#30d030"/><stop offset="1" stop-color="#30d030" stop-opacity="0"/></radialGradient><radialGradient id="aiG3"><stop offset="0" stop-color="#ff2010"/><stop offset="0.45" stop-color="#ff7a10"/><stop offset="0.75" stop-color="#f0e020"/><stop offset="1" stop-color="#a0e020" stop-opacity="0"/></radialGradient><radialGradient id="aiG4"><stop offset="0" stop-color="#ff8a20"/><stop offset="0.45" stop-color="#f8b020"/><stop offset="0.75" stop-color="#e8e020"/><stop offset="1" stop-color="#90e020" stop-opacity="0"/></radialGradient><linearGradient id="cbar" x1="0" x2="1" y1="0" y2="0"><stop offset="0" stop-color="#8080c4"/><stop offset="0.14" stop-color="#8585c2"/><stop offset="0.27" stop-color="#3cc43c"/><stop offset="0.42" stop-color="#22d81e"/><stop offset="0.52" stop-color="#8ee810"/><stop offset="0.6" stop-color="#f8f800"/><stop offset="0.8" stop-color="#ff9a00"/><stop offset="1" stop-color="#ff2a10"/></linearGradient></defs>
<g transform="translate(0 747.3)"><use href="#lat"/><path d="M183.7 64.0C180.8 64.6 178.5 68.3 174.9 68.7C171.4 69.0 166.6 66.5 162.4 66.3C158.2 66.1 153.2 67.1 149.9 67.5C146.5 67.8 145.7 68.0 142.4 68.4C139.1 68.8 134.3 68.8 130.1 69.7C126.0 70.6 121.8 72.1 117.6 73.7C113.4 75.3 109.2 77.2 105.1 79.3C100.9 81.5 96.7 84.0 92.5 86.8C88.4 89.6 84.2 92.7 80.0 96.1C75.8 99.6 71.2 103.6 67.5 107.6C63.7 111.6 60.7 115.1 57.6 119.9C54.5 124.6 51.1 130.3 48.8 136.1C46.5 142.0 44.7 150.7 43.7 155.1C42.8 159.5 43.0 159.2 43.1 162.5C43.2 165.9 43.4 170.9 44.4 175.1C45.4 179.2 46.8 183.6 48.8 187.6C50.8 191.6 53.2 195.7 56.3 198.8C59.4 201.9 63.5 204.4 67.5 206.3C71.4 208.1 75.8 209.1 80.0 210.0C84.2 210.9 88.4 211.4 92.5 211.9C96.7 212.3 100.9 212.3 105.1 212.5C109.2 212.7 113.9 213.0 117.6 213.1C121.3 213.2 125.0 212.8 127.5 213.1C130.0 213.4 131.5 214.1 132.5 215.1C133.6 216.0 134.4 217.2 133.8 218.8C133.1 220.4 130.2 222.8 128.8 224.9C127.4 227.0 125.6 229.2 125.6 231.3C125.6 233.4 127.0 235.7 128.8 237.5C130.6 239.2 132.8 241.1 136.3 242.0C139.8 242.9 145.5 243.2 149.9 242.7C154.2 242.1 158.2 240.3 162.4 238.8C166.6 237.3 170.8 235.6 174.9 233.7C179.1 231.9 183.3 229.8 187.5 227.6C191.6 225.4 195.8 222.6 200.0 220.7C204.2 218.8 208.4 217.4 212.5 216.1C216.7 214.9 220.9 214.2 225.1 213.2C229.2 212.2 233.4 211.2 237.6 210.0C241.8 208.8 245.9 207.5 250.0 206.3C254.1 205.0 258.6 203.8 262.4 202.5C266.2 201.3 270.0 200.3 272.5 198.8C275.0 197.3 276.3 195.6 277.5 193.7C278.6 191.8 279.0 190.6 279.4 187.5C279.8 184.4 280.0 180.5 280.0 175.1C280.0 169.7 279.6 159.6 279.4 155.1C279.2 150.5 279.2 151.2 278.7 147.6C278.1 144.0 277.5 138.1 276.3 133.7C275.0 129.3 273.1 124.9 271.2 121.2C269.3 117.5 267.4 114.0 265.1 111.3C262.8 108.6 260.8 106.3 257.5 104.9C254.2 103.6 248.0 104.1 245.1 103.1C242.2 102.0 241.7 101.0 240.0 98.8C238.3 96.6 236.6 92.9 234.9 90.0C233.3 87.1 232.1 83.6 230.0 81.2C227.9 78.8 225.3 77.0 222.4 75.6C219.5 74.2 215.9 73.5 212.5 72.5C209.2 71.5 205.7 70.7 202.4 69.4C199.1 68.1 195.6 65.8 192.5 64.9C189.4 64.0 186.7 63.4 183.7 64.0Z" fill="#000" opacity="0.1"/><g clip-path="url(#latC)"><g transform="translate(0 -747.3)"><path d="M86.7 851.5L88.8 853.5L91.2 854.5L91.9 856.6L92.7 859.0L94.5 860.4L97.2 861.2L95.7 864.9L93.2 867.3L91.2 868.7L89.7 869.4L87.5 871.9L86.7 874.6L87.6 878.1L88.2 879.9L85.2 882.8L82.2 881.3L80.6 883.2L77.8 885.8L77.0 888.5L75.2 890.4L74.8 891.8L76.1 895.6L76.3 897.8L74.6 900.4L74.0 902.2L74.3 906.0L74.8 908.2L73.8 909.6L71.8 912.7L70.3 913.8L66.9 914.5L65.1 914.2L63.3 917.6L62.8 919.4L61.5 921.2L59.9 924.6L59.3 927.3L57.6 930.6L53.9 931.3L51.6 928.9L50.9 927.6L47.9 924.6L46.5 922.1L46.3 920.4L46.0 917.2L46.0 914.0L45.4 912.6L46.4 909.7L46.7 908.0L48.9 904.8L49.4 902.2L50.5 899.9L52.1 897.9L52.4 896.3L52.5 893.9L54.5 892.1L54.6 888.8L54.8 886.1L55.4 884.3L57.3 881.6L59.5 879.8L61.3 878.4L62.2 876.9L64.6 874.6L65.1 872.4L66.0 871.3L67.9 868.8L68.8 867.4L70.3 864.9L72.0 862.3L74.0 860.6L76.3 859.0L77.7 856.8L80.6 855.5L82.2 854.5L85.1 853.3Z" fill="#8282c2" opacity="0.72"/><path d="M62.8 879.9L64.4 876.9L65.1 873.9L66.9 872.4L68.2 870.4L70.3 869.4L72.7 867.9L75.5 866.3L77.8 864.9L80.2 863.5L81.9 862.5L83.7 861.9L86.4 861.2L89.7 861.2L88.7 863.2L86.7 864.9L84.8 866.5L83.2 867.3L80.7 868.7L79.1 869.4L77.0 871.0L74.8 871.6L73.2 873.7L71.8 875.4L71.6 877.2L71.0 879.9L68.8 882.1L65.1 881.3Z" fill="#3ad040" opacity="0.95"/><path d="M56.1 890.3L59.9 888.8L61.2 890.8L63.6 891.8L65.8 894.0L69.6 892.5L70.3 890.3L70.7 894.0L67.3 896.3L64.8 896.8L62.8 896.3L59.9 897.8L56.9 900.0L55.4 897.8L56.1 895.0L55.9 892.7Z" fill="#3ae040" opacity="0.95"/><path d="M102.7 936.0L104.5 935.3L108.0 934.9L109.4 934.7L112.0 934.0L114.7 933.3L116.6 934.7L118.6 935.0L122.4 935.7L124.0 937.3L125.3 938.6L126.8 941.0L128.5 942.7L129.7 946.0L129.1 948.4L129.9 950.7L128.3 952.5L126.5 955.4L125.3 958.1L122.5 959.3L120.5 958.2L117.3 959.2L114.8 958.0L111.6 958.0L109.3 956.5L107.4 954.8L107.6 951.5L105.4 950.6L104.5 948.0L103.4 945.4L103.4 943.8L103.9 941.2L102.7 937.8Z" fill="#8282c2" opacity="0.75"/><path d="M111.5 945.9L113.0 944.4L115.5 942.6L117.3 941.3L119.9 940.3L123.2 938.7L126.0 939.8L128.5 941.6L129.3 944.4L130.2 947.1L130.7 949.3L129.9 951.6L128.6 953.4L126.7 955.5L123.3 956.5L120.5 956.5L118.7 953.8L117.3 952.0L113.3 950.7L112.0 948.3Z" fill="#30d030" opacity="1"/><circle cx="122.1" cy="946.7" r="5.5" fill="url(#aiG3)"/></g><use href="#latP"/></g></g>
<g transform="translate(293.3 747.3)"><use href="#lat"/><path d="M183.7 64.0C180.8 64.6 178.5 68.3 174.9 68.7C171.4 69.0 166.6 66.5 162.4 66.3C158.2 66.1 153.2 67.1 149.9 67.5C146.5 67.8 145.7 68.0 142.4 68.4C139.1 68.8 134.3 68.8 130.1 69.7C126.0 70.6 121.8 72.1 117.6 73.7C113.4 75.3 109.2 77.2 105.1 79.3C100.9 81.5 96.7 84.0 92.5 86.8C88.4 89.6 84.2 92.7 80.0 96.1C75.8 99.6 71.2 103.6 67.5 107.6C63.7 111.6 60.7 115.1 57.6 119.9C54.5 124.6 51.1 130.3 48.8 136.1C46.5 142.0 44.7 150.7 43.7 155.1C42.8 159.5 43.0 159.2 43.1 162.5C43.2 165.9 43.4 170.9 44.4 175.1C45.4 179.2 46.8 183.6 48.8 187.6C50.8 191.6 53.2 195.7 56.3 198.8C59.4 201.9 63.5 204.4 67.5 206.3C71.4 208.1 75.8 209.1 80.0 210.0C84.2 210.9 88.4 211.4 92.5 211.9C96.7 212.3 100.9 212.3 105.1 212.5C109.2 212.7 113.9 213.0 117.6 213.1C121.3 213.2 125.0 212.8 127.5 213.1C130.0 213.4 131.5 214.1 132.5 215.1C133.6 216.0 134.4 217.2 133.8 218.8C133.1 220.4 130.2 222.8 128.8 224.9C127.4 227.0 125.6 229.2 125.6 231.3C125.6 233.4 127.0 235.7 128.8 237.5C130.6 239.2 132.8 241.1 136.3 242.0C139.8 242.9 145.5 243.2 149.9 242.7C154.2 242.1 158.2 240.3 162.4 238.8C166.6 237.3 170.8 235.6 174.9 233.7C179.1 231.9 183.3 229.8 187.5 227.6C191.6 225.4 195.8 222.6 200.0 220.7C204.2 218.8 208.4 217.4 212.5 216.1C216.7 214.9 220.9 214.2 225.1 213.2C229.2 212.2 233.4 211.2 237.6 210.0C241.8 208.8 245.9 207.5 250.0 206.3C254.1 205.0 258.6 203.8 262.4 202.5C266.2 201.3 270.0 200.3 272.5 198.8C275.0 197.3 276.3 195.6 277.5 193.7C278.6 191.8 279.0 190.6 279.4 187.5C279.8 184.4 280.0 180.5 280.0 175.1C280.0 169.7 279.6 159.6 279.4 155.1C279.2 150.5 279.2 151.2 278.7 147.6C278.1 144.0 277.5 138.1 276.3 133.7C275.0 129.3 273.1 124.9 271.2 121.2C269.3 117.5 267.4 114.0 265.1 111.3C262.8 108.6 260.8 106.3 257.5 104.9C254.2 103.6 248.0 104.1 245.1 103.1C242.2 102.0 241.7 101.0 240.0 98.8C238.3 96.6 236.6 92.9 234.9 90.0C233.3 87.1 232.1 83.6 230.0 81.2C227.9 78.8 225.3 77.0 222.4 75.6C219.5 74.2 215.9 73.5 212.5 72.5C209.2 71.5 205.7 70.7 202.4 69.4C199.1 68.1 195.6 65.8 192.5 64.9C189.4 64.0 186.7 63.4 183.7 64.0Z" fill="#000" opacity="0.1"/><g clip-path="url(#latC)"><g transform="translate(-293.3 -747.3)"><path d="M345.6 918.6L345.2 920.3L343.0 922.7L342.9 924.9L342.8 927.4L341.1 931.2L340.7 934.3L340.2 937.4L343.8 938.3L345.1 935.7L347.3 933.8L348.8 931.6L350.9 928.5L352.9 926.2L354.5 923.1L357.1 920.5L359.0 918.6L361.7 917.0L363.3 914.6L365.2 913.3L366.2 912.2L368.4 910.5L368.8 907.2L370.6 906.1L371.6 904.8L371.5 901.7L371.4 898.7L371.5 897.2L369.8 895.3L368.3 892.3L367.9 890.0L369.5 887.9L369.4 884.5L371.5 882.9L373.4 880.6L375.4 879.3L377.0 877.1L378.6 875.7L379.7 874.7L382.2 872.9L382.6 870.0L384.9 869.1L385.8 866.8L387.1 865.1L387.5 862.1L389.3 859.7L386.1 858.0L384.0 856.1L381.0 856.2L379.7 857.0L378.2 857.7L375.0 857.9L373.1 859.4L371.5 860.7L369.0 860.8L366.7 862.3L364.3 863.2L363.2 865.0L360.2 867.3L359.0 869.5L357.2 871.4L355.0 873.6L353.6 875.7L352.5 878.2L351.7 879.4L352.5 882.9L350.9 884.7L349.9 887.4L349.4 888.5L347.7 891.3L347.3 893.6L346.3 895.6L344.9 897.7L343.4 900.6L342.9 902.6L341.9 904.6L341.7 907.5L342.2 908.5L342.0 911.5L343.3 914.4L345.0 917.0Z" fill="#8282c2" opacity="0.72"/><path d="M353.6 942.8L356.1 943.8L358.2 944.0L360.7 943.7L362.6 944.0L365.3 944.7L367.9 946.3L368.8 949.9L365.6 950.2L362.5 950.8L360.3 950.3L357.2 948.0L355.4 947.2L354.5 945.2Z" fill="#8282c2" opacity="0.5" filter="url(#b1)"/><path d="M401.3 828.0L403.6 827.1L405.1 825.5L408.2 824.5L410.1 823.7L412.0 822.7L413.8 825.5L414.7 828.0L412.5 828.7L410.5 830.4L409.2 831.3L406.7 832.0L404.6 830.9L402.9 829.6Z" fill="#8282c2" opacity="0.5"/><path d="M382.2 860.6L380.0 862.7L378.6 865.9L376.1 867.6L374.7 868.5L373.3 870.4L371.8 872.1L370.5 873.5L368.8 875.7L366.5 877.6L365.2 880.2L363.2 882.1L362.5 884.7L362.0 886.5L362.1 889.2L363.0 891.8L364.3 893.6L365.7 895.9L367.0 898.1L366.6 900.1L367.0 902.6L366.0 905.9L365.2 907.9L363.6 909.7L361.6 912.4L359.2 913.6L358.1 915.1L356.0 915.6L353.6 916.0L350.0 917.7L349.3 916.0L347.3 914.2L346.0 910.5L346.0 907.9L346.2 905.5L346.4 902.6L347.8 899.3L349.1 897.2L350.3 894.3L352.7 891.8L354.2 889.0L355.4 886.5L356.1 883.9L357.2 881.1L358.1 878.1L358.1 875.7L358.8 872.7L360.7 870.4L362.6 867.9L365.2 866.8L367.2 865.3L369.2 863.7L371.5 863.2L373.5 862.7L376.8 861.0L379.7 860.4Z" fill="#2fd836" opacity="0.97"/><ellipse cx="368.8" cy="869.5" rx="5.2" ry="2.4" fill="#e8cc28" opacity="0.85" filter="url(#b1)" transform="rotate(-32 368.8 869.5)"/><ellipse cx="359.4" cy="901.7" rx="5" ry="4" fill="#b8c830" opacity="0.7" filter="url(#b15)"/><path d="M398.3 932.9L400.5 933.1L402.2 933.7L405.4 933.8L407.0 933.8L409.7 935.3L412.6 935.6L414.2 936.0L416.6 937.5L419.7 939.2L420.9 942.0L421.4 943.6L423.3 945.5L423.5 947.6L422.5 949.4L422.4 952.6L420.8 954.6L419.9 955.4L417.9 958.0L416.2 957.5L412.5 956.3L410.8 956.2L408.1 954.0L406.6 951.9L405.4 950.8L404.2 948.2L402.2 948.1L401.0 945.5L400.7 943.0L398.3 941.8L398.3 939.2L398.8 936.2Z" fill="#8282c2" opacity="0.72"/><path d="M399.2 940.1L401.6 941.2L405.4 941.0L407.4 939.8L410.8 939.2L413.9 939.9L416.2 939.6L418.0 941.2L420.6 942.8L420.8 945.0L422.4 947.2L421.5 950.5L420.6 952.6L419.5 954.0L417.9 956.2L416.2 955.7L413.5 956.2L411.4 955.4L409.9 953.5L408.2 951.5L406.3 949.0L404.8 947.2L402.7 945.5L400.9 943.0Z" fill="#2fd836" opacity="1"/><circle cx="415.1" cy="947.2" r="7" fill="url(#aiG4)"/></g><use href="#latP"/></g></g>
<g transform="translate(-1.2 747.2)"><use href="#med"/><path d="M130.0 248.0C133.3 247.1 135.2 247.0 137.5 247.0C139.8 247.0 142.0 247.2 143.8 248.0C145.5 248.8 145.9 251.3 147.8 251.8C149.6 252.2 151.7 251.1 155.0 250.8C158.3 250.4 163.3 249.5 167.5 249.5C171.7 249.5 174.6 249.8 180.0 250.5C185.4 251.2 193.3 252.4 200.0 254.0C206.7 255.6 213.3 257.5 220.0 260.0C226.7 262.5 233.8 265.6 240.0 268.8C246.2 271.9 252.1 275.2 257.5 278.8C262.9 282.3 267.9 286.0 272.5 290.0C277.1 294.0 281.2 298.1 285.0 302.5C288.8 306.9 292.1 311.5 295.0 316.2C297.9 321.0 300.6 326.5 302.5 331.2C304.4 336.0 305.5 340.6 306.2 345.0C307.0 349.4 307.2 353.3 306.8 357.5C306.3 361.7 305.3 366.2 303.8 370.0C302.2 373.8 300.2 377.1 297.5 380.0C294.8 382.9 291.7 385.5 287.5 387.5C283.3 389.5 277.9 390.8 272.5 392.0C267.1 393.2 260.8 393.9 255.0 394.5C249.2 395.1 242.4 395.1 237.5 395.5C232.6 395.9 227.9 396.2 225.5 397.0C223.1 397.8 222.9 399.0 223.0 400.5C223.1 402.0 225.4 404.0 226.2 406.2C227.1 408.5 228.2 411.4 228.0 413.8C227.8 416.1 226.8 418.6 225.0 420.5C223.2 422.4 220.8 424.0 217.5 425.0C214.2 426.0 209.2 426.5 205.0 426.2C200.8 426.0 196.7 425.4 192.5 423.8C188.3 422.1 184.6 419.0 180.0 416.2C175.4 413.5 170.0 409.7 165.0 407.0C160.0 404.3 155.4 401.9 150.0 400.0C144.6 398.1 138.3 396.8 132.5 395.5C126.7 394.2 121.2 393.5 115.0 392.5C108.8 391.5 101.7 390.5 95.0 389.5C88.3 388.5 81.2 387.4 75.0 386.2C68.8 385.1 62.5 384.0 57.5 382.5C52.5 381.0 48.1 379.5 45.0 377.0C41.9 374.5 40.1 371.2 38.8 367.5C37.4 363.8 37.0 359.6 37.0 355.0C37.0 350.4 37.2 345.5 38.8 340.0C40.2 334.5 43.3 327.4 46.0 322.0C48.7 316.6 51.4 312.6 55.0 307.5C58.6 302.4 63.3 296.2 67.5 291.2C71.7 286.2 75.8 282.0 80.0 277.5C84.2 273.0 88.3 267.4 92.5 264.0C96.7 260.6 100.8 258.9 105.0 257.0C109.2 255.1 113.3 254.0 117.5 252.5C121.7 251.0 126.7 248.9 130.0 248.0Z" fill="#000" opacity="0.0"/><g clip-path="url(#medC)"><g transform="translate(1.2 -747.2)"><path d="M230.7 1034.7L232.6 1035.1L235.4 1036.8L238.5 1038.9L240.0 1039.2L242.9 1040.3L244.8 1042.0L246.3 1042.4L249.0 1044.8L250.7 1045.3L253.7 1047.1L255.9 1046.5L257.5 1049.2L259.5 1050.3L261.3 1051.3L264.0 1051.5L265.9 1054.2L267.7 1054.9L268.2 1057.5L271.0 1059.5L271.2 1061.6L273.3 1062.7L273.9 1065.0L275.6 1067.7L275.1 1069.1L276.5 1071.5L277.5 1074.8L278.4 1076.3L278.7 1078.7L279.6 1079.8L280.7 1083.0L282.5 1083.2L284.9 1085.2L285.8 1086.7L286.7 1089.3L288.1 1091.2L291.8 1092.8L293.3 1094.7L294.0 1098.4L293.4 1101.1L293.3 1103.2L292.0 1105.1L290.8 1107.4L289.0 1109.7L288.0 1112.0L286.6 1112.2L283.7 1112.9L281.9 1114.7L279.6 1115.3L277.3 1116.0L274.4 1116.2L272.6 1116.5L271.0 1117.0L269.1 1116.6L266.9 1115.9L264.0 1116.5L260.6 1117.0L259.3 1116.6L255.7 1117.3L253.3 1117.3L250.2 1116.7L248.7 1115.5L246.7 1113.3L248.0 1111.1L249.6 1109.5L252.0 1108.1L253.3 1105.3L255.5 1104.5L256.4 1102.5L259.6 1100.3L261.3 1099.8L262.7 1097.3L261.6 1095.2L259.7 1093.7L258.5 1091.6L257.7 1089.6L256.0 1086.7L255.2 1084.5L252.7 1082.7L251.3 1080.7L249.8 1080.0L248.7 1078.0L248.0 1076.0L245.8 1074.8L244.9 1071.4L243.2 1069.8L241.3 1068.0L238.9 1067.6L236.5 1066.1L234.7 1065.3L234.7 1062.7L234.7 1060.1L236.0 1057.3L235.5 1054.1L235.0 1051.8L234.7 1049.1L233.3 1046.7L232.7 1044.0L232.0 1042.2L231.5 1040.1L230.7 1037.3Z" fill="#8282c2" opacity="0.75"/><path d="M234.7 1040.0L237.7 1041.5L239.9 1041.9L242.7 1043.5L244.6 1044.9L246.6 1045.0L249.1 1046.5L250.9 1046.8L253.3 1048.0L255.2 1049.4L257.5 1050.5L259.7 1051.3L262.2 1052.7L264.0 1053.3L265.3 1055.5L266.5 1057.3L268.3 1059.2L269.6 1061.1L270.7 1062.7L271.8 1065.4L272.2 1067.1L272.5 1070.1L273.9 1071.8L274.1 1074.7L274.3 1077.3L274.8 1079.5L275.6 1081.9L275.4 1084.4L276.0 1086.7L275.1 1089.1L275.6 1092.2L274.7 1094.7L277.2 1095.7L279.4 1097.0L281.3 1098.7L283.2 1099.8L285.3 1100.4L288.2 1100.8L290.1 1101.3L288.9 1103.2L288.7 1105.6L288.0 1108.3L286.7 1110.1L283.9 1110.9L281.5 1111.2L278.7 1112.3L276.0 1112.8L273.7 1112.5L271.6 1113.2L268.9 1112.5L266.7 1112.9L264.0 1112.8L261.5 1112.0L258.6 1111.8L256.5 1111.2L257.9 1108.9L260.1 1106.8L261.6 1105.4L262.7 1103.2L264.4 1101.7L265.8 1099.8L266.7 1097.3L265.5 1095.5L263.2 1093.7L261.4 1091.2L260.0 1089.3L258.8 1087.3L257.0 1085.6L256.4 1084.4L255.1 1082.4L253.2 1080.3L252.0 1078.7L251.0 1076.7L249.7 1075.1L248.0 1073.4L246.3 1070.8L245.3 1069.3L244.5 1066.6L243.2 1065.0L241.8 1062.1L240.0 1060.0L238.9 1056.9L238.3 1054.7L238.3 1052.1L237.3 1049.3L236.7 1046.9L235.6 1044.6L235.7 1042.0Z" fill="#30d838" opacity="1"/><path d="M238.7 1043.5L241.0 1044.5L242.5 1044.8L245.0 1045.9L247.4 1047.0L249.0 1047.6L251.2 1047.7L253.3 1048.8L255.0 1049.7L257.8 1050.7L259.6 1052.1L261.5 1053.0L264.0 1054.7L264.8 1056.6L266.4 1058.1L267.8 1060.8L269.2 1061.7L269.9 1064.0L270.3 1066.0L271.4 1068.8L271.5 1071.1L272.3 1073.5L273.1 1076.0L273.0 1078.9L273.8 1080.5L273.7 1083.6L274.7 1085.3L274.7 1088.0L273.7 1089.8L273.5 1092.4L271.9 1095.1L271.5 1097.3L269.1 1097.4L266.7 1097.3L265.3 1095.3L264.7 1093.5L263.3 1092.0L261.7 1089.6L260.8 1088.0L258.9 1085.7L258.0 1084.2L256.5 1081.3L254.7 1079.3L253.3 1077.3L251.9 1075.6L250.2 1073.2L249.3 1071.4L248.4 1069.5L246.7 1068.0L245.7 1065.4L244.6 1064.0L244.4 1062.1L243.3 1059.9L242.1 1057.3L241.7 1055.1L241.3 1052.5L240.4 1050.1L239.7 1047.6L239.7 1046.1Z" fill="#f4e820" opacity="1" filter="url(#b1)"/><path d="M242.7 1046.7L245.2 1047.5L247.9 1047.9L249.9 1048.9L251.8 1049.0L254.7 1049.9L256.2 1050.9L258.3 1052.5L260.2 1053.9L262.2 1055.1L264.0 1056.0L265.7 1058.3L266.3 1060.4L268.2 1063.3L269.3 1065.3L270.0 1067.3L269.9 1070.6L271.0 1072.8L271.8 1075.2L272.0 1077.3L272.6 1079.1L272.8 1081.8L272.5 1084.0L273.0 1086.2L273.6 1088.8L272.6 1091.1L271.6 1093.8L269.9 1096.3L266.7 1095.2L265.0 1092.8L264.4 1091.4L262.9 1088.9L261.3 1086.7L260.1 1084.3L258.5 1082.9L257.1 1080.2L255.6 1078.1L254.7 1076.5L253.1 1074.9L252.0 1072.7L250.6 1071.0L249.3 1069.0L248.5 1066.7L247.8 1065.0L247.2 1062.7L246.0 1059.9L245.6 1058.4L244.8 1056.0L244.5 1053.3L243.3 1051.3L243.5 1049.1Z" fill="#ff9018" opacity="1" filter="url(#b1)"/><path d="M249.3 1049.9L251.6 1050.2L253.4 1051.6L256.1 1051.5L258.1 1052.5L260.4 1053.8L261.9 1056.1L263.2 1057.2L265.3 1058.7L266.7 1061.4L267.0 1063.3L268.3 1065.4L269.3 1068.0L269.3 1070.2L269.9 1072.3L270.5 1074.6L271.5 1076.9L271.5 1079.2L271.3 1081.5L272.4 1084.4L272.4 1086.6L272.5 1089.3L271.1 1091.2L269.8 1093.6L268.8 1095.2L266.9 1093.5L264.5 1092.0L263.4 1089.8L262.5 1087.8L260.9 1085.8L260.0 1084.0L258.8 1081.5L258.0 1080.2L256.9 1077.9L256.1 1075.5L255.5 1073.9L254.3 1071.2L254.2 1070.1L252.5 1067.5L252.4 1065.2L251.2 1063.2L250.6 1061.5L251.0 1059.0L250.0 1056.6L250.2 1054.7L249.2 1052.2Z" fill="#ff2a1a" opacity="1" filter="url(#b1)"/><path d="M234.7 1040.0L236.6 1040.5L238.7 1042.0L240.3 1042.4L242.7 1043.5L244.6 1044.6L247.4 1045.0L248.7 1046.7L251.5 1046.9L253.3 1048.0L255.5 1048.6L257.1 1050.1L259.4 1051.0L261.8 1052.1L264.0 1053.3L265.0 1055.1L266.8 1056.7L268.0 1058.6L268.9 1061.2L270.7 1062.7L271.5 1064.2L271.5 1066.3L272.4 1068.3L273.0 1071.0L274.0 1073.0L274.1 1074.7L274.3 1076.2L274.4 1078.6L275.5 1081.1L275.8 1083.0L275.6 1085.1L276.0 1086.7L276.0 1088.2L275.5 1090.7L275.3 1092.6L274.7 1094.7L272.3 1095.0L270.6 1095.9L268.5 1096.6L266.7 1097.3L265.8 1095.8L264.4 1093.9L262.5 1092.3L261.6 1090.8L260.0 1089.3L258.2 1088.0L257.3 1085.3L256.0 1083.6L254.4 1082.1L253.1 1080.5L252.0 1078.7L251.1 1076.5L248.9 1074.6L248.1 1072.6L246.3 1071.1L245.3 1069.3L244.4 1067.4L243.7 1065.8L242.1 1063.8L241.0 1061.9L240.0 1060.0L239.0 1057.5L239.0 1055.3L238.2 1054.1L237.6 1051.1L237.3 1049.3L236.4 1047.1L236.1 1044.5L235.2 1042.1Z" fill="none" stroke="#111" stroke-width="0.8"/></g><use href="#medP"/></g></g>
<g transform="translate(291 747.2)"><use href="#med"/><path d="M130.0 248.0C133.3 247.1 135.2 247.0 137.5 247.0C139.8 247.0 142.0 247.2 143.8 248.0C145.5 248.8 145.9 251.3 147.8 251.8C149.6 252.2 151.7 251.1 155.0 250.8C158.3 250.4 163.3 249.5 167.5 249.5C171.7 249.5 174.6 249.8 180.0 250.5C185.4 251.2 193.3 252.4 200.0 254.0C206.7 255.6 213.3 257.5 220.0 260.0C226.7 262.5 233.8 265.6 240.0 268.8C246.2 271.9 252.1 275.2 257.5 278.8C262.9 282.3 267.9 286.0 272.5 290.0C277.1 294.0 281.2 298.1 285.0 302.5C288.8 306.9 292.1 311.5 295.0 316.2C297.9 321.0 300.6 326.5 302.5 331.2C304.4 336.0 305.5 340.6 306.2 345.0C307.0 349.4 307.2 353.3 306.8 357.5C306.3 361.7 305.3 366.2 303.8 370.0C302.2 373.8 300.2 377.1 297.5 380.0C294.8 382.9 291.7 385.5 287.5 387.5C283.3 389.5 277.9 390.8 272.5 392.0C267.1 393.2 260.8 393.9 255.0 394.5C249.2 395.1 242.4 395.1 237.5 395.5C232.6 395.9 227.9 396.2 225.5 397.0C223.1 397.8 222.9 399.0 223.0 400.5C223.1 402.0 225.4 404.0 226.2 406.2C227.1 408.5 228.2 411.4 228.0 413.8C227.8 416.1 226.8 418.6 225.0 420.5C223.2 422.4 220.8 424.0 217.5 425.0C214.2 426.0 209.2 426.5 205.0 426.2C200.8 426.0 196.7 425.4 192.5 423.8C188.3 422.1 184.6 419.0 180.0 416.2C175.4 413.5 170.0 409.7 165.0 407.0C160.0 404.3 155.4 401.9 150.0 400.0C144.6 398.1 138.3 396.8 132.5 395.5C126.7 394.2 121.2 393.5 115.0 392.5C108.8 391.5 101.7 390.5 95.0 389.5C88.3 388.5 81.2 387.4 75.0 386.2C68.8 385.1 62.5 384.0 57.5 382.5C52.5 381.0 48.1 379.5 45.0 377.0C41.9 374.5 40.1 371.2 38.8 367.5C37.4 363.8 37.0 359.6 37.0 355.0C37.0 350.4 37.2 345.5 38.8 340.0C40.2 334.5 43.3 327.4 46.0 322.0C48.7 316.6 51.4 312.6 55.0 307.5C58.6 302.4 63.3 296.2 67.5 291.2C71.7 286.2 75.8 282.0 80.0 277.5C84.2 273.0 88.3 267.4 92.5 264.0C96.7 260.6 100.8 258.9 105.0 257.0C109.2 255.1 113.3 254.0 117.5 252.5C121.7 251.0 126.7 248.9 130.0 248.0Z" fill="#000" opacity="0.0"/><g clip-path="url(#medC)"><g transform="translate(-291 -747.2)"><path d="M524.0 1033.3L527.2 1033.9L529.9 1034.1L532.0 1034.7L533.8 1036.1L536.5 1037.8L539.2 1039.1L541.3 1040.0L543.0 1040.6L546.0 1041.8L548.2 1042.6L550.0 1043.7L552.0 1045.3L553.6 1046.9L556.6 1047.8L558.1 1048.6L561.0 1049.6L562.7 1050.7L564.5 1053.1L565.4 1054.0L566.8 1056.7L567.8 1058.7L569.3 1060.0L570.5 1061.8L570.8 1064.9L571.9 1067.5L572.6 1069.7L573.3 1072.0L573.8 1074.7L575.3 1077.4L575.6 1078.6L576.4 1081.5L577.3 1084.0L578.7 1086.6L581.2 1089.0L582.7 1090.7L584.9 1092.3L586.6 1092.8L589.3 1094.7L590.1 1097.5L589.5 1100.5L590.1 1102.7L588.3 1104.4L587.6 1107.1L585.6 1109.0L584.0 1110.7L581.3 1111.8L579.3 1112.3L577.0 1114.0L574.7 1114.7L571.5 1114.9L569.4 1114.8L567.0 1114.5L564.0 1114.7L561.5 1114.3L558.5 1112.3L556.0 1112.0L553.7 1112.2L551.7 1112.0L549.3 1111.2L550.7 1109.7L552.6 1107.5L554.7 1105.3L556.6 1103.8L558.3 1102.1L560.0 1100.0L558.1 1097.4L556.4 1095.9L555.4 1094.0L553.3 1092.0L552.5 1090.5L551.2 1088.1L549.3 1085.8L547.9 1084.0L546.7 1081.3L545.1 1078.8L544.7 1076.7L542.9 1075.5L542.3 1072.9L541.3 1070.7L541.0 1068.7L539.6 1066.3L539.5 1063.9L538.3 1061.8L537.3 1060.0L535.7 1057.4L535.5 1055.4L534.2 1053.1L533.4 1050.1L532.0 1048.0L530.5 1046.4L528.8 1044.5L527.8 1041.5L526.7 1040.0L525.9 1037.7L524.6 1035.4Z" fill="#8282c2" stroke="#8282c2" stroke-width="5.5" stroke-linejoin="round" opacity="0.78"/><path d="M524.0 1033.3L527.0 1033.6L529.0 1034.6L532.0 1034.7L534.5 1036.1L536.6 1037.8L539.2 1038.7L541.3 1040.0L543.8 1041.3L546.0 1042.5L548.0 1043.4L550.0 1043.8L552.0 1045.3L554.2 1046.8L556.5 1047.7L558.7 1048.6L560.9 1049.3L562.7 1050.7L563.6 1052.8L565.4 1054.0L566.7 1056.7L568.2 1058.2L569.3 1060.0L570.1 1062.6L570.9 1064.3L571.9 1066.7L572.2 1069.6L573.3 1072.0L574.2 1074.9L575.2 1076.6L575.9 1079.2L576.1 1081.1L577.3 1084.0L579.3 1085.8L581.0 1088.8L582.7 1090.7L585.2 1091.8L586.7 1093.0L589.3 1094.7L589.9 1096.9L589.7 1100.3L590.1 1102.7L588.9 1104.9L586.6 1107.0L585.1 1109.0L584.0 1110.7L581.5 1111.7L579.5 1112.4L576.5 1113.8L574.7 1114.7L572.5 1115.2L569.6 1115.1L566.2 1114.7L564.0 1114.7L561.2 1113.8L558.7 1112.9L556.0 1112.0L553.4 1112.0L551.9 1111.0L549.3 1111.2L551.1 1109.3L552.9 1107.3L554.7 1105.3L556.2 1103.7L558.1 1102.1L560.0 1100.0L558.3 1097.6L557.1 1096.1L554.9 1094.0L553.3 1092.0L552.1 1089.6L550.3 1088.0L549.3 1085.4L548.4 1083.1L546.7 1081.3L545.4 1079.2L544.6 1076.9L543.1 1074.5L542.7 1072.8L541.3 1070.7L540.1 1068.2L539.8 1066.6L538.9 1064.6L537.9 1062.3L537.3 1060.0L536.7 1057.2L535.7 1055.3L534.1 1052.8L533.4 1050.3L532.0 1048.0L530.3 1045.8L528.8 1043.6L528.4 1041.9L526.7 1040.0L526.0 1037.7L525.1 1036.0Z" fill="#28d830" opacity="1"/><path d="M531.5 1039.2L533.7 1040.3L536.5 1041.5L538.8 1042.0L541.3 1043.5L543.6 1044.3L545.7 1045.3L547.5 1046.9L550.2 1047.8L552.0 1048.8L554.2 1050.3L557.0 1051.9L559.0 1052.7L561.3 1054.1L563.1 1056.4L563.9 1058.4L565.8 1060.2L567.2 1062.7L568.0 1064.6L568.7 1067.0L569.1 1069.1L570.3 1071.2L570.7 1073.3L571.5 1076.1L572.2 1078.0L572.9 1080.5L573.4 1083.1L574.1 1085.3L575.2 1087.1L576.8 1088.6L578.8 1090.5L580.0 1092.0L582.1 1093.5L583.6 1094.6L585.2 1095.4L587.5 1096.8L587.4 1099.6L587.5 1102.7L586.1 1104.7L583.5 1107.3L582.1 1109.3L579.4 1110.1L576.5 1111.8L574.1 1112.5L572.0 1112.4L569.3 1112.3L567.1 1112.4L564.5 1112.5L561.6 1111.8L558.9 1111.2L556.5 1110.1L558.1 1107.8L560.0 1105.3L561.7 1103.4L562.7 1101.7L564.0 1100.0L562.5 1097.9L560.7 1095.6L558.6 1093.7L557.3 1092.0L556.3 1090.1L554.3 1088.4L553.4 1086.5L551.8 1084.4L550.7 1082.7L549.6 1080.6L548.9 1078.1L547.3 1076.3L546.7 1074.3L545.3 1072.0L544.1 1069.7L543.5 1067.6L542.6 1065.8L541.9 1063.4L541.3 1061.3L540.6 1059.2L539.5 1056.5L539.0 1054.6L537.7 1052.1L536.8 1049.9L535.8 1048.1L534.5 1045.7L533.8 1043.4L532.8 1041.6Z" fill="#f4e820" opacity="1" filter="url(#b1)"/><path d="M540.0 1046.7L542.2 1047.3L544.7 1047.9L546.4 1048.9L548.3 1050.2L550.7 1050.7L552.9 1052.2L555.6 1053.0L557.3 1054.5L560.0 1056.0L561.4 1058.0L563.3 1060.4L564.2 1062.0L565.9 1064.0L566.4 1066.5L566.7 1068.0L567.3 1070.5L568.6 1072.2L568.8 1074.7L569.8 1076.9L570.2 1079.8L570.4 1081.5L571.2 1084.2L572.0 1086.7L573.3 1088.4L574.6 1090.1L575.9 1092.3L577.3 1094.1L580.2 1095.3L581.9 1097.5L584.8 1098.7L584.3 1101.1L583.7 1103.5L582.7 1105.3L580.7 1106.6L578.3 1107.9L576.3 1109.0L574.7 1110.1L572.3 1110.0L570.1 1110.2L567.5 1109.9L565.3 1110.1L563.7 1108.0L562.7 1105.3L564.2 1103.5L565.2 1102.2L566.7 1100.0L565.5 1098.1L563.8 1095.7L562.3 1094.3L561.3 1092.0L560.3 1090.5L558.8 1088.3L557.0 1086.5L556.2 1084.7L554.7 1082.7L553.6 1080.5L552.5 1078.8L551.7 1076.4L550.3 1074.2L549.3 1072.0L548.7 1070.1L547.7 1067.6L546.7 1065.5L546.0 1063.5L545.3 1061.3L544.1 1058.7L543.1 1057.0L542.5 1054.2L541.3 1052.0L540.7 1049.3Z" fill="#ffa018" opacity="1" filter="url(#b1)"/><path d="M546.7 1051.5L549.3 1052.3L551.7 1053.0L553.6 1053.7L556.0 1054.7L558.4 1056.2L560.7 1058.4L562.7 1060.0L563.6 1062.5L564.7 1064.4L565.6 1066.7L566.7 1069.3L566.9 1072.3L567.5 1075.0L568.3 1077.6L568.8 1080.0L568.8 1082.7L569.0 1085.6L569.3 1088.1L569.9 1090.7L569.6 1093.1L568.5 1095.6L568.0 1098.7L566.0 1099.4L564.0 1100.5L562.6 1098.4L561.6 1095.8L560.0 1093.3L558.8 1091.1L557.4 1088.7L556.7 1086.4L555.5 1084.0L554.3 1081.5L553.4 1079.4L552.7 1078.0L552.0 1075.6L550.7 1073.3L549.8 1071.5L549.3 1069.1L548.5 1066.8L548.4 1064.9L547.5 1062.7L546.9 1060.8L547.1 1058.4L547.2 1055.6L547.0 1053.7Z" fill="#ff2a1a" opacity="1" filter="url(#b1)"/><path d="M524.0 1033.3L526.1 1033.7L527.7 1033.6L530.3 1034.1L532.0 1034.7L533.4 1035.9L535.7 1037.2L537.3 1037.5L539.9 1038.8L541.3 1040.0L543.8 1041.4L545.8 1042.3L547.9 1043.0L549.4 1044.6L552.0 1045.3L553.7 1046.8L556.7 1047.3L558.9 1048.8L560.5 1049.6L562.7 1050.7L563.5 1052.7L565.8 1054.7L566.7 1056.8L568.4 1058.2L569.3 1060.0L570.3 1062.5L570.3 1064.4L571.0 1065.8L571.9 1068.4L573.0 1069.6L573.3 1072.0L574.4 1074.5L575.1 1076.1L575.2 1078.4L575.8 1080.0L576.3 1082.4L577.3 1084.0L578.4 1085.2L579.7 1087.6L581.6 1088.6L582.7 1090.7L585.4 1092.5L587.2 1093.6L589.3 1094.7L589.1 1097.1L589.4 1099.0L590.0 1101.0L590.1 1102.7L589.4 1104.7L587.4 1106.3L586.8 1107.6L585.6 1109.4L584.0 1110.7L582.6 1111.3L580.6 1112.2L578.8 1113.2L576.1 1113.6L574.7 1114.7L573.0 1115.1L570.8 1114.7L568.1 1114.9L566.1 1115.0L564.0 1114.7L561.9 1113.6L560.3 1113.4L558.1 1112.5L556.0 1112.0L553.6 1111.4L551.6 1111.5L549.3 1111.2L550.9 1109.5L552.6 1107.6L554.7 1105.3L556.9 1103.7L558.6 1102.0L560.0 1100.0L558.4 1098.5L556.9 1096.7L555.6 1095.2L554.7 1094.1L553.3 1092.0L552.5 1090.5L550.8 1088.7L549.8 1086.5L548.5 1084.7L548.0 1083.2L546.7 1081.3L545.1 1078.9L544.4 1077.2L543.2 1075.0L542.7 1073.1L541.3 1070.7L540.6 1068.5L540.0 1066.8L539.4 1064.6L538.3 1062.2L537.3 1060.0L536.9 1058.3L535.4 1056.0L535.0 1053.7L533.5 1052.2L533.3 1050.2L532.0 1048.0L531.0 1046.4L529.4 1044.4L527.8 1041.6L526.7 1040.0L525.4 1037.5L524.6 1035.7Z" fill="none" stroke="#111" stroke-width="0.8"/></g><use href="#medP"/></g></g>
<rect x="44.3" y="860.8" width="46.9" height="81.0" fill="none" stroke="#ff2222" stroke-width="1.7" stroke-dasharray="6.2 3.1"/>
<rect x="338.0" y="858.8" width="46.7" height="80.6" fill="none" stroke="#ff2222" stroke-width="1.7" stroke-dasharray="6.2 3.1"/>
<rect x="250.7" y="1050.7" width="47.2" height="80.5" fill="none" stroke="#ff2222" stroke-width="1.7" stroke-dasharray="6.2 3.1"/>
<rect x="545.3" y="1050.7" width="47.5" height="80.5" fill="none" stroke="#ff2222" stroke-width="1.7" stroke-dasharray="6.2 3.1"/>
<defs><clipPath id="cLc"><path d="M44.4 1250.0C44.4 1247.8 44.3 1243.0 45.0 1240.0C45.7 1237.0 47.2 1233.0 48.8 1230.0C50.2 1227.0 52.8 1222.8 55.0 1220.0C57.2 1217.2 60.8 1213.9 63.8 1211.2C66.8 1208.6 71.4 1204.7 75.0 1202.5C78.6 1200.3 83.8 1198.4 87.5 1196.9C91.2 1195.4 96.2 1193.6 100.0 1192.5C103.8 1191.4 109.1 1190.0 112.5 1189.4C115.9 1188.7 119.5 1188.3 122.5 1188.1C125.5 1188.0 129.7 1188.3 132.5 1188.5C135.3 1188.7 138.8 1189.1 141.2 1189.4C143.7 1189.7 146.9 1190.0 148.8 1190.6C150.6 1191.3 152.2 1192.9 153.8 1193.8C155.2 1194.6 157.2 1196.0 158.8 1196.2C160.2 1196.5 162.4 1195.1 163.8 1195.6C165.1 1196.2 166.5 1198.8 167.5 1200.0C168.5 1201.2 171.0 1202.9 170.6 1203.5C170.2 1204.1 166.6 1204.1 165.0 1203.8C163.4 1203.4 161.7 1201.7 160.0 1201.2C158.3 1200.8 155.6 1200.7 153.8 1200.6C151.9 1200.5 149.6 1200.5 147.5 1200.6C145.4 1200.7 142.2 1201.1 140.0 1201.2C137.8 1201.4 134.8 1201.4 132.5 1201.9C130.2 1202.3 127.2 1203.3 125.0 1204.4C122.8 1205.4 119.8 1207.2 117.5 1208.8C115.2 1210.2 111.9 1212.9 110.0 1214.4C108.1 1215.9 106.9 1217.5 105.0 1218.8C103.1 1220.0 100.5 1220.8 97.5 1222.5C94.5 1224.2 88.8 1227.4 85.0 1230.0C81.2 1232.6 75.5 1237.0 72.5 1240.0C69.5 1243.0 66.5 1247.0 65.0 1250.0C63.5 1253.0 63.2 1257.4 62.5 1260.0C61.8 1262.6 61.3 1266.5 60.0 1267.5C58.7 1268.5 55.4 1267.6 53.8 1266.9C52.1 1266.1 50.1 1264.3 48.8 1262.5C47.4 1260.7 45.7 1256.9 45.0 1255.0C44.3 1253.1 44.4 1252.2 44.4 1250.0Z"/></clipPath><clipPath id="pLc"><path d="M58.8 1250.0C59.3 1247.5 60.4 1245.0 61.9 1242.5C63.3 1240.0 65.1 1237.5 67.5 1235.0C69.9 1232.5 72.9 1229.8 76.2 1227.5C79.6 1225.2 83.5 1222.9 87.5 1221.2C91.5 1219.6 95.8 1218.2 100.0 1217.5C104.2 1216.8 108.3 1216.7 112.5 1216.9C116.7 1217.1 121.0 1217.6 125.0 1218.8C129.0 1219.9 132.9 1221.9 136.2 1223.8C139.6 1225.6 142.5 1227.7 145.0 1230.0C147.5 1232.3 150.0 1235.0 151.2 1237.5C152.5 1240.0 152.7 1242.5 152.5 1245.0C152.3 1247.5 151.0 1250.2 150.0 1252.5C149.0 1254.8 147.7 1256.7 146.2 1258.8C144.8 1260.8 143.1 1262.7 141.2 1265.0C139.4 1267.3 136.9 1270.6 135.0 1272.5C133.1 1274.4 131.7 1276.0 130.0 1276.2C128.3 1276.5 126.5 1274.8 125.0 1273.8C123.5 1272.7 122.9 1271.0 121.2 1270.0C119.6 1269.0 117.3 1267.8 115.0 1267.5C112.7 1267.2 109.8 1267.7 107.5 1268.1C105.2 1268.5 102.9 1269.1 101.2 1270.0C99.6 1270.9 98.8 1272.3 97.5 1273.8C96.2 1275.2 95.0 1277.1 93.8 1278.8C92.5 1280.4 91.2 1282.5 90.0 1283.8C88.8 1285.0 87.5 1286.0 86.2 1286.2C85.0 1286.5 84.2 1286.0 82.5 1285.0C80.8 1284.0 78.3 1281.7 76.2 1280.0C74.2 1278.3 72.1 1276.7 70.0 1275.0C67.9 1273.3 65.4 1271.7 63.8 1270.0C62.1 1268.3 60.8 1267.1 60.0 1265.0C59.2 1262.9 59.0 1260.0 58.8 1257.5C58.5 1255.0 58.2 1252.5 58.8 1250.0Z"/></clipPath><clipPath id="cRc"><path d="M173.8 1203.8C173.4 1203.0 176.0 1199.9 177.5 1198.8C179.0 1197.6 181.9 1197.0 183.8 1196.2C185.6 1195.5 188.1 1194.6 190.0 1193.8C191.9 1192.9 193.8 1191.4 196.2 1190.6C198.7 1189.9 203.1 1189.1 206.2 1188.8C209.4 1188.4 214.3 1188.3 217.5 1188.5C220.7 1188.7 224.1 1189.2 227.5 1190.0C230.9 1190.8 236.2 1192.4 240.0 1193.8C243.8 1195.1 248.8 1197.1 252.5 1198.8C256.2 1200.4 261.6 1203.1 265.0 1205.0C268.4 1206.9 272.2 1209.2 275.0 1211.2C277.8 1213.3 281.3 1216.3 283.8 1218.8C286.2 1221.2 289.4 1225.1 291.2 1227.5C293.1 1229.9 295.0 1232.6 296.2 1235.0C297.5 1237.4 298.8 1240.9 299.4 1243.8C299.9 1246.6 300.1 1251.1 300.0 1253.8C299.9 1256.4 299.7 1259.4 298.8 1261.2C297.8 1263.1 295.4 1265.3 293.8 1266.2C292.1 1267.2 289.2 1266.9 287.5 1267.5C285.8 1268.1 284.0 1269.1 282.5 1270.0C281.0 1270.9 279.2 1272.6 277.5 1273.8C275.8 1274.9 273.1 1276.2 271.2 1277.5C269.4 1278.8 266.7 1281.2 265.0 1282.5C263.3 1283.8 261.3 1285.7 260.0 1286.2C258.7 1286.8 257.6 1287.0 256.2 1286.2C254.9 1285.5 252.5 1282.9 251.2 1281.2C250.0 1279.6 248.7 1277.1 248.1 1275.0C247.6 1272.9 247.2 1269.8 247.5 1267.5C247.8 1265.2 249.3 1262.2 250.0 1260.0C250.7 1257.8 251.9 1254.9 251.9 1252.5C251.9 1250.1 250.7 1246.4 250.0 1243.8C249.3 1241.1 248.2 1237.4 247.5 1235.0C246.8 1232.6 246.1 1229.8 245.0 1227.5C243.9 1225.2 241.7 1222.2 240.0 1220.0C238.3 1217.8 236.0 1214.6 233.8 1212.5C231.5 1210.4 227.8 1207.8 225.0 1206.2C222.2 1204.8 218.0 1203.2 215.0 1202.5C212.0 1201.8 207.8 1201.4 205.0 1201.2C202.2 1201.1 198.9 1201.3 196.2 1201.5C193.6 1201.7 189.9 1202.2 187.5 1202.5C185.1 1202.8 182.1 1203.6 180.0 1203.8C177.9 1203.9 174.1 1204.5 173.8 1203.8Z"/></clipPath><clipPath id="pRc"><path d="M191.2 1245.0C191.4 1242.9 191.5 1239.8 192.5 1237.5C193.5 1235.2 195.4 1233.3 197.5 1231.2C199.6 1229.2 202.1 1226.9 205.0 1225.0C207.9 1223.1 211.7 1221.2 215.0 1220.0C218.3 1218.8 221.7 1218.0 225.0 1217.5C228.3 1217.0 231.7 1216.2 235.0 1216.9C238.3 1217.5 242.1 1219.1 245.0 1221.2C247.9 1223.4 250.8 1226.0 252.5 1230.0C254.2 1234.0 255.0 1240.0 255.0 1245.0C255.0 1250.0 253.3 1255.0 252.5 1260.0C251.7 1265.0 251.0 1273.1 250.0 1275.0C249.0 1276.9 247.9 1272.3 246.2 1271.2C244.6 1270.2 242.3 1269.4 240.0 1268.8C237.7 1268.1 234.8 1267.5 232.5 1267.5C230.2 1267.5 228.3 1267.9 226.2 1268.8C224.2 1269.6 221.9 1271.4 220.0 1272.5C218.1 1273.6 216.9 1275.8 215.0 1275.6C213.1 1275.4 210.8 1273.0 208.8 1271.2C206.7 1269.5 204.6 1267.3 202.5 1265.0C200.4 1262.7 198.0 1260.0 196.2 1257.5C194.5 1255.0 192.7 1252.1 191.9 1250.0C191.0 1247.9 191.1 1247.1 191.2 1245.0Z"/></clipPath></defs>
<g transform="translate(0 0)"><path d="M44.4 1250.0C44.4 1247.8 44.3 1243.0 45.0 1240.0C45.7 1237.0 47.2 1233.0 48.8 1230.0C50.2 1227.0 52.8 1222.8 55.0 1220.0C57.2 1217.2 60.8 1213.9 63.8 1211.2C66.8 1208.6 71.4 1204.7 75.0 1202.5C78.6 1200.3 83.8 1198.4 87.5 1196.9C91.2 1195.4 96.2 1193.6 100.0 1192.5C103.8 1191.4 109.1 1190.0 112.5 1189.4C115.9 1188.7 119.5 1188.3 122.5 1188.1C125.5 1188.0 129.7 1188.3 132.5 1188.5C135.3 1188.7 138.8 1189.1 141.2 1189.4C143.7 1189.7 146.9 1190.0 148.8 1190.6C150.6 1191.3 152.2 1192.9 153.8 1193.8C155.2 1194.6 157.2 1196.0 158.8 1196.2C160.2 1196.5 162.4 1195.1 163.8 1195.6C165.1 1196.2 166.5 1198.8 167.5 1200.0C168.5 1201.2 171.0 1202.9 170.6 1203.5C170.2 1204.1 166.6 1204.1 165.0 1203.8C163.4 1203.4 161.7 1201.7 160.0 1201.2C158.3 1200.8 155.6 1200.7 153.8 1200.6C151.9 1200.5 149.6 1200.5 147.5 1200.6C145.4 1200.7 142.2 1201.1 140.0 1201.2C137.8 1201.4 134.8 1201.4 132.5 1201.9C130.2 1202.3 127.2 1203.3 125.0 1204.4C122.8 1205.4 119.8 1207.2 117.5 1208.8C115.2 1210.2 111.9 1212.9 110.0 1214.4C108.1 1215.9 106.9 1217.5 105.0 1218.8C103.1 1220.0 100.5 1220.8 97.5 1222.5C94.5 1224.2 88.8 1227.4 85.0 1230.0C81.2 1232.6 75.5 1237.0 72.5 1240.0C69.5 1243.0 66.5 1247.0 65.0 1250.0C63.5 1253.0 63.2 1257.4 62.5 1260.0C61.8 1262.6 61.3 1266.5 60.0 1267.5C58.7 1268.5 55.4 1267.6 53.8 1266.9C52.1 1266.1 50.1 1264.3 48.8 1262.5C47.4 1260.7 45.7 1256.9 45.0 1255.0C44.3 1253.1 44.4 1252.2 44.4 1250.0Z" fill="#b4b4b4"/><g clip-path="url(#cLc)"><g filter="url(#b3)"><path d="M63.8 1221.2C67.3 1218.5 76.9 1209.4 85.0 1205.0C93.1 1200.6 103.1 1196.9 112.5 1195.0C121.9 1193.1 136.5 1194.0 141.2 1193.8" stroke="#c6c6c6" stroke-width="5" fill="none" stroke-linecap="round" stroke-linejoin="round" opacity="0.9"/></g><path d="M60.0 1217.5L61.2 1215.6L63.1 1214.5L64.3 1212.1L65.8 1209.9L66.2 1208.8L68.9 1208.6L69.9 1208.7L72.5 1207.5L73.6 1208.4L74.6 1211.2L75.0 1212.5L74.5 1213.4L74.3 1216.8L74.2 1217.4L73.3 1218.9L72.5 1221.2L72.2 1223.0L71.9 1225.0L71.5 1227.6L71.2 1230.0L69.9 1232.2L70.1 1233.3L69.0 1234.9L67.5 1236.2L66.3 1236.6L63.8 1237.6L62.5 1238.8L61.5 1237.0L61.2 1235.8L59.2 1233.3L58.9 1232.2L57.5 1230.0L57.1 1228.1L57.3 1226.8L59.4 1224.1L59.1 1223.6L58.9 1220.3L59.8 1219.5Z" fill="#7c7cba" opacity="0.95" filter="url(#b1)"/><path d="M53.8 1222.5L55.7 1220.5L57.0 1219.3L58.5 1217.7L60.0 1216.2L61.4 1215.5L63.5 1214.0L65.0 1213.6L66.2 1212.5L67.1 1214.4L68.2 1216.1L68.8 1217.5L68.1 1219.8L67.8 1221.2L66.5 1222.9L66.2 1225.0L65.5 1226.7L65.8 1228.3L65.1 1230.7L64.4 1232.5L64.3 1234.8L64.6 1236.3L65.0 1238.8L63.5 1240.2L62.0 1241.2L60.0 1242.5L59.1 1241.4L58.4 1239.2L56.9 1237.6L55.5 1236.1L55.0 1235.0L55.1 1232.8L54.4 1231.2L54.8 1229.3L53.8 1226.2L53.5 1224.5Z" fill="#2fd430" opacity="1" filter="url(#b1)"/><path d="M48.8 1230.0L49.7 1228.2L51.6 1227.4L53.1 1225.6L53.8 1223.8L56.2 1223.7L58.8 1222.5L59.5 1224.8L59.7 1226.7L59.6 1228.4L60.0 1230.0L61.0 1232.3L61.3 1234.7L61.2 1236.2L60.4 1237.9L60.7 1241.0L60.0 1242.5L58.5 1241.9L57.2 1240.6L55.7 1240.0L53.8 1238.8L53.3 1237.3L51.2 1235.5L51.1 1233.8L49.5 1231.6Z" fill="#f2ee20" opacity="1" filter="url(#b15)"/><path d="M42.5 1250.0L42.3 1247.9L42.4 1245.5L43.4 1243.8L43.4 1241.5L43.8 1240.0L45.0 1238.5L45.4 1236.7L45.9 1235.1L47.4 1233.0L47.5 1231.7L48.8 1230.0L50.0 1228.6L51.8 1227.0L53.8 1226.2L55.0 1227.9L56.7 1228.4L58.1 1230.0L58.0 1231.6L59.5 1234.5L59.4 1236.2L60.3 1238.4L61.5 1239.9L61.9 1242.5L61.7 1244.8L60.7 1246.5L60.3 1248.3L60.0 1250.0L59.5 1251.6L60.1 1253.7L58.9 1255.7L59.0 1257.6L58.8 1260.0L58.5 1262.0L59.3 1263.8L60.3 1266.1L60.0 1268.8L57.9 1269.1L56.2 1268.8L53.8 1268.1L52.7 1267.2L50.7 1266.0L48.8 1265.4L47.5 1263.8L46.7 1262.3L45.6 1259.8L45.3 1259.1L44.4 1256.5L43.8 1255.0L43.0 1253.1Z" fill="#ff9416" opacity="1" filter="url(#b15)"/><path d="M43.8 1255.0L44.9 1254.7L47.3 1253.7L48.8 1252.5L50.8 1253.5L52.3 1253.7L53.8 1255.0L55.8 1256.4L58.1 1257.5L58.0 1259.0L58.3 1260.7L58.8 1263.2L58.7 1264.6L59.5 1267.1L59.4 1268.8L57.3 1268.6L55.7 1268.3L53.8 1268.1L52.8 1266.9L50.8 1266.2L49.0 1265.0L47.5 1263.8L46.8 1262.2L45.7 1260.7L45.5 1258.2L45.1 1256.3Z" fill="#ff3018" opacity="1" filter="url(#b15)"/><path d="M44.4 1250.0C44.4 1247.8 44.3 1243.0 45.0 1240.0C45.7 1237.0 47.2 1233.0 48.8 1230.0C50.2 1227.0 52.8 1222.8 55.0 1220.0C57.2 1217.2 60.8 1213.9 63.8 1211.2C66.8 1208.6 71.4 1204.7 75.0 1202.5C78.6 1200.3 83.8 1198.4 87.5 1196.9C91.2 1195.4 96.2 1193.6 100.0 1192.5C103.8 1191.4 109.1 1190.0 112.5 1189.4C115.9 1188.7 119.5 1188.3 122.5 1188.1C125.5 1188.0 129.7 1188.3 132.5 1188.5C135.3 1188.7 138.8 1189.1 141.2 1189.4C143.7 1189.7 146.9 1190.0 148.8 1190.6C150.6 1191.3 152.2 1192.9 153.8 1193.8C155.2 1194.6 157.2 1196.0 158.8 1196.2C160.2 1196.5 162.4 1195.1 163.8 1195.6C165.1 1196.2 166.5 1198.8 167.5 1200.0C168.5 1201.2 171.0 1202.9 170.6 1203.5C170.2 1204.1 166.6 1204.1 165.0 1203.8C163.4 1203.4 161.7 1201.7 160.0 1201.2C158.3 1200.8 155.6 1200.7 153.8 1200.6C151.9 1200.5 149.6 1200.5 147.5 1200.6C145.4 1200.7 142.2 1201.1 140.0 1201.2C137.8 1201.4 134.8 1201.4 132.5 1201.9C130.2 1202.3 127.2 1203.3 125.0 1204.4C122.8 1205.4 119.8 1207.2 117.5 1208.8C115.2 1210.2 111.9 1212.9 110.0 1214.4C108.1 1215.9 106.9 1217.5 105.0 1218.8C103.1 1220.0 100.5 1220.8 97.5 1222.5C94.5 1224.2 88.8 1227.4 85.0 1230.0C81.2 1232.6 75.5 1237.0 72.5 1240.0C69.5 1243.0 66.5 1247.0 65.0 1250.0C63.5 1253.0 63.2 1257.4 62.5 1260.0C61.8 1262.6 61.3 1266.5 60.0 1267.5C58.7 1268.5 55.4 1267.6 53.8 1266.9C52.1 1266.1 50.1 1264.3 48.8 1262.5C47.4 1260.7 45.7 1256.9 45.0 1255.0C44.3 1253.1 44.4 1252.2 44.4 1250.0Z" fill="none" stroke="#808080" stroke-width="2.6" filter="url(#b1)" opacity="0.55"/></g><path d="M58.8 1250.0C59.3 1247.5 60.4 1245.0 61.9 1242.5C63.3 1240.0 65.1 1237.5 67.5 1235.0C69.9 1232.5 72.9 1229.8 76.2 1227.5C79.6 1225.2 83.5 1222.9 87.5 1221.2C91.5 1219.6 95.8 1218.2 100.0 1217.5C104.2 1216.8 108.3 1216.7 112.5 1216.9C116.7 1217.1 121.0 1217.6 125.0 1218.8C129.0 1219.9 132.9 1221.9 136.2 1223.8C139.6 1225.6 142.5 1227.7 145.0 1230.0C147.5 1232.3 150.0 1235.0 151.2 1237.5C152.5 1240.0 152.7 1242.5 152.5 1245.0C152.3 1247.5 151.0 1250.2 150.0 1252.5C149.0 1254.8 147.7 1256.7 146.2 1258.8C144.8 1260.8 143.1 1262.7 141.2 1265.0C139.4 1267.3 136.9 1270.6 135.0 1272.5C133.1 1274.4 131.7 1276.0 130.0 1276.2C128.3 1276.5 126.5 1274.8 125.0 1273.8C123.5 1272.7 122.9 1271.0 121.2 1270.0C119.6 1269.0 117.3 1267.8 115.0 1267.5C112.7 1267.2 109.8 1267.7 107.5 1268.1C105.2 1268.5 102.9 1269.1 101.2 1270.0C99.6 1270.9 98.8 1272.3 97.5 1273.8C96.2 1275.2 95.0 1277.1 93.8 1278.8C92.5 1280.4 91.2 1282.5 90.0 1283.8C88.8 1285.0 87.5 1286.0 86.2 1286.2C85.0 1286.5 84.2 1286.0 82.5 1285.0C80.8 1284.0 78.3 1281.7 76.2 1280.0C74.2 1278.3 72.1 1276.7 70.0 1275.0C67.9 1273.3 65.4 1271.7 63.8 1270.0C62.1 1268.3 60.8 1267.1 60.0 1265.0C59.2 1262.9 59.0 1260.0 58.8 1257.5C58.5 1255.0 58.2 1252.5 58.8 1250.0Z" fill="#b8b8b8"/><g clip-path="url(#pLc)"><g filter="url(#b3)"><path d="M91.2 1230.0C93.8 1227.5 103.5 1225.0 110.0 1225.0C116.5 1225.0 125.0 1227.5 130.0 1230.0C135.0 1232.5 140.0 1237.5 140.0 1240.0C140.0 1242.5 135.0 1245.2 130.0 1245.0C125.0 1244.8 115.8 1239.6 110.0 1238.8C104.2 1237.9 98.1 1241.5 95.0 1240.0C91.9 1238.5 88.8 1232.5 91.2 1230.0Z" fill="#c9c9c9" opacity="0.9"/><path d="M105.0 1250.0C107.5 1249.6 115.0 1247.5 120.0 1247.5C125.0 1247.5 132.5 1249.6 135.0 1250.0" stroke="#a2a2a2" stroke-width="6" fill="none" stroke-linecap="round" stroke-linejoin="round" opacity="0.8"/><path d="M91.2 1255.0C92.9 1253.1 104.4 1252.9 110.0 1253.8C115.6 1254.6 124.2 1258.1 125.0 1260.0C125.8 1261.9 119.2 1264.2 115.0 1265.0C110.8 1265.8 104.0 1266.7 100.0 1265.0C96.0 1263.3 89.6 1256.9 91.2 1255.0Z" fill="#c2c2c2" opacity="0.8"/></g><path d="M58.1 1250.0L59.7 1250.5L61.4 1250.9L62.5 1251.0L65.0 1252.5L66.3 1252.4L68.8 1250.1L71.2 1250.0L72.5 1252.1L71.7 1253.1L73.1 1256.0L72.5 1257.5L75.0 1257.7L76.5 1259.1L77.5 1260.0L77.9 1263.1L79.1 1263.5L78.8 1266.2L79.9 1266.5L83.5 1267.5L85.0 1267.5L87.0 1269.9L88.2 1270.7L90.0 1272.5L91.9 1273.2L93.9 1275.3L95.0 1276.2L94.8 1278.8L94.4 1279.5L92.3 1281.4L91.5 1282.7L91.2 1285.0L88.9 1286.0L87.1 1286.6L86.2 1287.5L85.1 1285.9L82.5 1286.2L81.1 1284.1L79.5 1284.4L77.0 1283.1L76.2 1281.2L75.3 1280.2L72.4 1279.7L71.8 1277.5L70.0 1276.2L69.1 1275.2L67.3 1273.6L64.1 1272.9L63.1 1271.2L61.1 1270.1L60.9 1269.0L59.9 1265.7L58.8 1265.0L59.3 1263.4L57.2 1260.9L57.7 1259.6L57.5 1257.5L56.7 1255.1L57.4 1253.9L58.4 1252.3Z" fill="#7c7cba" opacity="0.95"/><path d="M57.5 1257.5L59.9 1258.2L61.9 1260.0L63.4 1261.9L63.9 1264.1L65.4 1265.6L66.2 1267.5L67.2 1268.9L69.8 1270.6L71.5 1271.3L72.5 1272.5L74.0 1273.4L75.2 1274.9L76.8 1276.0L78.8 1277.5L80.7 1278.5L82.3 1279.6L83.1 1279.8L85.0 1281.2L86.5 1282.5L87.8 1283.0L90.0 1283.8L88.7 1285.2L86.2 1287.5L84.0 1286.8L82.5 1286.2L80.5 1285.6L79.7 1283.3L77.2 1282.9L76.2 1281.2L75.0 1279.8L72.5 1278.1L71.4 1278.1L70.0 1276.2L68.3 1274.5L66.2 1273.9L64.6 1272.3L63.1 1271.2L62.7 1269.8L60.8 1267.6L59.8 1266.2L58.8 1265.0L59.0 1262.9L58.4 1261.6L57.3 1259.5Z" fill="#2fd430" opacity="1" filter="url(#b1)"/><path d="M58.8 1250.0C59.3 1247.5 60.4 1245.0 61.9 1242.5C63.3 1240.0 65.1 1237.5 67.5 1235.0C69.9 1232.5 72.9 1229.8 76.2 1227.5C79.6 1225.2 83.5 1222.9 87.5 1221.2C91.5 1219.6 95.8 1218.2 100.0 1217.5C104.2 1216.8 108.3 1216.7 112.5 1216.9C116.7 1217.1 121.0 1217.6 125.0 1218.8C129.0 1219.9 132.9 1221.9 136.2 1223.8C139.6 1225.6 142.5 1227.7 145.0 1230.0C147.5 1232.3 150.0 1235.0 151.2 1237.5C152.5 1240.0 152.7 1242.5 152.5 1245.0C152.3 1247.5 151.0 1250.2 150.0 1252.5C149.0 1254.8 147.7 1256.7 146.2 1258.8C144.8 1260.8 143.1 1262.7 141.2 1265.0C139.4 1267.3 136.9 1270.6 135.0 1272.5C133.1 1274.4 131.7 1276.0 130.0 1276.2C128.3 1276.5 126.5 1274.8 125.0 1273.8C123.5 1272.7 122.9 1271.0 121.2 1270.0C119.6 1269.0 117.3 1267.8 115.0 1267.5C112.7 1267.2 109.8 1267.7 107.5 1268.1C105.2 1268.5 102.9 1269.1 101.2 1270.0C99.6 1270.9 98.8 1272.3 97.5 1273.8C96.2 1275.2 95.0 1277.1 93.8 1278.8C92.5 1280.4 91.2 1282.5 90.0 1283.8C88.8 1285.0 87.5 1286.0 86.2 1286.2C85.0 1286.5 84.2 1286.0 82.5 1285.0C80.8 1284.0 78.3 1281.7 76.2 1280.0C74.2 1278.3 72.1 1276.7 70.0 1275.0C67.9 1273.3 65.4 1271.7 63.8 1270.0C62.1 1268.3 60.8 1267.1 60.0 1265.0C59.2 1262.9 59.0 1260.0 58.8 1257.5C58.5 1255.0 58.2 1252.5 58.8 1250.0Z" fill="none" stroke="#808080" stroke-width="2.6" filter="url(#b1)" opacity="0.55"/></g><path d="M191.2 1245.0C191.4 1242.9 191.5 1239.8 192.5 1237.5C193.5 1235.2 195.4 1233.3 197.5 1231.2C199.6 1229.2 202.1 1226.9 205.0 1225.0C207.9 1223.1 211.7 1221.2 215.0 1220.0C218.3 1218.8 221.7 1218.0 225.0 1217.5C228.3 1217.0 231.7 1216.2 235.0 1216.9C238.3 1217.5 242.1 1219.1 245.0 1221.2C247.9 1223.4 250.8 1226.0 252.5 1230.0C254.2 1234.0 255.0 1240.0 255.0 1245.0C255.0 1250.0 253.3 1255.0 252.5 1260.0C251.7 1265.0 251.0 1273.1 250.0 1275.0C249.0 1276.9 247.9 1272.3 246.2 1271.2C244.6 1270.2 242.3 1269.4 240.0 1268.8C237.7 1268.1 234.8 1267.5 232.5 1267.5C230.2 1267.5 228.3 1267.9 226.2 1268.8C224.2 1269.6 221.9 1271.4 220.0 1272.5C218.1 1273.6 216.9 1275.8 215.0 1275.6C213.1 1275.4 210.8 1273.0 208.8 1271.2C206.7 1269.5 204.6 1267.3 202.5 1265.0C200.4 1262.7 198.0 1260.0 196.2 1257.5C194.5 1255.0 192.7 1252.1 191.9 1250.0C191.0 1247.9 191.1 1247.1 191.2 1245.0Z" fill="#b8b8b8"/><g clip-path="url(#pRc)"><g filter="url(#b3)"><path d="M202.5 1235.0C204.6 1230.8 212.1 1228.8 217.5 1227.5C222.9 1226.2 230.8 1225.4 235.0 1227.5C239.2 1229.6 242.5 1235.4 242.5 1240.0C242.5 1244.6 239.2 1251.7 235.0 1255.0C230.8 1258.3 222.5 1260.4 217.5 1260.0C212.5 1259.6 207.5 1256.7 205.0 1252.5C202.5 1248.3 200.4 1239.2 202.5 1235.0Z" fill="#c8c8c8" opacity="0.9"/><path d="M206.2 1250.0C208.1 1249.2 213.5 1245.4 217.5 1245.0C221.5 1244.6 227.9 1247.1 230.0 1247.5" stroke="#a8a8a8" stroke-width="6" fill="none" stroke-linecap="round" stroke-linejoin="round" opacity="0.7"/></g><path d="M191.2 1245.0C191.4 1242.9 191.5 1239.8 192.5 1237.5C193.5 1235.2 195.4 1233.3 197.5 1231.2C199.6 1229.2 202.1 1226.9 205.0 1225.0C207.9 1223.1 211.7 1221.2 215.0 1220.0C218.3 1218.8 221.7 1218.0 225.0 1217.5C228.3 1217.0 231.7 1216.2 235.0 1216.9C238.3 1217.5 242.1 1219.1 245.0 1221.2C247.9 1223.4 250.8 1226.0 252.5 1230.0C254.2 1234.0 255.0 1240.0 255.0 1245.0C255.0 1250.0 253.3 1255.0 252.5 1260.0C251.7 1265.0 251.0 1273.1 250.0 1275.0C249.0 1276.9 247.9 1272.3 246.2 1271.2C244.6 1270.2 242.3 1269.4 240.0 1268.8C237.7 1268.1 234.8 1267.5 232.5 1267.5C230.2 1267.5 228.3 1267.9 226.2 1268.8C224.2 1269.6 221.9 1271.4 220.0 1272.5C218.1 1273.6 216.9 1275.8 215.0 1275.6C213.1 1275.4 210.8 1273.0 208.8 1271.2C206.7 1269.5 204.6 1267.3 202.5 1265.0C200.4 1262.7 198.0 1260.0 196.2 1257.5C194.5 1255.0 192.7 1252.1 191.9 1250.0C191.0 1247.9 191.1 1247.1 191.2 1245.0Z" fill="none" stroke="#808080" stroke-width="2.6" filter="url(#b1)" opacity="0.55"/></g><path d="M173.8 1203.8C173.4 1203.0 176.0 1199.9 177.5 1198.8C179.0 1197.6 181.9 1197.0 183.8 1196.2C185.6 1195.5 188.1 1194.6 190.0 1193.8C191.9 1192.9 193.8 1191.4 196.2 1190.6C198.7 1189.9 203.1 1189.1 206.2 1188.8C209.4 1188.4 214.3 1188.3 217.5 1188.5C220.7 1188.7 224.1 1189.2 227.5 1190.0C230.9 1190.8 236.2 1192.4 240.0 1193.8C243.8 1195.1 248.8 1197.1 252.5 1198.8C256.2 1200.4 261.6 1203.1 265.0 1205.0C268.4 1206.9 272.2 1209.2 275.0 1211.2C277.8 1213.3 281.3 1216.3 283.8 1218.8C286.2 1221.2 289.4 1225.1 291.2 1227.5C293.1 1229.9 295.0 1232.6 296.2 1235.0C297.5 1237.4 298.8 1240.9 299.4 1243.8C299.9 1246.6 300.1 1251.1 300.0 1253.8C299.9 1256.4 299.7 1259.4 298.8 1261.2C297.8 1263.1 295.4 1265.3 293.8 1266.2C292.1 1267.2 289.2 1266.9 287.5 1267.5C285.8 1268.1 284.0 1269.1 282.5 1270.0C281.0 1270.9 279.2 1272.6 277.5 1273.8C275.8 1274.9 273.1 1276.2 271.2 1277.5C269.4 1278.8 266.7 1281.2 265.0 1282.5C263.3 1283.8 261.3 1285.7 260.0 1286.2C258.7 1286.8 257.6 1287.0 256.2 1286.2C254.9 1285.5 252.5 1282.9 251.2 1281.2C250.0 1279.6 248.7 1277.1 248.1 1275.0C247.6 1272.9 247.2 1269.8 247.5 1267.5C247.8 1265.2 249.3 1262.2 250.0 1260.0C250.7 1257.8 251.9 1254.9 251.9 1252.5C251.9 1250.1 250.7 1246.4 250.0 1243.8C249.3 1241.1 248.2 1237.4 247.5 1235.0C246.8 1232.6 246.1 1229.8 245.0 1227.5C243.9 1225.2 241.7 1222.2 240.0 1220.0C238.3 1217.8 236.0 1214.6 233.8 1212.5C231.5 1210.4 227.8 1207.8 225.0 1206.2C222.2 1204.8 218.0 1203.2 215.0 1202.5C212.0 1201.8 207.8 1201.4 205.0 1201.2C202.2 1201.1 198.9 1201.3 196.2 1201.5C193.6 1201.7 189.9 1202.2 187.5 1202.5C185.1 1202.8 182.1 1203.6 180.0 1203.8C177.9 1203.9 174.1 1204.5 173.8 1203.8Z" fill="#b4b4b4"/><g clip-path="url(#cRc)"><g filter="url(#b3)"><path d="M190.0 1198.8C194.2 1198.1 206.2 1194.4 215.0 1195.0C223.8 1195.6 234.2 1198.8 242.5 1202.5C250.8 1206.2 261.2 1215.0 265.0 1217.5" stroke="#c6c6c6" stroke-width="6" fill="none" stroke-linecap="round" stroke-linejoin="round" opacity="0.9"/></g><path d="M248.1 1240.0L248.4 1237.9L250.1 1236.0L251.5 1234.6L251.0 1232.0L252.5 1231.2L255.2 1231.3L256.8 1231.2L258.6 1229.7L260.0 1230.0L262.4 1231.5L263.7 1232.9L265.0 1233.8L267.6 1233.5L268.3 1233.5L271.2 1232.5L273.0 1231.3L274.5 1229.0L275.1 1229.1L277.5 1227.5L279.1 1226.9L280.1 1224.8L281.8 1224.2L283.8 1223.8L285.7 1222.5L287.8 1222.0L288.8 1221.2L289.3 1224.1L290.8 1226.1L291.2 1227.5L288.9 1228.2L288.2 1229.5L286.7 1232.0L285.0 1232.5L282.9 1233.4L281.8 1233.8L278.4 1235.2L277.5 1236.2L274.7 1237.7L272.9 1236.9L272.1 1238.3L270.0 1238.8L268.3 1238.4L266.3 1238.7L265.1 1240.6L262.5 1240.0L260.8 1240.1L258.9 1241.0L256.9 1241.1L255.0 1242.5L252.6 1243.7L251.4 1245.5L250.0 1246.2L248.7 1244.8L249.3 1242.0Z" fill="#7c7cba" opacity="0.95"/><path d="M277.5 1210.0L278.9 1211.5L280.3 1213.1L282.5 1213.8L282.9 1215.0L283.8 1217.1L285.0 1218.8L282.6 1218.4L281.2 1217.5L280.1 1216.1L279.4 1213.9L278.2 1212.2Z" fill="#7c7cba" opacity="0.9" filter="url(#b1)"/><path d="M249.4 1245.0L251.2 1243.9L252.1 1242.0L253.8 1241.0L255.0 1240.0L257.1 1239.3L259.1 1239.1L260.7 1238.8L262.5 1238.8L264.7 1238.5L266.2 1238.7L267.8 1237.5L270.0 1237.5L271.6 1236.4L273.5 1236.0L275.1 1235.4L277.5 1235.0L279.2 1234.7L281.7 1232.8L283.5 1232.2L285.0 1231.2L286.0 1230.7L287.9 1229.9L290.2 1228.6L291.2 1227.5L292.3 1229.6L293.5 1230.9L294.4 1232.5L292.9 1233.3L291.7 1234.9L290.7 1235.7L288.6 1238.0L287.5 1238.8L285.8 1239.7L283.5 1240.5L282.2 1242.0L280.0 1242.5L278.2 1243.1L276.0 1243.6L274.6 1244.7L272.5 1245.0L270.9 1245.2L268.6 1246.1L267.4 1247.3L265.0 1247.5L263.7 1248.1L261.8 1248.5L259.0 1248.4L257.5 1248.8L255.7 1250.0L253.0 1250.7L251.2 1251.2L250.1 1249.0L249.6 1246.6Z" fill="#2fd430" opacity="1" filter="url(#b1)"/><path d="M251.2 1251.2L252.7 1250.1L254.9 1249.7L255.6 1248.2L257.5 1247.5L258.9 1246.9L261.3 1247.4L263.7 1246.8L265.0 1246.2L266.4 1245.4L269.2 1245.6L270.3 1244.0L272.5 1243.8L274.5 1242.9L276.0 1242.4L278.6 1241.3L280.0 1241.2L282.1 1240.6L283.7 1239.2L285.0 1238.8L284.1 1240.4L283.7 1241.9L283.2 1244.4L281.6 1245.7L281.2 1247.5L280.8 1249.5L280.3 1251.5L279.3 1253.5L278.2 1255.0L277.5 1257.5L277.6 1259.2L277.3 1261.7L276.3 1263.9L276.7 1265.0L276.2 1267.5L275.4 1269.9L275.0 1271.4L273.8 1273.6L272.4 1275.0L272.2 1276.4L271.2 1278.8L269.7 1280.1L267.8 1280.9L266.2 1283.0L265.0 1283.8L262.9 1284.7L261.7 1286.2L260.0 1287.5L257.9 1287.0L255.6 1287.2L253.9 1286.3L253.6 1284.8L251.9 1283.7L250.6 1281.9L249.4 1279.9L248.4 1278.0L248.1 1276.7L246.9 1275.0L246.3 1272.7L247.1 1270.7L246.1 1269.0L246.2 1267.5L246.9 1265.6L247.3 1263.5L248.8 1262.5L249.0 1260.0L250.0 1258.9L250.1 1256.4L251.2 1255.0L251.4 1252.9Z" fill="#dcec24" opacity="1" filter="url(#b15)"/><path d="M277.5 1242.5L279.3 1241.2L280.2 1240.2L282.1 1239.8L283.0 1238.6L285.0 1237.5L287.1 1236.2L288.7 1236.0L289.1 1234.3L290.8 1233.3L292.7 1232.7L294.4 1231.9L295.3 1233.5L297.1 1236.0L298.1 1237.5L299.0 1239.7L299.2 1241.3L299.8 1242.4L300.2 1244.7L301.0 1246.2L301.6 1247.9L301.1 1250.9L301.6 1252.5L301.2 1255.0L300.8 1256.9L300.5 1258.4L299.8 1261.0L299.0 1262.5L297.6 1264.5L296.1 1265.7L293.8 1266.9L291.2 1267.8L289.7 1267.7L287.5 1268.1L286.3 1268.6L283.7 1269.7L282.5 1270.6L281.1 1271.7L279.3 1273.7L277.5 1274.4L276.9 1272.7L275.2 1271.5L274.4 1268.6L273.8 1267.5L274.6 1265.0L274.6 1263.1L275.0 1261.2L274.9 1259.9L275.0 1257.5L275.4 1256.0L275.5 1253.9L275.5 1251.6L276.2 1250.0L276.2 1248.4L277.1 1245.7L277.4 1244.9Z" fill="#ff9416" opacity="1" filter="url(#b15)"/><path d="M283.8 1260.0L285.2 1258.7L287.2 1258.5L288.8 1257.5L290.6 1258.1L291.9 1259.4L293.8 1260.0L294.3 1262.6L295.0 1265.0L293.4 1265.3L291.7 1266.6L289.7 1266.7L287.5 1267.9L285.3 1267.1L283.8 1266.2L283.5 1264.1L284.2 1262.4Z" fill="#ff3018" opacity="1" filter="url(#b15)"/><path d="M296.2 1238.8L297.8 1240.6L298.7 1241.4L299.4 1243.6L300.6 1245.0L300.3 1246.5L300.8 1249.3L300.6 1250.8L300.6 1252.6L301.2 1255.0L299.1 1254.8L297.5 1255.0L297.6 1253.1L296.4 1251.3L296.8 1249.0L296.2 1247.5L296.3 1245.2L296.5 1242.8L296.2 1241.0Z" fill="#f0501a" opacity="0.9" filter="url(#b15)"/><path d="M173.8 1203.8C173.4 1203.0 176.0 1199.9 177.5 1198.8C179.0 1197.6 181.9 1197.0 183.8 1196.2C185.6 1195.5 188.1 1194.6 190.0 1193.8C191.9 1192.9 193.8 1191.4 196.2 1190.6C198.7 1189.9 203.1 1189.1 206.2 1188.8C209.4 1188.4 214.3 1188.3 217.5 1188.5C220.7 1188.7 224.1 1189.2 227.5 1190.0C230.9 1190.8 236.2 1192.4 240.0 1193.8C243.8 1195.1 248.8 1197.1 252.5 1198.8C256.2 1200.4 261.6 1203.1 265.0 1205.0C268.4 1206.9 272.2 1209.2 275.0 1211.2C277.8 1213.3 281.3 1216.3 283.8 1218.8C286.2 1221.2 289.4 1225.1 291.2 1227.5C293.1 1229.9 295.0 1232.6 296.2 1235.0C297.5 1237.4 298.8 1240.9 299.4 1243.8C299.9 1246.6 300.1 1251.1 300.0 1253.8C299.9 1256.4 299.7 1259.4 298.8 1261.2C297.8 1263.1 295.4 1265.3 293.8 1266.2C292.1 1267.2 289.2 1266.9 287.5 1267.5C285.8 1268.1 284.0 1269.1 282.5 1270.0C281.0 1270.9 279.2 1272.6 277.5 1273.8C275.8 1274.9 273.1 1276.2 271.2 1277.5C269.4 1278.8 266.7 1281.2 265.0 1282.5C263.3 1283.8 261.3 1285.7 260.0 1286.2C258.7 1286.8 257.6 1287.0 256.2 1286.2C254.9 1285.5 252.5 1282.9 251.2 1281.2C250.0 1279.6 248.7 1277.1 248.1 1275.0C247.6 1272.9 247.2 1269.8 247.5 1267.5C247.8 1265.2 249.3 1262.2 250.0 1260.0C250.7 1257.8 251.9 1254.9 251.9 1252.5C251.9 1250.1 250.7 1246.4 250.0 1243.8C249.3 1241.1 248.2 1237.4 247.5 1235.0C246.8 1232.6 246.1 1229.8 245.0 1227.5C243.9 1225.2 241.7 1222.2 240.0 1220.0C238.3 1217.8 236.0 1214.6 233.8 1212.5C231.5 1210.4 227.8 1207.8 225.0 1206.2C222.2 1204.8 218.0 1203.2 215.0 1202.5C212.0 1201.8 207.8 1201.4 205.0 1201.2C202.2 1201.1 198.9 1201.3 196.2 1201.5C193.6 1201.7 189.9 1202.2 187.5 1202.5C185.1 1202.8 182.1 1203.6 180.0 1203.8C177.9 1203.9 174.1 1204.5 173.8 1203.8Z" fill="none" stroke="#808080" stroke-width="2.6" filter="url(#b1)" opacity="0.55"/></g></g>
<g transform="translate(293 0)"><path d="M44.4 1250.0C44.4 1247.8 44.3 1243.0 45.0 1240.0C45.7 1237.0 47.2 1233.0 48.8 1230.0C50.2 1227.0 52.8 1222.8 55.0 1220.0C57.2 1217.2 60.8 1213.9 63.8 1211.2C66.8 1208.6 71.4 1204.7 75.0 1202.5C78.6 1200.3 83.8 1198.4 87.5 1196.9C91.2 1195.4 96.2 1193.6 100.0 1192.5C103.8 1191.4 109.1 1190.0 112.5 1189.4C115.9 1188.7 119.5 1188.3 122.5 1188.1C125.5 1188.0 129.7 1188.3 132.5 1188.5C135.3 1188.7 138.8 1189.1 141.2 1189.4C143.7 1189.7 146.9 1190.0 148.8 1190.6C150.6 1191.3 152.2 1192.9 153.8 1193.8C155.2 1194.6 157.2 1196.0 158.8 1196.2C160.2 1196.5 162.4 1195.1 163.8 1195.6C165.1 1196.2 166.5 1198.8 167.5 1200.0C168.5 1201.2 171.0 1202.9 170.6 1203.5C170.2 1204.1 166.6 1204.1 165.0 1203.8C163.4 1203.4 161.7 1201.7 160.0 1201.2C158.3 1200.8 155.6 1200.7 153.8 1200.6C151.9 1200.5 149.6 1200.5 147.5 1200.6C145.4 1200.7 142.2 1201.1 140.0 1201.2C137.8 1201.4 134.8 1201.4 132.5 1201.9C130.2 1202.3 127.2 1203.3 125.0 1204.4C122.8 1205.4 119.8 1207.2 117.5 1208.8C115.2 1210.2 111.9 1212.9 110.0 1214.4C108.1 1215.9 106.9 1217.5 105.0 1218.8C103.1 1220.0 100.5 1220.8 97.5 1222.5C94.5 1224.2 88.8 1227.4 85.0 1230.0C81.2 1232.6 75.5 1237.0 72.5 1240.0C69.5 1243.0 66.5 1247.0 65.0 1250.0C63.5 1253.0 63.2 1257.4 62.5 1260.0C61.8 1262.6 61.3 1266.5 60.0 1267.5C58.7 1268.5 55.4 1267.6 53.8 1266.9C52.1 1266.1 50.1 1264.3 48.8 1262.5C47.4 1260.7 45.7 1256.9 45.0 1255.0C44.3 1253.1 44.4 1252.2 44.4 1250.0Z" fill="#b4b4b4"/><g clip-path="url(#cLc)"><g filter="url(#b3)"><path d="M63.8 1221.2C67.3 1218.5 76.9 1209.4 85.0 1205.0C93.1 1200.6 103.1 1196.9 112.5 1195.0C121.9 1193.1 136.5 1194.0 141.2 1193.8" stroke="#c6c6c6" stroke-width="5" fill="none" stroke-linecap="round" stroke-linejoin="round" opacity="0.9"/></g><path d="M67.5 1208.8L69.3 1207.5L71.2 1205.7L72.0 1203.9L74.2 1202.6L75.0 1201.2L77.0 1200.2L77.8 1200.5L79.4 1199.4L82.4 1198.6L84.0 1197.1L85.3 1196.7L87.5 1195.6L88.3 1194.9L91.8 1193.8L92.9 1194.5L94.7 1192.5L96.0 1192.3L98.2 1191.3L100.0 1191.2L101.7 1191.3L103.9 1190.6L104.5 1189.7L106.5 1189.1L108.3 1190.3L110.3 1189.6L112.5 1188.5L114.7 1188.6L116.4 1188.4L118.6 1187.4L119.7 1187.4L122.5 1187.2L124.0 1187.2L125.8 1187.7L129.3 1188.4L131.4 1186.5L132.5 1187.5L134.8 1188.4L136.3 1187.9L138.1 1189.2L141.2 1188.8L143.4 1188.8L144.7 1189.1L147.5 1190.6L147.3 1192.8L147.5 1193.8L148.8 1196.2L147.2 1197.8L147.2 1198.8L145.0 1201.2L143.9 1201.0L141.7 1201.1L139.4 1202.4L137.5 1201.9L135.5 1201.6L134.4 1202.7L131.5 1202.0L130.0 1202.9L129.1 1203.8L126.6 1203.4L123.8 1204.7L122.5 1205.4L120.4 1207.1L119.8 1206.9L118.1 1208.4L116.2 1209.8L115.4 1211.3L112.2 1211.5L111.9 1213.7L110.0 1215.0L109.3 1215.6L107.4 1216.6L105.0 1218.1L103.9 1217.7L101.9 1217.7L100.1 1216.3L97.5 1216.2L97.4 1214.4L98.4 1212.9L100.0 1210.0L101.6 1208.3L104.3 1206.8L105.0 1205.0L106.2 1204.5L108.8 1203.2L110.0 1201.2L112.2 1200.5L112.7 1199.6L115.0 1197.5L113.7 1195.3L112.5 1193.8L110.6 1194.7L109.6 1193.6L107.7 1194.8L105.0 1195.0L103.8 1195.6L100.1 1197.2L99.0 1197.0L97.1 1197.7L95.0 1198.8L93.5 1198.9L90.8 1200.2L89.4 1202.3L87.5 1202.5L86.2 1204.8L86.4 1207.5L85.0 1208.8L85.3 1211.4L84.8 1212.0L84.7 1215.3L83.8 1216.2L83.6 1219.1L83.9 1220.3L82.5 1222.5L80.2 1223.7L80.3 1224.5L78.7 1225.4L76.2 1227.5L73.6 1228.0L71.2 1228.8L71.8 1226.0L71.2 1224.2L70.4 1221.7L70.0 1220.0L70.4 1217.8L68.4 1215.4L68.8 1214.7L68.0 1213.0L66.9 1211.0Z" fill="#7c7cba" opacity="0.95"/><path d="M58.8 1217.5L59.9 1215.5L61.8 1214.9L62.6 1213.1L63.2 1212.5L65.0 1210.6L67.9 1209.6L70.0 1209.4L70.6 1211.1L71.4 1213.0L72.2 1214.9L72.5 1216.2L72.1 1218.0L72.4 1219.7L71.9 1222.1L72.5 1223.8L71.8 1225.7L71.2 1227.8L70.0 1230.0L68.2 1231.9L67.5 1233.4L66.2 1235.0L63.9 1236.2L62.5 1237.5L62.0 1236.1L60.6 1233.4L59.9 1232.4L58.8 1230.0L59.2 1228.1L59.2 1225.6L58.4 1224.2L58.9 1221.2L58.3 1219.7Z" fill="#2fd430" opacity="1" filter="url(#b1)"/><path d="M53.8 1222.5L55.2 1220.9L57.4 1219.7L58.8 1217.5L60.9 1219.9L62.5 1221.2L62.9 1222.8L63.2 1224.9L64.2 1226.7L65.0 1228.6L65.0 1230.0L65.2 1231.6L64.7 1234.3L64.4 1236.2L62.7 1237.0L60.0 1238.8L59.1 1237.0L58.0 1235.1L55.7 1234.0L55.0 1232.5L54.9 1230.0L54.5 1228.6L54.7 1226.2L53.9 1224.8Z" fill="#f2ee20" opacity="1" filter="url(#b15)"/><path d="M48.8 1230.0L50.1 1228.8L51.5 1226.3L52.7 1225.2L53.8 1223.8L55.9 1223.3L58.8 1223.8L60.2 1226.1L61.0 1227.6L61.9 1230.0L61.8 1231.8L62.7 1233.5L63.3 1235.6L63.1 1237.5L62.1 1238.6L60.0 1240.0L58.8 1239.3L56.6 1238.2L55.3 1237.1L53.8 1236.2L52.7 1234.6L51.6 1233.3L50.1 1232.0Z" fill="#ff9416" opacity="1" filter="url(#b15)"/><path d="M43.1 1240.0L44.0 1238.0L44.6 1237.0L46.4 1235.2L47.2 1233.8L48.1 1231.9L50.1 1232.3L52.6 1232.3L55.0 1232.5L56.2 1233.1L58.5 1234.6L59.7 1235.7L61.9 1236.2L62.0 1237.8L63.3 1240.4L63.8 1242.5L63.4 1244.2L62.1 1246.1L61.8 1248.1L61.2 1250.0L61.3 1251.6L60.5 1254.3L59.6 1255.7L60.2 1258.2L59.4 1260.0L59.3 1261.7L60.0 1263.8L59.6 1265.7L59.4 1267.6L60.0 1269.0L57.5 1268.4L56.2 1268.7L53.8 1268.4L52.4 1267.7L50.3 1265.6L48.9 1264.8L47.5 1264.0L47.0 1262.7L45.9 1259.9L45.0 1258.4L44.6 1256.4L43.5 1255.0L42.7 1252.7L43.4 1251.7L43.4 1249.4L42.8 1247.5L42.4 1245.3L43.0 1243.9L43.4 1242.0Z" fill="#ff3018" opacity="1" filter="url(#b15)"/><path d="M44.4 1250.0C44.4 1247.8 44.3 1243.0 45.0 1240.0C45.7 1237.0 47.2 1233.0 48.8 1230.0C50.2 1227.0 52.8 1222.8 55.0 1220.0C57.2 1217.2 60.8 1213.9 63.8 1211.2C66.8 1208.6 71.4 1204.7 75.0 1202.5C78.6 1200.3 83.8 1198.4 87.5 1196.9C91.2 1195.4 96.2 1193.6 100.0 1192.5C103.8 1191.4 109.1 1190.0 112.5 1189.4C115.9 1188.7 119.5 1188.3 122.5 1188.1C125.5 1188.0 129.7 1188.3 132.5 1188.5C135.3 1188.7 138.8 1189.1 141.2 1189.4C143.7 1189.7 146.9 1190.0 148.8 1190.6C150.6 1191.3 152.2 1192.9 153.8 1193.8C155.2 1194.6 157.2 1196.0 158.8 1196.2C160.2 1196.5 162.4 1195.1 163.8 1195.6C165.1 1196.2 166.5 1198.8 167.5 1200.0C168.5 1201.2 171.0 1202.9 170.6 1203.5C170.2 1204.1 166.6 1204.1 165.0 1203.8C163.4 1203.4 161.7 1201.7 160.0 1201.2C158.3 1200.8 155.6 1200.7 153.8 1200.6C151.9 1200.5 149.6 1200.5 147.5 1200.6C145.4 1200.7 142.2 1201.1 140.0 1201.2C137.8 1201.4 134.8 1201.4 132.5 1201.9C130.2 1202.3 127.2 1203.3 125.0 1204.4C122.8 1205.4 119.8 1207.2 117.5 1208.8C115.2 1210.2 111.9 1212.9 110.0 1214.4C108.1 1215.9 106.9 1217.5 105.0 1218.8C103.1 1220.0 100.5 1220.8 97.5 1222.5C94.5 1224.2 88.8 1227.4 85.0 1230.0C81.2 1232.6 75.5 1237.0 72.5 1240.0C69.5 1243.0 66.5 1247.0 65.0 1250.0C63.5 1253.0 63.2 1257.4 62.5 1260.0C61.8 1262.6 61.3 1266.5 60.0 1267.5C58.7 1268.5 55.4 1267.6 53.8 1266.9C52.1 1266.1 50.1 1264.3 48.8 1262.5C47.4 1260.7 45.7 1256.9 45.0 1255.0C44.3 1253.1 44.4 1252.2 44.4 1250.0Z" fill="none" stroke="#808080" stroke-width="2.6" filter="url(#b1)" opacity="0.55"/></g><path d="M58.8 1250.0C59.3 1247.5 60.4 1245.0 61.9 1242.5C63.3 1240.0 65.1 1237.5 67.5 1235.0C69.9 1232.5 72.9 1229.8 76.2 1227.5C79.6 1225.2 83.5 1222.9 87.5 1221.2C91.5 1219.6 95.8 1218.2 100.0 1217.5C104.2 1216.8 108.3 1216.7 112.5 1216.9C116.7 1217.1 121.0 1217.6 125.0 1218.8C129.0 1219.9 132.9 1221.9 136.2 1223.8C139.6 1225.6 142.5 1227.7 145.0 1230.0C147.5 1232.3 150.0 1235.0 151.2 1237.5C152.5 1240.0 152.7 1242.5 152.5 1245.0C152.3 1247.5 151.0 1250.2 150.0 1252.5C149.0 1254.8 147.7 1256.7 146.2 1258.8C144.8 1260.8 143.1 1262.7 141.2 1265.0C139.4 1267.3 136.9 1270.6 135.0 1272.5C133.1 1274.4 131.7 1276.0 130.0 1276.2C128.3 1276.5 126.5 1274.8 125.0 1273.8C123.5 1272.7 122.9 1271.0 121.2 1270.0C119.6 1269.0 117.3 1267.8 115.0 1267.5C112.7 1267.2 109.8 1267.7 107.5 1268.1C105.2 1268.5 102.9 1269.1 101.2 1270.0C99.6 1270.9 98.8 1272.3 97.5 1273.8C96.2 1275.2 95.0 1277.1 93.8 1278.8C92.5 1280.4 91.2 1282.5 90.0 1283.8C88.8 1285.0 87.5 1286.0 86.2 1286.2C85.0 1286.5 84.2 1286.0 82.5 1285.0C80.8 1284.0 78.3 1281.7 76.2 1280.0C74.2 1278.3 72.1 1276.7 70.0 1275.0C67.9 1273.3 65.4 1271.7 63.8 1270.0C62.1 1268.3 60.8 1267.1 60.0 1265.0C59.2 1262.9 59.0 1260.0 58.8 1257.5C58.5 1255.0 58.2 1252.5 58.8 1250.0Z" fill="#b8b8b8"/><g clip-path="url(#pLc)"><g filter="url(#b3)"><path d="M91.2 1230.0C93.8 1227.5 103.5 1225.0 110.0 1225.0C116.5 1225.0 125.0 1227.5 130.0 1230.0C135.0 1232.5 140.0 1237.5 140.0 1240.0C140.0 1242.5 135.0 1245.2 130.0 1245.0C125.0 1244.8 115.8 1239.6 110.0 1238.8C104.2 1237.9 98.1 1241.5 95.0 1240.0C91.9 1238.5 88.8 1232.5 91.2 1230.0Z" fill="#c9c9c9" opacity="0.9"/><path d="M105.0 1250.0C107.5 1249.6 115.0 1247.5 120.0 1247.5C125.0 1247.5 132.5 1249.6 135.0 1250.0" stroke="#a2a2a2" stroke-width="6" fill="none" stroke-linecap="round" stroke-linejoin="round" opacity="0.8"/><path d="M91.2 1255.0C92.9 1253.1 104.4 1252.9 110.0 1253.8C115.6 1254.6 124.2 1258.1 125.0 1260.0C125.8 1261.9 119.2 1264.2 115.0 1265.0C110.8 1265.8 104.0 1266.7 100.0 1265.0C96.0 1263.3 89.6 1256.9 91.2 1255.0Z" fill="#c2c2c2" opacity="0.8"/></g><path d="M61.9 1242.5L62.6 1241.7L64.4 1239.4L67.0 1238.4L67.5 1237.5L69.5 1238.5L71.4 1239.9L72.5 1240.0L73.0 1242.5L73.6 1244.4L73.1 1245.6L73.8 1247.5L74.4 1248.6L76.2 1252.0L76.1 1252.8L77.5 1255.0L78.4 1255.5L81.7 1254.7L83.1 1253.7L85.0 1253.8L85.1 1256.8L85.9 1257.5L87.5 1260.0L88.1 1261.0L86.6 1264.7L87.0 1265.1L86.2 1267.5L87.3 1269.9L90.1 1270.2L91.2 1272.5L93.6 1273.8L95.4 1275.9L96.2 1276.2L95.5 1278.5L93.4 1278.9L94.0 1280.7L91.8 1283.2L91.2 1285.0L88.7 1286.4L88.8 1286.3L86.2 1287.5L85.0 1287.3L82.5 1286.2L81.6 1284.0L79.5 1283.1L77.8 1282.5L76.2 1281.2L73.8 1279.1L72.8 1278.6L70.6 1277.9L70.0 1276.2L69.0 1275.0L65.7 1273.1L65.4 1273.0L63.1 1271.2L61.5 1269.0L60.5 1268.3L59.3 1265.7L58.8 1265.0L59.0 1263.0L58.1 1261.5L57.6 1259.8L57.5 1257.5L57.6 1255.9L58.9 1252.9L58.3 1250.0L58.8 1248.8L59.2 1247.4L61.4 1245.4Z" fill="#7c7cba" opacity="0.95"/><path d="M58.1 1255.0L59.5 1256.3L62.3 1256.0L63.8 1257.5L64.4 1259.6L66.2 1261.3L66.9 1263.8L67.5 1265.0L69.0 1266.3L70.6 1267.9L72.5 1269.4L73.8 1271.2L75.5 1272.7L76.8 1273.4L78.2 1274.4L79.3 1275.0L81.2 1276.2L83.0 1276.3L85.6 1276.9L86.4 1278.3L88.8 1278.8L91.2 1280.0L93.1 1280.0L92.3 1282.3L90.6 1284.8L88.7 1285.7L86.2 1287.5L83.8 1287.4L82.5 1286.2L80.7 1284.7L80.0 1283.5L78.2 1282.3L76.2 1281.2L74.2 1279.8L73.6 1278.1L71.2 1278.2L70.0 1276.2L67.8 1274.5L66.9 1274.3L65.3 1272.1L63.1 1271.2L62.0 1269.6L61.3 1267.8L60.0 1266.0L58.8 1265.0L58.0 1263.7L58.6 1261.3L57.8 1259.3L57.5 1257.5Z" fill="#2fd430" opacity="1" filter="url(#b1)"/><path d="M58.8 1250.0C59.3 1247.5 60.4 1245.0 61.9 1242.5C63.3 1240.0 65.1 1237.5 67.5 1235.0C69.9 1232.5 72.9 1229.8 76.2 1227.5C79.6 1225.2 83.5 1222.9 87.5 1221.2C91.5 1219.6 95.8 1218.2 100.0 1217.5C104.2 1216.8 108.3 1216.7 112.5 1216.9C116.7 1217.1 121.0 1217.6 125.0 1218.8C129.0 1219.9 132.9 1221.9 136.2 1223.8C139.6 1225.6 142.5 1227.7 145.0 1230.0C147.5 1232.3 150.0 1235.0 151.2 1237.5C152.5 1240.0 152.7 1242.5 152.5 1245.0C152.3 1247.5 151.0 1250.2 150.0 1252.5C149.0 1254.8 147.7 1256.7 146.2 1258.8C144.8 1260.8 143.1 1262.7 141.2 1265.0C139.4 1267.3 136.9 1270.6 135.0 1272.5C133.1 1274.4 131.7 1276.0 130.0 1276.2C128.3 1276.5 126.5 1274.8 125.0 1273.8C123.5 1272.7 122.9 1271.0 121.2 1270.0C119.6 1269.0 117.3 1267.8 115.0 1267.5C112.7 1267.2 109.8 1267.7 107.5 1268.1C105.2 1268.5 102.9 1269.1 101.2 1270.0C99.6 1270.9 98.8 1272.3 97.5 1273.8C96.2 1275.2 95.0 1277.1 93.8 1278.8C92.5 1280.4 91.2 1282.5 90.0 1283.8C88.8 1285.0 87.5 1286.0 86.2 1286.2C85.0 1286.5 84.2 1286.0 82.5 1285.0C80.8 1284.0 78.3 1281.7 76.2 1280.0C74.2 1278.3 72.1 1276.7 70.0 1275.0C67.9 1273.3 65.4 1271.7 63.8 1270.0C62.1 1268.3 60.8 1267.1 60.0 1265.0C59.2 1262.9 59.0 1260.0 58.8 1257.5C58.5 1255.0 58.2 1252.5 58.8 1250.0Z" fill="none" stroke="#808080" stroke-width="2.6" filter="url(#b1)" opacity="0.55"/></g><path d="M191.2 1245.0C191.4 1242.9 191.5 1239.8 192.5 1237.5C193.5 1235.2 195.4 1233.3 197.5 1231.2C199.6 1229.2 202.1 1226.9 205.0 1225.0C207.9 1223.1 211.7 1221.2 215.0 1220.0C218.3 1218.8 221.7 1218.0 225.0 1217.5C228.3 1217.0 231.7 1216.2 235.0 1216.9C238.3 1217.5 242.1 1219.1 245.0 1221.2C247.9 1223.4 250.8 1226.0 252.5 1230.0C254.2 1234.0 255.0 1240.0 255.0 1245.0C255.0 1250.0 253.3 1255.0 252.5 1260.0C251.7 1265.0 251.0 1273.1 250.0 1275.0C249.0 1276.9 247.9 1272.3 246.2 1271.2C244.6 1270.2 242.3 1269.4 240.0 1268.8C237.7 1268.1 234.8 1267.5 232.5 1267.5C230.2 1267.5 228.3 1267.9 226.2 1268.8C224.2 1269.6 221.9 1271.4 220.0 1272.5C218.1 1273.6 216.9 1275.8 215.0 1275.6C213.1 1275.4 210.8 1273.0 208.8 1271.2C206.7 1269.5 204.6 1267.3 202.5 1265.0C200.4 1262.7 198.0 1260.0 196.2 1257.5C194.5 1255.0 192.7 1252.1 191.9 1250.0C191.0 1247.9 191.1 1247.1 191.2 1245.0Z" fill="#b8b8b8"/><g clip-path="url(#pRc)"><g filter="url(#b3)"><path d="M202.5 1235.0C204.6 1230.8 212.1 1228.8 217.5 1227.5C222.9 1226.2 230.8 1225.4 235.0 1227.5C239.2 1229.6 242.5 1235.4 242.5 1240.0C242.5 1244.6 239.2 1251.7 235.0 1255.0C230.8 1258.3 222.5 1260.4 217.5 1260.0C212.5 1259.6 207.5 1256.7 205.0 1252.5C202.5 1248.3 200.4 1239.2 202.5 1235.0Z" fill="#c8c8c8" opacity="0.9"/><path d="M206.2 1250.0C208.1 1249.2 213.5 1245.4 217.5 1245.0C221.5 1244.6 227.9 1247.1 230.0 1247.5" stroke="#a8a8a8" stroke-width="6" fill="none" stroke-linecap="round" stroke-linejoin="round" opacity="0.7"/></g><path d="M191.2 1245.0C191.4 1242.9 191.5 1239.8 192.5 1237.5C193.5 1235.2 195.4 1233.3 197.5 1231.2C199.6 1229.2 202.1 1226.9 205.0 1225.0C207.9 1223.1 211.7 1221.2 215.0 1220.0C218.3 1218.8 221.7 1218.0 225.0 1217.5C228.3 1217.0 231.7 1216.2 235.0 1216.9C238.3 1217.5 242.1 1219.1 245.0 1221.2C247.9 1223.4 250.8 1226.0 252.5 1230.0C254.2 1234.0 255.0 1240.0 255.0 1245.0C255.0 1250.0 253.3 1255.0 252.5 1260.0C251.7 1265.0 251.0 1273.1 250.0 1275.0C249.0 1276.9 247.9 1272.3 246.2 1271.2C244.6 1270.2 242.3 1269.4 240.0 1268.8C237.7 1268.1 234.8 1267.5 232.5 1267.5C230.2 1267.5 228.3 1267.9 226.2 1268.8C224.2 1269.6 221.9 1271.4 220.0 1272.5C218.1 1273.6 216.9 1275.8 215.0 1275.6C213.1 1275.4 210.8 1273.0 208.8 1271.2C206.7 1269.5 204.6 1267.3 202.5 1265.0C200.4 1262.7 198.0 1260.0 196.2 1257.5C194.5 1255.0 192.7 1252.1 191.9 1250.0C191.0 1247.9 191.1 1247.1 191.2 1245.0Z" fill="none" stroke="#808080" stroke-width="2.6" filter="url(#b1)" opacity="0.55"/></g><path d="M173.8 1203.8C173.4 1203.0 176.0 1199.9 177.5 1198.8C179.0 1197.6 181.9 1197.0 183.8 1196.2C185.6 1195.5 188.1 1194.6 190.0 1193.8C191.9 1192.9 193.8 1191.4 196.2 1190.6C198.7 1189.9 203.1 1189.1 206.2 1188.8C209.4 1188.4 214.3 1188.3 217.5 1188.5C220.7 1188.7 224.1 1189.2 227.5 1190.0C230.9 1190.8 236.2 1192.4 240.0 1193.8C243.8 1195.1 248.8 1197.1 252.5 1198.8C256.2 1200.4 261.6 1203.1 265.0 1205.0C268.4 1206.9 272.2 1209.2 275.0 1211.2C277.8 1213.3 281.3 1216.3 283.8 1218.8C286.2 1221.2 289.4 1225.1 291.2 1227.5C293.1 1229.9 295.0 1232.6 296.2 1235.0C297.5 1237.4 298.8 1240.9 299.4 1243.8C299.9 1246.6 300.1 1251.1 300.0 1253.8C299.9 1256.4 299.7 1259.4 298.8 1261.2C297.8 1263.1 295.4 1265.3 293.8 1266.2C292.1 1267.2 289.2 1266.9 287.5 1267.5C285.8 1268.1 284.0 1269.1 282.5 1270.0C281.0 1270.9 279.2 1272.6 277.5 1273.8C275.8 1274.9 273.1 1276.2 271.2 1277.5C269.4 1278.8 266.7 1281.2 265.0 1282.5C263.3 1283.8 261.3 1285.7 260.0 1286.2C258.7 1286.8 257.6 1287.0 256.2 1286.2C254.9 1285.5 252.5 1282.9 251.2 1281.2C250.0 1279.6 248.7 1277.1 248.1 1275.0C247.6 1272.9 247.2 1269.8 247.5 1267.5C247.8 1265.2 249.3 1262.2 250.0 1260.0C250.7 1257.8 251.9 1254.9 251.9 1252.5C251.9 1250.1 250.7 1246.4 250.0 1243.8C249.3 1241.1 248.2 1237.4 247.5 1235.0C246.8 1232.6 246.1 1229.8 245.0 1227.5C243.9 1225.2 241.7 1222.2 240.0 1220.0C238.3 1217.8 236.0 1214.6 233.8 1212.5C231.5 1210.4 227.8 1207.8 225.0 1206.2C222.2 1204.8 218.0 1203.2 215.0 1202.5C212.0 1201.8 207.8 1201.4 205.0 1201.2C202.2 1201.1 198.9 1201.3 196.2 1201.5C193.6 1201.7 189.9 1202.2 187.5 1202.5C185.1 1202.8 182.1 1203.6 180.0 1203.8C177.9 1203.9 174.1 1204.5 173.8 1203.8Z" fill="#b4b4b4"/><g clip-path="url(#cRc)"><g filter="url(#b3)"><path d="M190.0 1198.8C194.2 1198.1 206.2 1194.4 215.0 1195.0C223.8 1195.6 234.2 1198.8 242.5 1202.5C250.8 1206.2 261.2 1215.0 265.0 1217.5" stroke="#c6c6c6" stroke-width="6" fill="none" stroke-linecap="round" stroke-linejoin="round" opacity="0.9"/></g><path d="M196.2 1190.6L199.2 1190.6L201.1 1190.0L201.3 1188.8L203.6 1188.4L206.2 1187.8L207.5 1187.8L209.7 1188.3L211.7 1188.1L214.0 1188.0L216.6 1187.3L217.5 1187.5L218.8 1188.1L222.2 1188.0L222.9 1188.6L226.0 1189.6L227.5 1189.0L230.0 1189.6L230.8 1191.0L233.4 1190.5L235.5 1191.2L237.4 1190.9L238.3 1192.4L240.0 1192.8L242.0 1192.6L244.0 1194.5L245.3 1194.7L247.3 1195.8L248.0 1196.4L250.3 1196.5L252.5 1197.8L255.3 1199.1L257.0 1199.0L257.4 1200.7L259.7 1200.8L260.5 1202.0L263.6 1202.6L265.0 1204.0L266.2 1204.4L268.4 1205.2L271.2 1206.8L271.9 1207.6L274.0 1208.4L275.6 1210.2L277.7 1211.9L278.1 1212.5L280.3 1213.8L280.8 1215.5L282.1 1216.5L284.4 1218.1L285.6 1220.4L287.4 1220.0L287.6 1222.4L289.4 1223.8L286.5 1224.1L284.8 1223.6L283.0 1222.3L281.2 1222.5L280.5 1224.1L279.8 1224.7L277.7 1226.9L277.5 1228.8L276.4 1228.5L274.3 1227.6L271.2 1227.7L270.0 1228.1L267.6 1226.2L266.2 1226.9L264.8 1226.3L262.5 1224.4L261.1 1223.4L258.7 1224.4L257.2 1223.4L255.0 1223.1L252.6 1223.0L250.4 1223.2L249.2 1222.2L246.2 1222.5L245.3 1225.6L245.0 1227.5L244.9 1225.2L243.4 1224.0L242.8 1223.8L240.5 1221.8L240.0 1220.0L237.9 1218.1L236.9 1217.7L235.4 1215.4L234.6 1213.5L233.8 1212.5L232.6 1210.4L229.9 1211.0L228.9 1209.0L227.6 1206.7L225.0 1206.5L222.6 1205.1L221.6 1204.7L219.2 1205.2L216.7 1202.5L215.0 1202.8L213.4 1201.9L210.1 1202.1L208.9 1201.6L206.2 1201.0L204.6 1199.6L203.1 1198.4L201.2 1196.2L199.5 1195.3L197.8 1193.7L198.0 1191.5Z" fill="#7c7cba" opacity="0.95"/><path d="M222.5 1191.9L224.6 1192.3L225.8 1192.6L228.3 1192.6L230.0 1192.9L232.5 1192.5L234.7 1193.5L236.5 1194.7L238.0 1194.5L240.2 1195.8L242.5 1196.2L241.4 1198.4L241.2 1200.0L239.6 1200.4L236.3 1199.1L235.0 1198.8L232.5 1198.8L231.3 1197.4L229.2 1197.1L226.3 1195.7L225.0 1195.0L224.4 1194.2Z" fill="#b6b6b6" opacity="1"/><path d="M251.2 1201.2L252.5 1201.7L254.0 1202.4L257.1 1203.5L258.7 1202.6L260.0 1203.8L260.2 1205.1L261.5 1207.2L261.1 1209.7L262.5 1211.2L259.8 1212.6L257.8 1211.7L256.2 1213.1L255.2 1212.4L253.8 1209.6L252.5 1208.8L252.4 1206.3L252.0 1204.5L251.5 1202.9Z" fill="#b4b4b4" opacity="1"/><path d="M246.2 1222.5L248.3 1222.7L250.5 1223.2L252.2 1222.9L255.0 1223.1L256.8 1223.0L258.8 1224.1L260.1 1223.6L262.5 1224.4L264.6 1224.8L266.3 1226.2L268.3 1227.6L270.0 1228.1L271.3 1228.3L273.5 1227.9L275.8 1228.1L277.5 1228.8L278.2 1226.9L279.8 1225.9L280.1 1224.0L281.2 1222.5L283.0 1223.4L285.3 1223.3L287.7 1223.4L289.4 1223.8L288.5 1226.1L287.7 1227.6L286.9 1230.0L285.2 1231.6L284.3 1233.4L282.9 1235.1L281.2 1236.2L279.8 1237.1L278.4 1238.0L276.7 1238.7L275.0 1240.0L273.1 1240.7L271.4 1240.9L268.8 1241.9L266.9 1241.8L264.8 1241.9L262.5 1241.9L259.5 1241.8L257.5 1240.6L255.3 1241.8L254.4 1242.6L252.5 1243.1L250.0 1245.6L248.9 1242.8L248.6 1240.6L248.1 1238.8L247.3 1236.2L247.3 1234.1L246.3 1232.1L246.5 1230.0L245.9 1228.6L246.6 1226.3L246.4 1224.0Z" fill="#2fd430" opacity="1" filter="url(#b1)"/><path d="M250.0 1245.6L252.5 1243.1L254.7 1242.7L255.9 1241.9L257.5 1240.6L259.5 1241.4L262.5 1241.9L265.1 1241.9L266.7 1241.9L268.8 1241.9L270.3 1241.3L272.6 1240.6L275.0 1240.0L276.7 1238.9L278.2 1238.2L280.2 1237.7L281.2 1236.2L282.9 1234.6L283.5 1233.7L285.0 1231.9L286.9 1230.0L288.5 1231.0L290.0 1232.5L288.8 1234.0L287.0 1236.1L286.1 1236.9L285.2 1238.6L283.8 1240.0L282.7 1241.6L280.6 1242.9L279.4 1243.9L277.5 1245.0L275.4 1245.4L273.2 1246.0L272.4 1247.0L270.0 1247.5L268.3 1247.1L266.5 1247.0L264.4 1247.1L262.5 1247.5L260.8 1247.5L258.6 1247.1L256.2 1247.5L254.9 1248.6L253.1 1250.5L251.9 1251.2L251.3 1249.2L250.9 1247.6Z" fill="#f2ee20" opacity="1" filter="url(#b15)"/><path d="M251.2 1255.0L253.2 1254.9L255.1 1254.6L257.5 1253.8L259.1 1254.9L261.1 1255.7L263.5 1256.7L265.0 1257.5L265.4 1258.9L266.0 1260.9L266.9 1264.1L267.0 1265.5L267.5 1267.5L267.8 1269.6L269.3 1271.6L269.4 1273.0L270.6 1275.5L270.1 1276.6L271.2 1278.8L269.6 1280.3L267.7 1281.3L266.7 1282.0L265.0 1283.8L263.3 1284.8L262.2 1285.9L260.0 1287.5L258.3 1287.1L255.6 1287.2L254.2 1286.4L253.4 1284.8L252.1 1283.4L250.6 1281.9L249.7 1279.7L249.1 1278.6L247.8 1276.3L246.9 1275.0L246.3 1273.7L246.3 1271.3L246.1 1269.8L246.2 1267.5L246.9 1265.4L247.1 1264.3L248.5 1262.2L249.0 1260.0L250.0 1257.8L251.0 1256.1Z" fill="#f4f020" opacity="1" filter="url(#b15)"/><path d="M251.9 1250.0L253.8 1248.5L255.1 1247.3L257.5 1246.9L260.0 1247.0L261.5 1247.2L263.0 1247.5L265.0 1247.5L266.7 1247.1L269.1 1247.1L270.7 1247.1L272.5 1246.2L274.7 1244.9L275.7 1243.8L278.3 1243.4L280.0 1242.5L281.1 1241.3L283.8 1239.9L285.0 1238.8L286.9 1240.9L288.8 1242.5L288.3 1244.2L287.5 1246.8L286.3 1248.5L285.3 1250.9L285.0 1252.5L284.2 1254.2L283.2 1256.1L283.2 1257.9L281.5 1260.3L281.2 1262.5L280.8 1264.1L280.6 1266.6L279.1 1268.7L278.7 1270.0L277.9 1271.9L277.5 1274.4L275.5 1275.8L274.8 1276.2L272.8 1277.0L271.2 1278.1L270.1 1277.0L269.5 1275.2L268.8 1272.6L268.2 1270.6L268.2 1268.9L267.5 1267.5L266.5 1266.1L266.8 1263.6L265.8 1261.0L265.8 1258.9L265.0 1257.5L263.2 1256.4L261.2 1255.5L259.2 1254.5L257.5 1253.8L255.3 1253.1L253.8 1251.4Z" fill="#ff9416" opacity="1" filter="url(#b15)"/><path d="M286.9 1230.0L288.2 1229.0L290.6 1228.2L291.9 1226.9L292.7 1228.6L293.5 1229.4L295.0 1231.3L295.6 1233.6L297.2 1234.8L297.5 1236.5L299.0 1238.2L299.3 1239.9L299.4 1242.4L300.6 1243.8L300.5 1245.4L300.7 1247.5L300.8 1250.3L301.2 1252.1L301.2 1254.0L300.7 1256.0L300.2 1257.9L300.7 1260.2L299.8 1261.9L297.8 1263.7L297.4 1264.8L295.3 1266.1L294.0 1267.1L291.6 1267.9L289.5 1267.6L287.5 1268.1L286.0 1269.4L284.7 1270.1L282.5 1270.6L282.2 1268.2L281.3 1266.2L281.6 1264.9L281.2 1262.5L282.1 1260.3L283.1 1258.8L284.1 1256.1L284.6 1254.9L285.0 1252.5L285.9 1250.7L286.1 1248.3L287.7 1246.2L288.2 1244.2L288.8 1242.5L289.2 1239.9L289.0 1238.0L289.4 1235.7L290.0 1233.8L288.9 1232.0Z" fill="#ff3018" opacity="1" filter="url(#b15)"/><path d="M173.8 1203.8C173.4 1203.0 176.0 1199.9 177.5 1198.8C179.0 1197.6 181.9 1197.0 183.8 1196.2C185.6 1195.5 188.1 1194.6 190.0 1193.8C191.9 1192.9 193.8 1191.4 196.2 1190.6C198.7 1189.9 203.1 1189.1 206.2 1188.8C209.4 1188.4 214.3 1188.3 217.5 1188.5C220.7 1188.7 224.1 1189.2 227.5 1190.0C230.9 1190.8 236.2 1192.4 240.0 1193.8C243.8 1195.1 248.8 1197.1 252.5 1198.8C256.2 1200.4 261.6 1203.1 265.0 1205.0C268.4 1206.9 272.2 1209.2 275.0 1211.2C277.8 1213.3 281.3 1216.3 283.8 1218.8C286.2 1221.2 289.4 1225.1 291.2 1227.5C293.1 1229.9 295.0 1232.6 296.2 1235.0C297.5 1237.4 298.8 1240.9 299.4 1243.8C299.9 1246.6 300.1 1251.1 300.0 1253.8C299.9 1256.4 299.7 1259.4 298.8 1261.2C297.8 1263.1 295.4 1265.3 293.8 1266.2C292.1 1267.2 289.2 1266.9 287.5 1267.5C285.8 1268.1 284.0 1269.1 282.5 1270.0C281.0 1270.9 279.2 1272.6 277.5 1273.8C275.8 1274.9 273.1 1276.2 271.2 1277.5C269.4 1278.8 266.7 1281.2 265.0 1282.5C263.3 1283.8 261.3 1285.7 260.0 1286.2C258.7 1286.8 257.6 1287.0 256.2 1286.2C254.9 1285.5 252.5 1282.9 251.2 1281.2C250.0 1279.6 248.7 1277.1 248.1 1275.0C247.6 1272.9 247.2 1269.8 247.5 1267.5C247.8 1265.2 249.3 1262.2 250.0 1260.0C250.7 1257.8 251.9 1254.9 251.9 1252.5C251.9 1250.1 250.7 1246.4 250.0 1243.8C249.3 1241.1 248.2 1237.4 247.5 1235.0C246.8 1232.6 246.1 1229.8 245.0 1227.5C243.9 1225.2 241.7 1222.2 240.0 1220.0C238.3 1217.8 236.0 1214.6 233.8 1212.5C231.5 1210.4 227.8 1207.8 225.0 1206.2C222.2 1204.8 218.0 1203.2 215.0 1202.5C212.0 1201.8 207.8 1201.4 205.0 1201.2C202.2 1201.1 198.9 1201.3 196.2 1201.5C193.6 1201.7 189.9 1202.2 187.5 1202.5C185.1 1202.8 182.1 1203.6 180.0 1203.8C177.9 1203.9 174.1 1204.5 173.8 1203.8Z" fill="none" stroke="#808080" stroke-width="2.6" filter="url(#b1)" opacity="0.55"/></g></g>
<rect x="261.3" y="1327.5" width="123.5" height="11.8" fill="url(#cbar)"/>
<text x="207.45" y="1316.00" font-size="20.6" textLength="238.50" lengthAdjust="spacingAndGlyphs" >Percentage of individuals</text>
<text x="217.30" y="1341.30" font-size="20.6" textLength="34.70" lengthAdjust="spacingAndGlyphs" >&gt;20</text>
<text x="392.00" y="1341.30" font-size="20.6" textLength="36.00" lengthAdjust="spacingAndGlyphs" >&gt;80</text>
<text x="0.50" y="777.90" font-size="27.5" textLength="16.00" lengthAdjust="spacingAndGlyphs" font-weight="bold" style="stroke-width:1.3px;stroke-linejoin:round" >e</text>
<text x="250.65" y="764.50" font-size="20.6" textLength="173.30" lengthAdjust="spacingAndGlyphs" >SAL density maps</text>
<text x="81.3" y="800.8" font-size="20.6" textLength="230.7" lengthAdjust="spacingAndGlyphs">Healthy controls (<tspan font-style="italic">n</tspan> = 37)</text>
<text x="389.3" y="800.8" font-size="20.6" textLength="196" lengthAdjust="spacingAndGlyphs">Depression (<tspan font-style="italic">n</tspan> = 141)</text>
<text x="-54.65" y="997.30" font-size="20.6" textLength="149.30" lengthAdjust="spacingAndGlyphs" transform="rotate(-90 20.00 997.30)" >Cortical surface</text>
<text x="-19.30" y="1238.00" font-size="20.6" textLength="78.60" lengthAdjust="spacingAndGlyphs" transform="rotate(-90 20.00 1238.00)" >Striatum</text>
<text x="314.70" y="836.00" font-size="20.6" textLength="50.60" lengthAdjust="spacingAndGlyphs" >LPFC</text>
<text x="364.00" y="989.30" font-size="20.6" textLength="16.00" lengthAdjust="spacingAndGlyphs" >AI</text>
<text x="532.00" y="1004.50" font-size="20.6" textLength="44.00" lengthAdjust="spacingAndGlyphs" >ACC</text>
<text x="334.70" y="1188.80" font-size="20.6" textLength="26.60" lengthAdjust="spacingAndGlyphs" >Cd</text>
<text x="450.70" y="1289.30" font-size="20.6" textLength="26.60" lengthAdjust="spacingAndGlyphs" >PU</text>
<text x="524.00" y="1317.90" font-size="20.6" textLength="40.00" lengthAdjust="spacingAndGlyphs" >NAc</text>
<path d="M342.0 846.3L361.6 871.3" stroke="#000" stroke-width="1.6"/>
<path d="M386.7 978.7L410.7 953.3" stroke="#000" stroke-width="1.6"/>
<path d="M553.3 1009.9L553.3 1070.7" stroke="#000" stroke-width="1.6"/>
<path d="M348.6 1199.4L348.6 1235.0" stroke="#000" stroke-width="1.6"/>
<path d="M414.9 1231.2L458.6 1266.3" stroke="#000" stroke-width="1.6"/>
<path d="M511.8 1230.6L469.9 1267.5" stroke="#000" stroke-width="1.6"/>
<path d="M554.9 1266.3L554.9 1298.1" stroke="#000" stroke-width="1.6"/>
<path d="M49.1 98.0L64.7 116.0" stroke="#000" stroke-width="1.6"/>
<path d="M64.7 116.0L70.4 123.0" stroke="#fff" stroke-width="1.8"/>
<path d="M94.4 232.8L116.4 208.0" stroke="#000" stroke-width="1.6"/>
<path d="M260.0 261.3L260.0 280.0" stroke="#000" stroke-width="1.6"/>
<path d="M260.0 280.0L260.0 322.5" stroke="#fff" stroke-width="1.8"/>
</svg>
</body></html>
